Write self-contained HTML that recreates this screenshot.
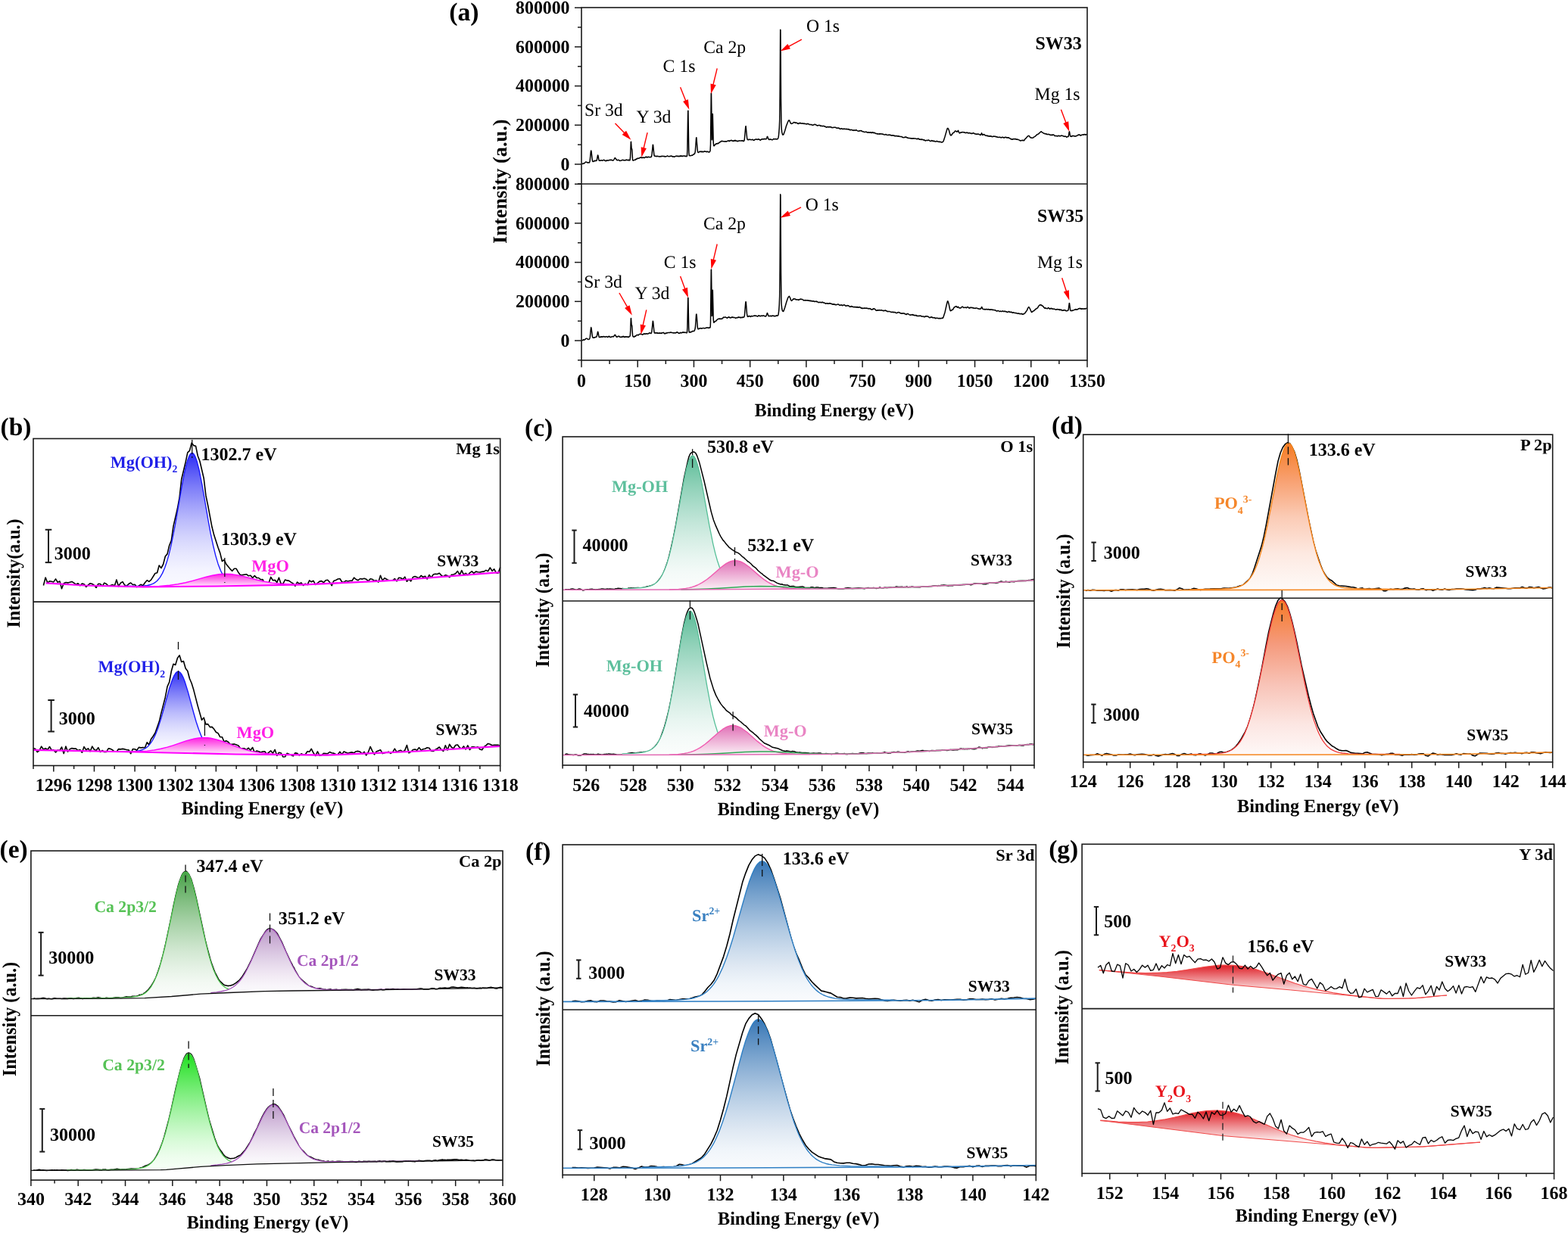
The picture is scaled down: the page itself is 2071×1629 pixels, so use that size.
<!DOCTYPE html><html><head><meta charset="utf-8"><title>XPS spectra</title><style>html,body{margin:0;padding:0;background:#fff;overflow:hidden}svg{display:block}</style></head><body><svg width="2071" height="1629" viewBox="0 0 2071 1629" text-rendering="geometricPrecision" font-family="'Liberation Serif', 'Times New Roman', serif"><rect width="2071" height="1629" fill="#fff"/><defs><linearGradient id="g1" gradientUnits="userSpaceOnUse" x1="0" y1="598.5" x2="0" y2="775.3"><stop offset="0.0" stop-color="#2c2cf4"/><stop offset="0.125" stop-color="#5656f6"/><stop offset="0.25" stop-color="#7c7cf8"/><stop offset="0.375" stop-color="#9d9dfa"/><stop offset="0.5" stop-color="#bbbbfc"/><stop offset="0.625" stop-color="#d3d3fd"/><stop offset="0.75" stop-color="#e6e6fe"/><stop offset="0.875" stop-color="#f4f4ff"/><stop offset="1.0" stop-color="#fafaff"/></linearGradient><linearGradient id="g2" gradientUnits="userSpaceOnUse" x1="0" y1="758.3" x2="0" y2="775.3"><stop offset="0" stop-color="#ff20e0"/><stop offset="1" stop-color="#fff0fc"/></linearGradient><linearGradient id="g3" gradientUnits="userSpaceOnUse" x1="0" y1="887.3" x2="0" y2="995.8"><stop offset="0.0" stop-color="#2c2cf4"/><stop offset="0.125" stop-color="#5656f6"/><stop offset="0.25" stop-color="#7c7cf8"/><stop offset="0.375" stop-color="#9d9dfa"/><stop offset="0.5" stop-color="#bbbbfc"/><stop offset="0.625" stop-color="#d3d3fd"/><stop offset="0.75" stop-color="#e6e6fe"/><stop offset="0.875" stop-color="#f4f4ff"/><stop offset="1.0" stop-color="#fafaff"/></linearGradient><linearGradient id="g4" gradientUnits="userSpaceOnUse" x1="0" y1="974.6" x2="0" y2="997.5"><stop offset="0" stop-color="#ff20e0"/><stop offset="1" stop-color="#fff0fc"/></linearGradient><linearGradient id="g5" gradientUnits="userSpaceOnUse" x1="0" y1="602.0" x2="0" y2="779.1"><stop offset="0.0" stop-color="#5cbc98"/><stop offset="0.125" stop-color="#79c8aa"/><stop offset="0.25" stop-color="#94d3bb"/><stop offset="0.375" stop-color="#acddcb"/><stop offset="0.5" stop-color="#c3e6d9"/><stop offset="0.625" stop-color="#d6eee5"/><stop offset="0.75" stop-color="#e7f5f0"/><stop offset="0.875" stop-color="#f4faf8"/><stop offset="1.0" stop-color="#fbfdfc"/></linearGradient><linearGradient id="g6" gradientUnits="userSpaceOnUse" x1="0" y1="740.6" x2="0" y2="779.0"><stop offset="0" stop-color="#e070b6"/><stop offset="1" stop-color="#fbf0f6"/></linearGradient><linearGradient id="g7" gradientUnits="userSpaceOnUse" x1="0" y1="807.3" x2="0" y2="997.5"><stop offset="0.0" stop-color="#5cbc98"/><stop offset="0.125" stop-color="#79c8aa"/><stop offset="0.25" stop-color="#94d3bb"/><stop offset="0.375" stop-color="#acddcb"/><stop offset="0.5" stop-color="#c3e6d9"/><stop offset="0.625" stop-color="#d6eee5"/><stop offset="0.75" stop-color="#e7f5f0"/><stop offset="0.875" stop-color="#f4faf8"/><stop offset="1.0" stop-color="#fbfdfc"/></linearGradient><linearGradient id="g8" gradientUnits="userSpaceOnUse" x1="0" y1="958.5" x2="0" y2="997.3"><stop offset="0" stop-color="#e070b6"/><stop offset="1" stop-color="#fbf0f6"/></linearGradient><linearGradient id="g9" gradientUnits="userSpaceOnUse" x1="0" y1="585.6" x2="0" y2="779.7"><stop offset="0" stop-color="#f67c24"/><stop offset="0.25" stop-color="#f8a070"/><stop offset="0.5" stop-color="#fbcbb5"/><stop offset="0.75" stop-color="#fde9e1"/><stop offset="1" stop-color="#fefaf8"/></linearGradient><linearGradient id="g10" gradientUnits="userSpaceOnUse" x1="0" y1="792.8" x2="0" y2="997.2"><stop offset="0" stop-color="#f67a26"/><stop offset="0.28" stop-color="#f59a7c"/><stop offset="0.55" stop-color="#f8c4b8"/><stop offset="0.8" stop-color="#fce6e2"/><stop offset="1" stop-color="#fef8f7"/></linearGradient><linearGradient id="g11" gradientUnits="userSpaceOnUse" x1="0" y1="1151.9" x2="0" y2="1319.4"><stop offset="0.0" stop-color="#47a047"/><stop offset="0.125" stop-color="#68b168"/><stop offset="0.25" stop-color="#86c186"/><stop offset="0.375" stop-color="#a2cfa2"/><stop offset="0.5" stop-color="#bbdcbb"/><stop offset="0.625" stop-color="#d2e8d2"/><stop offset="0.75" stop-color="#e4f1e4"/><stop offset="0.875" stop-color="#f3f9f3"/><stop offset="1.0" stop-color="#fbfdfb"/></linearGradient><linearGradient id="g12" gradientUnits="userSpaceOnUse" x1="0" y1="1227.2" x2="0" y2="1312.6"><stop offset="0.0" stop-color="#bb98c8"/><stop offset="0.125" stop-color="#c6a9d1"/><stop offset="0.25" stop-color="#d1b8da"/><stop offset="0.375" stop-color="#dac7e2"/><stop offset="0.5" stop-color="#e3d5e9"/><stop offset="0.625" stop-color="#ece1f0"/><stop offset="0.75" stop-color="#f3ecf5"/><stop offset="0.875" stop-color="#f8f5fa"/><stop offset="1.0" stop-color="#fcfafd"/></linearGradient><linearGradient id="g13" gradientUnits="userSpaceOnUse" x1="0" y1="1391.8" x2="0" y2="1546.2"><stop offset="0.0" stop-color="#1ee01e"/><stop offset="0.125" stop-color="#43e543"/><stop offset="0.25" stop-color="#66ea66"/><stop offset="0.375" stop-color="#87ef87"/><stop offset="0.5" stop-color="#a5f3a5"/><stop offset="0.625" stop-color="#c1f7c1"/><stop offset="0.75" stop-color="#d9fbd9"/><stop offset="0.875" stop-color="#ecfdec"/><stop offset="1.0" stop-color="#f8fff8"/></linearGradient><linearGradient id="g14" gradientUnits="userSpaceOnUse" x1="0" y1="1459.6" x2="0" y2="1540.7"><stop offset="0.0" stop-color="#bb98c8"/><stop offset="0.125" stop-color="#c6a9d1"/><stop offset="0.25" stop-color="#d1b8da"/><stop offset="0.375" stop-color="#dac7e2"/><stop offset="0.5" stop-color="#e3d5e9"/><stop offset="0.625" stop-color="#ece1f0"/><stop offset="0.75" stop-color="#f3ecf5"/><stop offset="0.875" stop-color="#f8f5fa"/><stop offset="1.0" stop-color="#fcfafd"/></linearGradient><linearGradient id="g15" gradientUnits="userSpaceOnUse" x1="0" y1="1137.8" x2="0" y2="1323.2"><stop offset="0.0" stop-color="#3877b6"/><stop offset="0.125" stop-color="#5a8ec2"/><stop offset="0.25" stop-color="#7aa4ce"/><stop offset="0.375" stop-color="#98b8d9"/><stop offset="0.5" stop-color="#b3cbe3"/><stop offset="0.625" stop-color="#cbdbec"/><stop offset="0.75" stop-color="#e0e9f3"/><stop offset="0.875" stop-color="#f0f5fa"/><stop offset="1.0" stop-color="#fafbfd"/></linearGradient><linearGradient id="g16" gradientUnits="userSpaceOnUse" x1="0" y1="1346.8" x2="0" y2="1543.2"><stop offset="0.0" stop-color="#3877b6"/><stop offset="0.125" stop-color="#5a8ec2"/><stop offset="0.25" stop-color="#7aa4ce"/><stop offset="0.375" stop-color="#98b8d9"/><stop offset="0.5" stop-color="#b3cbe3"/><stop offset="0.625" stop-color="#cbdbec"/><stop offset="0.75" stop-color="#e0e9f3"/><stop offset="0.875" stop-color="#f0f5fa"/><stop offset="1.0" stop-color="#fafbfd"/></linearGradient><linearGradient id="g17" gradientUnits="userSpaceOnUse" x1="0" y1="1275.0" x2="0" y2="1311.5"><stop offset="0" stop-color="#de1c24"/><stop offset="0.5" stop-color="#ee8a8e"/><stop offset="1" stop-color="#fdf2f2"/></linearGradient><linearGradient id="g18" gradientUnits="userSpaceOnUse" x1="0" y1="1467.1" x2="0" y2="1508.3"><stop offset="0" stop-color="#de1c24"/><stop offset="0.5" stop-color="#ee8a8e"/><stop offset="1" stop-color="#fdf2f2"/></linearGradient></defs><line x1="763.00" y1="242.85" x2="768.00" y2="242.85" stroke="#1a1a1a" stroke-width="1.5"/><line x1="759.00" y1="217.00" x2="768.00" y2="217.00" stroke="#1a1a1a" stroke-width="1.5"/><text transform="translate(752.50,224.60) scale(0.98,1)" font-size="24.3" font-weight="bold" text-anchor="end" fill="#000">0</text><line x1="763.00" y1="191.15" x2="768.00" y2="191.15" stroke="#1a1a1a" stroke-width="1.5"/><line x1="759.00" y1="165.30" x2="768.00" y2="165.30" stroke="#1a1a1a" stroke-width="1.5"/><text transform="translate(752.50,172.90) scale(0.98,1)" font-size="24.3" font-weight="bold" text-anchor="end" fill="#000">200000</text><line x1="763.00" y1="139.45" x2="768.00" y2="139.45" stroke="#1a1a1a" stroke-width="1.5"/><line x1="759.00" y1="113.60" x2="768.00" y2="113.60" stroke="#1a1a1a" stroke-width="1.5"/><text transform="translate(752.50,121.20) scale(0.98,1)" font-size="24.3" font-weight="bold" text-anchor="end" fill="#000">400000</text><line x1="763.00" y1="87.75" x2="768.00" y2="87.75" stroke="#1a1a1a" stroke-width="1.5"/><line x1="759.00" y1="61.90" x2="768.00" y2="61.90" stroke="#1a1a1a" stroke-width="1.5"/><text transform="translate(752.50,69.50) scale(0.98,1)" font-size="24.3" font-weight="bold" text-anchor="end" fill="#000">600000</text><line x1="763.00" y1="36.05" x2="768.00" y2="36.05" stroke="#1a1a1a" stroke-width="1.5"/><line x1="759.00" y1="10.20" x2="768.00" y2="10.20" stroke="#1a1a1a" stroke-width="1.5"/><text transform="translate(752.50,17.80) scale(0.98,1)" font-size="24.3" font-weight="bold" text-anchor="end" fill="#000">800000</text><line x1="763.00" y1="475.85" x2="768.00" y2="475.85" stroke="#1a1a1a" stroke-width="1.5"/><line x1="759.00" y1="450.00" x2="768.00" y2="450.00" stroke="#1a1a1a" stroke-width="1.5"/><text transform="translate(752.50,457.60) scale(0.98,1)" font-size="24.3" font-weight="bold" text-anchor="end" fill="#000">0</text><line x1="763.00" y1="424.15" x2="768.00" y2="424.15" stroke="#1a1a1a" stroke-width="1.5"/><line x1="759.00" y1="398.30" x2="768.00" y2="398.30" stroke="#1a1a1a" stroke-width="1.5"/><text transform="translate(752.50,405.90) scale(0.98,1)" font-size="24.3" font-weight="bold" text-anchor="end" fill="#000">200000</text><line x1="763.00" y1="372.45" x2="768.00" y2="372.45" stroke="#1a1a1a" stroke-width="1.5"/><line x1="759.00" y1="346.60" x2="768.00" y2="346.60" stroke="#1a1a1a" stroke-width="1.5"/><text transform="translate(752.50,354.20) scale(0.98,1)" font-size="24.3" font-weight="bold" text-anchor="end" fill="#000">400000</text><line x1="763.00" y1="320.75" x2="768.00" y2="320.75" stroke="#1a1a1a" stroke-width="1.5"/><line x1="759.00" y1="294.90" x2="768.00" y2="294.90" stroke="#1a1a1a" stroke-width="1.5"/><text transform="translate(752.50,302.50) scale(0.98,1)" font-size="24.3" font-weight="bold" text-anchor="end" fill="#000">600000</text><line x1="763.00" y1="269.05" x2="768.00" y2="269.05" stroke="#1a1a1a" stroke-width="1.5"/><line x1="759.00" y1="243.20" x2="768.00" y2="243.20" stroke="#1a1a1a" stroke-width="1.5"/><text transform="translate(752.50,250.80) scale(0.98,1)" font-size="24.3" font-weight="bold" text-anchor="end" fill="#000">800000</text><rect x="768.00" y="10.00" width="668.00" height="466.00" fill="none" stroke="#1a1a1a" stroke-width="1.6"/><line x1="768.00" y1="243.00" x2="1436.00" y2="243.00" stroke="#1a1a1a" stroke-width="1.6"/><line x1="805.11" y1="476.00" x2="805.11" y2="481.00" stroke="#1a1a1a" stroke-width="1.5"/><line x1="879.33" y1="476.00" x2="879.33" y2="481.00" stroke="#1a1a1a" stroke-width="1.5"/><line x1="953.56" y1="476.00" x2="953.56" y2="481.00" stroke="#1a1a1a" stroke-width="1.5"/><line x1="1027.78" y1="476.00" x2="1027.78" y2="481.00" stroke="#1a1a1a" stroke-width="1.5"/><line x1="1102.00" y1="476.00" x2="1102.00" y2="481.00" stroke="#1a1a1a" stroke-width="1.5"/><line x1="1176.22" y1="476.00" x2="1176.22" y2="481.00" stroke="#1a1a1a" stroke-width="1.5"/><line x1="1250.44" y1="476.00" x2="1250.44" y2="481.00" stroke="#1a1a1a" stroke-width="1.5"/><line x1="1324.67" y1="476.00" x2="1324.67" y2="481.00" stroke="#1a1a1a" stroke-width="1.5"/><line x1="1398.89" y1="476.00" x2="1398.89" y2="481.00" stroke="#1a1a1a" stroke-width="1.5"/><line x1="768.00" y1="476.00" x2="768.00" y2="485.20" stroke="#1a1a1a" stroke-width="1.5"/><text transform="translate(768.00,510.50) scale(0.98,1)" font-size="24.3" font-weight="bold" text-anchor="middle" fill="#000">0</text><line x1="842.22" y1="476.00" x2="842.22" y2="485.20" stroke="#1a1a1a" stroke-width="1.5"/><text transform="translate(842.22,510.50) scale(0.98,1)" font-size="24.3" font-weight="bold" text-anchor="middle" fill="#000">150</text><line x1="916.44" y1="476.00" x2="916.44" y2="485.20" stroke="#1a1a1a" stroke-width="1.5"/><text transform="translate(916.44,510.50) scale(0.98,1)" font-size="24.3" font-weight="bold" text-anchor="middle" fill="#000">300</text><line x1="990.67" y1="476.00" x2="990.67" y2="485.20" stroke="#1a1a1a" stroke-width="1.5"/><text transform="translate(990.67,510.50) scale(0.98,1)" font-size="24.3" font-weight="bold" text-anchor="middle" fill="#000">450</text><line x1="1064.89" y1="476.00" x2="1064.89" y2="485.20" stroke="#1a1a1a" stroke-width="1.5"/><text transform="translate(1064.89,510.50) scale(0.98,1)" font-size="24.3" font-weight="bold" text-anchor="middle" fill="#000">600</text><line x1="1139.11" y1="476.00" x2="1139.11" y2="485.20" stroke="#1a1a1a" stroke-width="1.5"/><text transform="translate(1139.11,510.50) scale(0.98,1)" font-size="24.3" font-weight="bold" text-anchor="middle" fill="#000">750</text><line x1="1213.33" y1="476.00" x2="1213.33" y2="485.20" stroke="#1a1a1a" stroke-width="1.5"/><text transform="translate(1213.33,510.50) scale(0.98,1)" font-size="24.3" font-weight="bold" text-anchor="middle" fill="#000">900</text><line x1="1287.56" y1="476.00" x2="1287.56" y2="485.20" stroke="#1a1a1a" stroke-width="1.5"/><text transform="translate(1287.56,510.50) scale(0.98,1)" font-size="24.3" font-weight="bold" text-anchor="middle" fill="#000">1050</text><line x1="1361.78" y1="476.00" x2="1361.78" y2="485.20" stroke="#1a1a1a" stroke-width="1.5"/><text transform="translate(1361.78,510.50) scale(0.98,1)" font-size="24.3" font-weight="bold" text-anchor="middle" fill="#000">1200</text><line x1="1436.00" y1="476.00" x2="1436.00" y2="485.20" stroke="#1a1a1a" stroke-width="1.5"/><text transform="translate(1436.00,510.50) scale(0.98,1)" font-size="24.3" font-weight="bold" text-anchor="middle" fill="#000">1350</text><text transform="translate(1102.00,550.00) scale(0.96,1)" font-size="24.8" font-weight="bold" text-anchor="middle" fill="#000">Binding Energy (eV)</text><text transform="translate(668.60,239.70) rotate(-90)" font-size="26.3" font-weight="bold" text-anchor="middle" fill="#000">Intensity (a.u.)</text><text transform="translate(593.20,27.30)" font-size="33.8" font-weight="bold" text-anchor="start" fill="#000">(a)</text><polyline points="768.5,216.6 769.1,216.4 769.3,216.5 769.5,216.3 769.7,216.4 770.1,216.1 770.9,216 771.3,215.8 771.5,216 773.5,213.9 773.9,214.1 774.3,214 775.3,214.7 775.7,214.6 776.1,215 777.1,214.6 777.9,215 778.5,214.8 779.1,213.1 780.3,200.9 780.7,199 781.1,200.5 782.3,211.5 782.7,213.2 783.1,213.5 783.5,213.5 783.7,213.3 784.5,213 784.7,212.6 784.9,212.7 785.3,212.3 785.7,212.7 785.9,212.3 786.5,212.3 787.1,212.6 787.7,212 787.9,212.1 788.1,212 788.5,210.6 789.5,205.1 789.7,205.1 789.9,205.4 790.9,210.9 791.1,211.7 791.5,212.3 792.3,212 792.7,212.3 793.1,212 793.5,212.1 793.9,211.7 794.7,211.8 795.9,212.2 797.1,211.6 797.3,211.2 798.5,211.7 799.1,212.2 799.3,212.6 800.1,212.4 800.5,212.7 801.3,211.7 803.9,211.9 804.1,211.7 804.7,211.5 805.3,211.6 805.9,211.2 806.1,211.5 806.9,211.3 807.1,211.5 807.3,211.3 807.7,211.6 808.1,211.4 808.9,212 809.1,211.8 809.3,212 810.1,211.9 811.1,210.6 811.7,209.3 812.3,208.6 813.5,209.8 814.3,211.3 814.7,211.3 815.5,211.8 816.5,211.2 817.1,211.6 817.7,211.7 818.7,212.5 819.1,212.2 819.5,212.4 820.5,212.1 820.9,211.7 821.3,211.8 821.5,211.6 821.9,211.6 822.1,211.2 822.9,211.5 823.3,211.4 824.3,212 824.7,211.7 825.5,211.8 826.5,211.5 826.7,211.7 827.1,211.3 827.9,211.1 828.3,211.6 828.9,211.6 829.1,211.7 829.5,211.5 830.1,211.8 830.3,211.3 830.7,211.7 831.1,211.6 831.7,211.9 831.9,211.8 832.1,211.1 832.5,208.2 833.3,187.8 833.5,187.3 834.1,196.1 834.3,196.8 834.5,196.5 834.7,197.3 835.5,209.9 835.7,211.5 836.1,212.1 836.7,212.1 836.9,211.8 838.1,211.4 838.5,210.9 838.7,210.9 838.9,211.3 839.3,211.2 839.7,210.5 840.1,210.2 840.3,210.5 840.7,210.3 841.3,209.4 841.7,209.7 842.3,209.3 843.9,209.2 844.5,208.7 845.1,208.6 845.3,208.3 845.7,208.3 845.9,208 846.5,208.2 846.9,208 847.3,208.4 847.7,208.3 848.3,208.5 849.5,208 850.5,208.5 851.3,208.5 852.3,207.6 852.9,207.5 853.1,207.2 853.5,207.6 853.7,207.4 853.9,207.8 854.1,207.7 854.5,207.8 854.7,207.6 855.1,208 855.9,207.3 856.1,207.4 856.5,207.2 856.7,207.4 857.5,207.4 857.7,207.5 858.1,207.4 858.5,207.9 859.7,207.3 860.1,207.5 860.5,206.6 861.1,203.4 862.3,191.3 862.5,191.3 862.7,192.6 863.9,204.8 864.1,205.6 864.7,206.2 865.3,206.4 865.5,206.2 865.7,206.3 866.1,206.2 866.3,206.5 866.7,206.6 866.9,206.4 867.1,206.7 867.9,206.6 868.3,206.3 869.3,206.4 870.3,206.9 871.1,206.9 871.7,206.5 872.5,206.9 873.1,206.5 873.7,206.7 874.5,206.2 875.3,206.6 876.3,206.3 877.1,206.7 877.5,206.5 878.5,207.1 878.9,206.8 879.7,206.8 881.7,205.8 881.9,206.1 882.5,206.4 883.7,206.7 884.3,206.4 884.9,206.7 886.3,206 887.3,206.2 888.1,207 888.3,207 888.5,206.6 889.3,207 889.7,206.8 889.9,207 890.3,207 890.5,207.3 891.1,207.1 891.3,206.8 891.7,206.8 892.9,206 893.3,206.2 893.9,206.2 894.5,206.5 894.7,206.3 895.3,206.5 895.5,206.3 896.9,206.7 897.5,206.2 897.9,206.5 898.5,206.4 898.9,205.7 899.3,206.3 899.7,206.4 899.9,206 900.5,206 900.9,206.5 901.1,206.2 901.9,206.5 902.3,206 902.5,206.1 902.9,205.9 903.7,206.1 904.1,205.9 904.7,206.5 905.3,206.3 906.1,206.6 906.5,206.3 906.9,206.6 907.3,206.2 907.5,205.6 907.9,197 908.5,156.6 908.7,146.5 908.9,146.3 909.7,196.3 909.9,202 910.3,205.3 910.9,205.7 911.7,205.7 912.3,205.5 913.1,205.6 913.3,205.3 914.5,205.2 915.7,204.1 916.1,204 916.5,203.5 917.1,203.4 917.7,202.7 918.3,200.1 919.5,183.3 919.7,181.8 919.9,181.8 921.1,197.3 921.7,201 922.1,201.4 922.7,201.6 923.5,200.6 923.9,200.6 924.3,200.1 924.5,200.3 924.9,200.1 925.3,200.6 925.9,200.3 926.3,200.6 926.5,200.2 926.9,200.5 927.5,200 927.9,200.7 928.5,200.8 928.9,200.5 929.5,200.4 929.9,200 930.5,199.8 931.1,200.3 931.7,200.1 932.9,200.4 933.1,200.2 933.5,200.6 933.9,200.2 934.9,200.2 935.1,200.5 935.5,200.6 935.9,201 936.9,201 937.7,200.1 938.1,199 938.5,190.8 939.3,123.4 939.5,123 940.3,184.7 940.5,184 941.3,150.5 942.1,183.6 942.3,189 942.7,192.6 943.1,192.8 943.5,192.5 944.1,191.5 944.9,190.6 945.5,190.2 945.7,190.4 946.3,189.7 946.9,189.9 947.1,189.5 947.5,189.6 947.7,189.4 947.9,189.4 948.1,189.8 948.3,189.8 948.7,189.5 948.9,189 949.1,189.2 950.3,187.9 950.5,188 950.7,187.7 950.9,187.9 952.1,186.9 952.3,187 952.9,186.4 953.5,186.2 953.9,186.7 954.3,186.5 954.7,186.7 956.1,186.7 956.5,186.9 958.5,186.7 958.9,187 959.1,186.8 959.5,187.1 961.1,186.2 961.3,185.9 961.7,186.1 962.3,186.1 962.5,186.3 962.7,186.1 963.3,186.6 964.1,185.7 964.7,186 965.5,185.3 966.1,185.7 966.7,185.4 967.3,186.2 967.7,186.2 968.1,186.1 968.5,186.4 969.1,186.4 969.5,185.6 970.1,186.1 970.5,185.6 970.7,185.8 971.1,185.4 971.5,186.1 971.9,185.8 972.3,186.1 972.7,186 972.9,186.5 973.3,186.5 973.7,186.2 973.9,186.4 974.1,186.3 974.5,186.7 974.9,186.2 975.7,186.2 976.3,185.8 976.9,186.1 977.5,186 977.7,186.1 978.1,185.9 979.5,186 979.9,185.7 980.1,186.1 980.3,185.9 980.7,185.8 981.7,186.2 981.9,186.7 982.1,186.4 982.3,186.5 982.5,186.4 983.1,185.3 983.3,184.2 984.7,168.2 984.9,167 985.1,166.7 986.7,182.8 987.3,184.4 988.1,184.8 988.7,184.3 989.9,184.4 990.3,184.1 990.9,184.5 991.3,184.4 992.1,184.7 993.1,184.6 993.7,184.2 994.1,184.4 994.7,185.1 995.1,184.9 995.5,185.4 996.1,185.2 996.7,184.5 997.3,184.5 998.1,183.9 998.9,184 999.1,184.2 999.3,184 999.5,184.3 999.7,184.2 1000.1,184.4 1001.3,184.1 1001.5,183.8 1002.5,184.2 1002.7,184 1003.9,185.1 1004.3,185.2 1004.9,184.4 1005.5,184.4 1006.1,183.8 1006.5,183.8 1006.7,184.1 1008.3,183.5 1008.5,183.9 1009.3,183.8 1009.5,183.5 1009.9,183.8 1010.1,183.6 1010.3,183.7 1010.5,183.3 1011.7,183.9 1012.1,183.7 1012.5,183.1 1013.1,181.1 1013.5,180.3 1014.1,181.2 1014.7,183.4 1015.5,184.4 1015.9,184.3 1016.1,184.6 1016.3,184.6 1016.7,184 1017.9,184.2 1018.3,184 1018.7,184.5 1020.3,184.7 1020.7,184.2 1021.1,184.2 1021.5,183.6 1021.9,183.5 1023.3,183.9 1023.7,183.7 1024.1,183.6 1024.3,183.8 1024.7,183.6 1025.1,183.8 1026.1,184 1026.5,183.7 1026.9,183.8 1027.5,183.1 1028.1,181.4 1028.5,178.8 1029.3,169.1 1029.7,159.4 1030.1,127.3 1030.7,39.2 1030.9,39.8 1031.5,130.8 1031.9,162.8 1032.3,171.1 1032.7,174.4 1033.5,177.6 1034.1,178.2 1034.5,178 1035.1,177.2 1036.7,172.7 1038.7,165.7 1038.9,165.2 1039.1,165.1 1039.9,162.7 1041.1,160 1042.1,158.8 1042.7,159.2 1044.1,162.5 1044.5,163.1 1045.1,163.4 1045.5,163.3 1045.7,163.4 1046.3,163.1 1046.9,163 1048.5,161.5 1050.1,162 1050.5,162.4 1050.9,162 1051.7,162.1 1052.1,162.4 1052.9,162.6 1053.5,163.2 1053.9,163.3 1054.1,163.5 1054.5,163.1 1054.7,163.1 1054.9,163.5 1055.1,163.5 1055.3,163.1 1056.1,162.5 1056.7,162.7 1056.9,162.4 1057.3,162.9 1057.9,162.8 1058.1,163.1 1058.9,163.2 1059.3,162.9 1059.9,163.2 1060.1,162.9 1061.3,163.5 1061.9,163.1 1062.1,163.4 1062.3,163.3 1062.9,163.5 1063.3,163.4 1064.3,163.8 1064.7,163.7 1065.3,164 1066.1,163.6 1066.5,163.7 1066.9,163.4 1067.3,163.4 1068.1,164.1 1068.7,164.2 1069.5,164.7 1071.1,164.4 1072.1,164.8 1072.7,165.5 1073.1,165.5 1073.5,165.2 1074.1,165.3 1075.1,164.5 1075.3,164.7 1076.1,164.3 1077.3,164.7 1079.1,165.9 1079.5,165.7 1080.3,165.9 1081.1,165.5 1082.3,165.5 1082.9,165.6 1083.7,166.4 1083.9,166.2 1084.7,166.2 1084.9,166.5 1085.5,166.4 1085.7,166.2 1086.3,166.8 1087.3,166.3 1087.7,166.6 1088.3,166.5 1088.9,167.1 1089.5,167 1091.3,168 1091.7,167.9 1091.9,168.1 1092.3,167.7 1092.5,167.8 1092.9,167.6 1093.7,167.7 1093.9,167.6 1094.3,167.9 1094.7,167.8 1095.1,167.9 1095.5,167.6 1096.3,167.7 1096.5,167.5 1096.7,168 1097.3,167.8 1097.7,168.1 1098.3,168.2 1098.5,168.6 1098.9,168.3 1099.5,168.7 1100.3,168.6 1100.5,168.3 1100.9,168.5 1101.3,168.5 1101.7,168.2 1102.5,168.3 1103.1,168.2 1103.7,168.5 1103.9,168.4 1104.3,168.6 1104.5,169 1105.3,169.3 1106.9,168.9 1107.7,169.2 1108.3,169.7 1108.7,169.6 1109.7,170.5 1111.7,169.8 1112.1,169.8 1112.5,170.5 1112.7,170.3 1112.9,170.5 1113.7,170.4 1114.1,170.6 1114.5,170 1114.7,170.2 1114.9,170.1 1115.5,170.3 1115.7,170.5 1116.1,170.4 1116.3,170.6 1116.7,170.4 1117.1,170.6 1117.7,170.3 1117.9,170.7 1118.1,170.5 1119.3,170.8 1119.7,170.6 1120.1,170.7 1120.3,170.6 1120.5,170.9 1121.1,170.6 1121.5,171.3 1122.1,171.4 1122.3,171.7 1122.5,171.4 1122.9,171.7 1123.5,171.5 1123.7,171.7 1124.1,171.6 1124.3,171.3 1124.5,171.6 1125.1,171.6 1125.5,171.9 1126.1,171.9 1126.3,172.2 1126.7,172.1 1127.1,172.4 1127.5,172 1128.1,172.3 1128.5,171.9 1129.5,172.4 1130.1,171.8 1131.1,172.1 1131.3,171.9 1131.9,172.6 1132.9,172.9 1133.3,173.3 1134.7,173.2 1135.5,172.6 1135.7,172.9 1136.1,172.7 1136.3,172.8 1137.1,172.6 1137.5,172.9 1137.7,172.7 1139.1,173.8 1139.5,173.7 1139.9,174 1140.5,174 1141.7,174.5 1142.3,174.6 1143.7,174.1 1144.3,174.2 1144.5,174.5 1145.5,175.1 1146.1,175 1146.3,175.2 1146.5,174.8 1147.1,174.9 1147.5,174.8 1147.7,175.1 1148.1,175.3 1148.3,175.1 1148.5,175.2 1149.1,175 1149.3,175.2 1149.7,174.8 1150.1,174.9 1150.7,175.5 1151.1,175.5 1151.3,175.1 1151.7,175.5 1152.3,174.7 1152.7,174.7 1153.3,175.4 1153.7,175.2 1154.3,175.7 1155.1,175.2 1155.5,175.8 1156.3,176.1 1156.7,176.5 1157.5,176.6 1157.9,176.4 1158.5,176.9 1159.5,176.7 1159.7,177.1 1160.7,177 1161.3,177.2 1161.9,176.7 1162.3,176.9 1162.5,176.7 1163.3,177.1 1163.7,176.7 1163.9,176.9 1164.1,176.8 1164.5,177 1165.3,176.9 1165.9,177.5 1166.3,177.3 1166.9,177.4 1167.3,177.8 1168.3,177.9 1168.7,178.1 1169.1,177.7 1169.3,177.8 1169.9,177.4 1171.9,178.6 1173.3,178.1 1174.1,178.6 1174.7,178 1175.3,178.3 1176.1,178.3 1176.7,179 1178.3,178.7 1179.1,179 1179.9,178.8 1180.7,179.1 1180.9,179.4 1181.3,179.3 1181.7,179.7 1182.1,179.6 1182.3,179.8 1182.9,179.5 1184.1,179.7 1184.7,179.5 1185.3,180 1186.1,179.8 1186.7,180.2 1186.9,179.8 1187.5,180.1 1187.9,180 1188.1,180.3 1189.1,180.6 1189.3,180.4 1189.7,180.5 1190.7,180.4 1191.1,180.6 1192.1,181.6 1192.5,181.4 1193.3,181.8 1194.1,181.4 1194.5,181.7 1195.7,181 1196.3,181.2 1196.7,181.1 1196.9,181.4 1197.3,181.6 1197.5,181.4 1197.7,181.8 1198.3,181.9 1198.7,182.2 1198.9,181.9 1199.7,182.5 1200.3,182.6 1200.5,182.5 1200.9,182.7 1201.7,182.4 1202.5,182.7 1202.9,182.7 1203.1,182.9 1203.5,182.8 1203.7,183.1 1204.3,182.8 1204.9,183.2 1205.1,183 1205.3,183.1 1205.7,182.7 1206.5,183 1207.1,182.7 1207.3,183.1 1208.9,182.9 1210.5,183.5 1210.9,183.5 1211.1,183.8 1212.5,183 1212.9,183.4 1213.3,183.3 1213.9,183.7 1214.3,184.2 1214.7,184.2 1214.9,184 1215.3,184.3 1215.7,184 1216.9,184.6 1217.1,184.1 1217.9,184.1 1218.9,184.5 1219.1,184.8 1219.3,184.7 1219.9,185.1 1220.5,184.7 1220.7,184.7 1221.3,185.5 1221.7,185.5 1221.9,185.8 1222.5,186 1223.3,185.4 1223.7,185.6 1223.9,185.3 1224.1,185.3 1224.7,185.6 1224.9,185.4 1225.7,185.2 1225.9,185.4 1226.7,185 1227.5,185.7 1227.9,185.8 1228.1,186.2 1228.9,186.6 1229.1,186.4 1229.7,186.5 1230.1,185.8 1230.3,186 1230.7,185.6 1231.1,186 1231.5,185.9 1232.1,186.4 1232.3,186.1 1232.9,186.6 1233.1,186.3 1233.5,186.4 1233.7,186.3 1234.1,186.3 1235.1,187.1 1236.1,186.9 1236.5,187 1237.3,186.2 1237.9,186.8 1238.3,186.7 1238.9,187.3 1239.7,187.2 1240.3,187.6 1240.9,187.1 1241.7,187.5 1242.3,187.4 1243.1,188 1243.7,188 1243.9,187.8 1244.5,187.9 1244.7,187.6 1245.3,187.6 1246.1,186.4 1247.9,181 1251.1,169.9 1251.9,169.4 1252.7,170.5 1253.5,172.5 1254.7,177.1 1255.3,178.3 1255.9,178.9 1256.3,178.8 1256.7,178.2 1257.1,178 1258.5,175.8 1259.1,175.4 1259.5,175.6 1260.1,174.8 1260.3,174.8 1261.3,173.4 1261.9,172.9 1262.1,173.2 1262.9,173.4 1263.9,174.2 1264.5,173.9 1265.5,172.4 1266.7,175.1 1267.5,175.9 1268.1,175.6 1268.5,175.2 1268.9,175.1 1269.3,175.3 1269.7,174.8 1270.9,174.8 1271.9,174.5 1272.1,174.7 1273.3,174.7 1273.9,175.3 1274.7,175.1 1275.1,175.7 1275.3,175.5 1276.3,175.4 1276.5,175.2 1276.7,175.3 1277.1,174.9 1278.3,175.6 1278.5,176 1280.1,175.6 1280.3,175.7 1280.5,175.5 1281.3,176.1 1282.3,176.1 1282.7,176.5 1283.3,176.3 1283.7,176.6 1284.7,176 1285.3,176.1 1285.7,175.6 1285.9,175.6 1286.3,176.2 1287.1,176.6 1287.3,176.5 1287.9,177.1 1288.5,176.9 1289.1,177.1 1289.5,177.5 1289.7,177.1 1290.5,177.3 1291.5,177.1 1291.7,177.3 1292.3,177.1 1292.9,177.4 1293.1,177.3 1293.3,177.6 1293.9,177.7 1294.3,178.2 1294.9,178.2 1295.1,178.5 1296.1,176.9 1296.5,175.8 1297.1,176.9 1297.5,178.3 1297.7,178.4 1298.1,178.1 1298.3,178.3 1299.1,177.4 1299.3,177.4 1299.9,177.8 1300.3,177.9 1300.9,178.5 1301.1,179 1301.5,178.9 1301.7,179.1 1302.7,179.2 1303.5,179.1 1303.9,179.6 1304.3,179.3 1304.7,179.4 1304.9,179.8 1305.3,179.9 1305.9,179.6 1306.7,180.2 1306.9,179.9 1307.3,179.8 1307.5,180.1 1308.1,179.8 1308.3,180.1 1308.5,179.8 1309.9,180.2 1310.1,180.7 1310.3,180.5 1310.5,180.6 1310.7,180.4 1311.9,180.5 1312.1,180.1 1312.5,180 1313.9,180.2 1314.1,180.1 1314.3,180.4 1315.5,180.5 1315.7,180.8 1315.9,180.6 1316.1,180.9 1316.3,180.8 1317.1,181 1317.5,181.3 1317.7,181.1 1319.1,181.6 1319.5,181.2 1320.1,181.3 1321.1,181.3 1322.3,182 1323.3,181.3 1323.5,181.5 1324.7,181.3 1325.5,181.9 1326.5,181.7 1326.7,181.9 1327.3,181.6 1327.5,181.2 1328.1,181.5 1328.7,181.5 1328.9,181.3 1329.3,181.8 1329.5,181.7 1329.7,181.9 1329.9,181.7 1330.3,182 1330.7,181.7 1330.9,181.9 1331.3,181.7 1331.5,181.9 1331.7,181.8 1332.1,182 1332.3,181.8 1333.1,182.6 1333.3,182.5 1334.5,183.3 1334.7,183.3 1334.9,183.7 1335.5,183.5 1335.9,184 1336.7,184.2 1337.1,183.8 1337.5,184.2 1337.7,183.9 1338.3,183.5 1339.5,183.8 1340.3,183.5 1340.7,183.7 1341.3,183.6 1341.7,183.9 1341.9,183.8 1342.3,184.3 1342.7,184.1 1342.9,184.3 1343.5,184 1344.1,184.4 1344.9,184.3 1345.3,184.6 1346.1,184.9 1346.5,185.4 1347.3,185.5 1347.7,185.9 1350.5,185.3 1350.7,185.6 1351.1,185.3 1351.7,185.7 1352.1,185.6 1352.5,185.8 1353.1,185.1 1353.7,183.9 1354.7,182.8 1355.3,182.5 1356.5,180.9 1358.3,179.4 1358.7,179.3 1359.7,179.9 1360.5,181.5 1361.1,181.5 1361.3,181.9 1361.9,182.2 1362.5,181.9 1363.1,182.3 1364.3,182 1365.5,181.3 1366.1,180.6 1367.3,180.2 1367.7,179.6 1368.9,178.7 1369.3,178 1370.3,177.5 1370.5,177.6 1371.3,177 1371.7,176.9 1372.9,175.6 1373.3,175.6 1373.7,174.9 1374.3,174.5 1374.5,174.1 1375.3,173.8 1375.7,174.3 1376.1,174.4 1376.7,175.1 1376.9,175 1378.5,176.2 1379.1,176.2 1379.5,176.6 1380.3,176.8 1380.7,176.7 1381.1,177 1381.9,176.8 1382.7,177.6 1383.3,177.4 1383.9,177.7 1384.7,177.3 1387.7,178.5 1388.3,178.2 1389.1,178.5 1389.3,178.2 1389.7,178.4 1390.1,178.1 1390.5,178.4 1391.1,177.9 1391.5,178.1 1391.7,178 1391.9,178.4 1392.5,178.6 1393.3,179.7 1393.7,179.6 1393.9,179.4 1394.3,179.6 1394.7,179.4 1395.5,179.4 1395.9,179.9 1396.7,179.9 1397.1,179.5 1397.9,179.3 1398.5,179.4 1398.9,179.8 1399.7,179.6 1399.9,179.8 1400.5,179.8 1400.9,179.4 1401.7,179.4 1401.9,179.1 1402.3,179.3 1402.7,179.1 1403.5,179.4 1403.7,179.7 1404.3,179.7 1405.5,180.4 1406.1,180.3 1406.5,180 1407.7,180.3 1408.7,181.3 1409.3,180.9 1410.3,180.5 1410.9,180.6 1411.1,180.2 1411.5,178.7 1412.1,174.8 1412.3,174 1412.5,173.8 1413.3,178.4 1413.7,179.7 1413.9,180.1 1414.1,180 1415.1,180.4 1415.7,179.8 1416.3,179.9 1416.7,179.3 1417.1,179.5 1417.5,179.3 1417.7,179.6 1418.3,179.5 1418.7,179.9 1419.1,179.7 1419.5,180 1420.1,179.9 1420.7,180.2 1421.9,179.3 1422.1,179.6 1422.9,179.2 1423.3,178.6 1423.9,178.5 1424.7,178 1425.3,178.2 1425.5,178 1425.9,178.4 1426.1,178.2 1427.1,178.7 1427.5,179.2 1428.5,178.3 1429.3,177.9 1429.9,177.9 1430.3,178.2 1430.5,178 1430.9,178.1 1431.3,177.8 1431.7,177.9 1432.3,177.4 1433.1,177.9 1433.3,177.9 1433.5,177.7 1433.9,177.7 1434.1,178.1 1434.9,177.6 1435.5,177.9" fill="none" stroke="#000" stroke-width="1.5" stroke-linejoin="round"/><polyline points="768.5,450 769.9,449.4 770.5,448.6 771.1,449.2 772.5,448.8 773.1,448 773.3,448 773.5,447.7 774.3,447.2 775.3,447.2 775.5,447.6 775.9,447.7 776.7,448.5 778.1,448.2 778.7,447.6 779.3,445.4 780.3,435.2 780.7,432.6 781.1,434 782.5,445.1 782.9,446 783.1,445.9 783.9,446.4 784.5,446.2 784.9,445.7 785.3,446 786.3,445.4 786.7,445.3 786.9,445.5 787.3,445.3 787.5,445.4 788.1,444.6 788.7,442.6 789.5,438.3 789.7,438.3 790.1,439.6 790.9,444.2 791.3,445.3 791.7,445.6 792.3,445.2 792.5,445.4 792.7,445.2 792.9,445.5 793.1,445.2 793.5,445.3 793.9,444.8 794.3,445.2 794.9,444.7 795.5,444.9 795.9,445.3 796.1,445 796.3,445.1 797.3,444.5 799.3,445.3 800.3,444.7 800.7,444.8 801.1,444.5 802.3,445.4 802.9,445.3 803.3,444.8 803.5,445 804.1,444.2 804.9,444.5 805.3,445.1 805.5,444.9 805.7,445 806.1,445.6 806.3,445.4 807.1,445.5 807.9,444.7 809.3,444.6 809.9,444.9 810.1,444.7 810.7,444.5 811.7,442.6 812.1,442.4 812.5,442.4 812.9,442.7 813.7,444.6 813.9,444.5 814.5,445.2 814.9,445.3 815.1,445.1 815.3,445.1 815.7,444.7 815.9,444.8 816.3,444.3 816.7,444.2 817.1,444.5 817.9,444.3 818.7,445.3 819.3,445.2 819.9,445.5 820.5,445.4 820.9,444.9 821.3,445.3 821.7,445.2 822.5,444.5 822.7,445 823.3,444.4 824.5,445.4 824.9,444.9 825.1,445.2 825.5,445.3 826.5,444.7 826.9,445.1 827.1,444.9 827.3,445.1 827.7,445.1 828.1,444.8 828.3,445.1 828.7,445.2 829.1,444.9 830.1,445.6 830.3,445.1 830.5,445.1 830.9,444.6 831.1,444.8 831.9,444.3 832.3,443.3 832.7,437.2 833.3,421 833.5,420.5 834.1,429.1 834.3,429.8 834.5,429.6 834.7,430.5 835.5,442.4 835.9,444.2 836.5,444.9 836.9,444.9 837.1,445.1 837.7,444.9 838.1,445 838.3,444.4 838.7,444.1 838.9,444.2 839.3,444 839.5,444.1 839.7,443.7 840.3,443.5 840.5,443 841.5,442.3 841.7,442.6 842.1,442.4 842.5,442.9 842.9,443 844.1,441.7 844.9,441.4 845.9,441.2 846.5,441.5 846.7,441.2 846.9,441.2 847.1,441.4 847.7,441.6 847.9,441.9 848.7,442.2 849.1,441.8 849.9,441.5 850.5,440.8 851.7,441.3 852.5,441.2 852.9,440.8 853.1,440.9 853.9,440.7 854.9,441.2 855.1,441 855.5,441.1 856.5,440.8 856.9,440.4 857.3,440.3 857.7,439.8 858.7,439.9 859.9,440.6 860.7,439 860.9,438 862.3,424.2 862.5,424.3 862.7,425.3 863.9,438 864.3,439.7 864.7,440.1 865.3,439.7 865.7,440 866.1,440.1 866.3,439.7 866.7,439.7 867.1,440 867.7,439.7 868.3,440.2 868.9,440 869.7,440.4 870.3,440 871.1,440.2 871.5,439.8 872.3,440.3 873.3,440.1 873.5,440.5 873.9,440 874.1,440.2 874.5,439.8 875.9,439.6 876.1,439.2 877.3,440.5 877.5,440.3 878.1,441 878.5,440.7 878.7,440.8 879.3,440 880.3,440.2 881.1,439.7 881.3,440 882.1,439.4 882.7,439.6 883.7,439.5 884.5,439.6 884.7,439.3 885.1,439.4 885.7,439 886.1,439.2 886.3,439 886.9,439.5 887.5,439.4 888.7,439.8 888.9,439.6 889.5,439.9 890.1,439.8 890.5,439.9 890.7,439.6 892.1,440 892.5,439.5 892.9,439.7 893.3,439.3 893.7,439.2 894.1,438.7 894.3,438.8 894.5,439.2 894.9,439.1 895.3,439.5 895.9,439.5 896.3,440.3 896.5,440.1 896.7,440.4 897.1,440.2 897.3,440.3 897.7,440 897.9,440.1 898.1,439.6 898.7,439.4 898.9,439.6 899.3,439.2 900.1,439.9 900.9,439.4 901.3,439.4 901.7,438.9 902.3,439.3 902.5,438.9 903.5,439.5 904.1,439 904.7,439.3 905.5,439.3 906.1,439.7 906.3,439.6 907.1,439.8 907.3,439.6 907.5,438.7 907.9,432.2 908.7,393.5 908.9,393.6 909.7,432.5 909.9,436.8 910.3,439 910.7,439.2 911.1,438.7 911.9,438.5 912.5,439 912.7,438.7 914.1,438 914.5,437.5 914.7,437.7 915.1,437.4 915.3,437.5 915.5,437.4 915.7,437.6 916.3,437.7 916.7,437 917.1,437.1 917.5,436.4 918.1,434.1 918.5,431.3 919.5,416.6 919.7,415.2 919.9,415 920.3,418.4 921.3,432.2 921.9,434.6 922.1,434.8 922.7,434.7 923.1,434.3 923.7,434.3 924.1,433.8 924.7,433.6 925.9,433.7 926.1,433.9 926.5,433.7 926.7,433.9 926.9,433.8 927.3,434 927.9,433.6 929.7,433.5 930.9,433.9 931.3,433.4 931.9,433.6 933.1,432.8 933.5,433.1 934.5,432.8 934.7,432.9 934.9,432.9 935.3,433.4 935.9,433.2 936.1,432.9 936.5,433.2 937.9,432.8 938.1,432.5 938.3,430.3 938.5,424.7 939.3,356.6 939.5,356.1 940.3,417.4 940.5,416.6 941.3,383.3 942.1,417.2 942.3,422.5 942.7,426.1 942.9,426.2 943.3,426 943.9,424.9 944.1,424.8 944.3,424.9 945.7,423.9 946.1,423.8 947.5,421.9 948.1,421.8 948.3,421.4 949.3,421.1 949.5,421.3 949.9,421.4 950.1,421.2 950.3,421.5 950.7,421.1 951.3,421.5 951.9,421 952.7,421.4 953.7,421.3 954.3,420.2 954.9,420 955.7,419.1 956.5,419.5 957.1,419.1 958.5,419.1 959.5,419.8 959.9,419.7 960.5,420.3 961.1,419.6 961.5,419.6 962.3,418.8 962.5,418.8 963.3,419.4 963.5,419.2 963.7,419.2 964.3,419.9 965.1,419.5 965.7,419.9 966.1,419.3 966.5,419.3 966.9,418.9 967.3,419.3 967.7,419.1 968.1,419.5 968.5,419.2 968.7,419.6 969.1,419.6 969.3,419.3 969.7,419.6 970.3,419.6 970.9,419.9 971.1,419.8 971.5,420.4 972.1,420 972.7,420 972.9,419.8 973.9,419.6 974.1,419.8 974.7,419.3 975.1,419.5 975.7,418.8 976.7,419.4 977.3,419.2 977.7,419.8 978.1,419.7 978.3,419.4 978.7,419.7 979.1,419.7 979.7,419.3 980.3,419.6 980.7,419.1 981.1,419.2 981.3,419.5 981.9,419.1 982.1,419.2 982.7,418.9 983.3,417.3 983.5,415.8 984.7,400.4 984.9,399 985.1,398.6 985.3,399.3 986.5,414.4 987.1,417.6 987.5,418.3 988.1,418.4 988.3,418 988.7,417.7 989.7,417.5 990.5,417.8 990.9,418.3 991.5,418.4 992.3,417.5 994.5,417.8 995.7,417 996.3,417 996.5,417.2 997.1,417 997.7,417.4 997.9,417.2 998.3,417.3 998.5,417 998.7,417.2 999.3,417.4 999.5,417.7 999.7,417.7 1000.5,418 1000.9,417.8 1001.1,417.4 1001.3,417.4 1001.7,417.1 1002.1,417.2 1002.5,416.8 1003.3,417.6 1003.7,417.6 1003.9,417.4 1004.5,417.8 1005.3,417.1 1005.9,417.5 1006.7,417.1 1007.3,417.4 1007.9,417 1008.5,416.9 1008.7,417.2 1008.9,417 1009.5,417.4 1009.9,417.4 1010.5,418 1011.1,418 1011.7,417.4 1011.9,417.5 1012.3,416.9 1013.1,414.1 1013.5,413.5 1014.9,417.2 1015.5,417.8 1016.3,417.4 1016.9,417.5 1017.3,417.2 1018.1,417.5 1018.3,417.8 1018.7,417.6 1019.1,417.7 1019.5,417.2 1020.5,417 1020.9,417.3 1021.1,417.2 1021.5,417.4 1021.9,417.3 1022.5,417.7 1022.9,417.4 1023.1,417.7 1023.7,417.8 1024.1,417.6 1024.5,417.2 1024.9,417.4 1025.5,417 1025.7,417.3 1026.1,416.9 1026.5,417.2 1027.1,416.8 1027.3,417 1027.9,416 1028.1,415.2 1028.7,410.7 1029.3,402.3 1029.7,391.4 1030.1,356.1 1030.7,256.8 1030.9,257.7 1031.5,360.5 1031.9,395.8 1032.1,401.7 1032.7,407.8 1033.5,410.8 1034.5,411.5 1035.1,410.8 1036.7,406.3 1038.7,399.3 1040.5,394.1 1041.1,392.7 1041.5,392.4 1042.3,391.4 1043.5,393.2 1044.5,396.3 1044.9,396.9 1045.1,396.9 1045.5,397.4 1047.1,395.9 1047.5,395.2 1048.1,394.9 1048.3,395.1 1048.9,394.6 1049.5,395 1050.1,394.9 1050.7,395.2 1051.3,396 1052.7,395.7 1053.3,395.9 1053.7,395.9 1054.1,396.2 1054.3,396 1054.7,396.4 1054.9,396.1 1055.7,395.9 1056.1,395.6 1056.3,395.8 1056.5,395.4 1057.1,395.2 1057.5,395.1 1057.7,395.4 1058.7,395.2 1059.5,395.6 1059.7,395.5 1060.9,396.3 1061.3,396.8 1061.7,396.9 1061.9,396.6 1062.7,396.9 1063.7,396.5 1064.1,397.1 1065.3,396.7 1066.3,396.7 1066.5,396.9 1066.9,396.8 1068.1,397.2 1068.9,397 1069.1,397.4 1069.5,397.5 1069.9,397.2 1070.5,397.6 1070.7,397.4 1070.9,397.8 1072.1,397.5 1072.9,398.1 1073.5,397.8 1074.3,398 1074.9,397.7 1075.9,398.6 1076.3,398.4 1076.5,398.5 1076.7,398.3 1077.5,398.3 1077.9,398 1078.1,398.4 1078.5,398.3 1078.7,398.6 1078.9,398.2 1079.3,398.5 1079.5,398.8 1080.5,399.1 1080.7,399.5 1081.1,399.7 1081.3,399.5 1082.5,399.5 1082.7,399.3 1083.1,399.2 1083.7,399.4 1083.9,399.7 1084.3,399.6 1084.5,399.8 1084.7,399.7 1084.9,399.8 1085.5,399.4 1085.7,399.5 1086.1,399 1086.3,399.3 1086.9,399.5 1087.9,400.1 1088.7,400 1089.1,400.3 1089.7,400.5 1090.1,401 1090.3,400.9 1090.7,401.3 1091.1,400.9 1091.9,400.8 1092.1,400.6 1092.5,400.9 1092.7,400.7 1093.3,401.3 1093.7,401.1 1094.1,401.2 1094.7,401.1 1095.3,400.5 1095.5,400.9 1096.9,400.7 1097.1,401.1 1097.5,400.9 1098.1,401.5 1098.9,401.8 1099.1,401.5 1099.9,402.2 1100.1,401.8 1100.9,401.9 1101.1,402.3 1101.5,401.8 1101.9,401.8 1102.9,402.6 1103.3,402.3 1103.5,402.7 1104.1,402.8 1104.5,402.5 1105.1,402.5 1105.3,402.6 1106.1,402.1 1106.5,402.1 1107.1,401.9 1108.1,402.6 1108.3,403 1108.9,403.1 1109.1,403.4 1109.5,403.2 1109.9,403.3 1110.7,402.8 1110.9,403 1111.3,402.9 1111.5,403.2 1111.7,403 1112.1,403.2 1112.7,403.7 1113.1,403.3 1113.7,403.4 1114.9,402.7 1115.7,403.1 1116.5,403.9 1117.5,404.4 1117.9,403.9 1118.5,403.6 1118.9,403.9 1119.5,403.5 1119.9,403.9 1120.1,403.8 1120.7,404 1120.9,403.9 1121.3,404.4 1122.1,404.9 1122.5,405.4 1123.3,405.2 1123.5,405 1123.9,404.9 1124.1,405.1 1124.3,404.6 1124.7,404.6 1125.1,404.9 1125.3,404.8 1125.5,405.2 1125.9,405.2 1126.1,405.1 1126.3,405.4 1127.3,405.4 1127.9,405.8 1128.5,405.5 1129.3,405.7 1129.9,405.5 1130.9,406.1 1131.5,405.6 1131.7,405.9 1131.9,405.8 1132.1,406 1132.5,405.9 1132.9,405.5 1133.5,406.2 1134.1,406 1134.7,406.1 1135.5,405.6 1136.1,406.2 1136.9,406.6 1137.5,407.2 1138.1,406.9 1138.5,407 1138.7,407.5 1139.1,407.1 1139.9,407.5 1140.9,407.1 1141.1,407.3 1141.9,407 1142.3,407 1142.5,407.2 1143.3,407.1 1143.9,407.3 1144.3,407 1145.3,407.6 1145.9,407.3 1146.3,407.6 1146.5,407.5 1146.9,407.8 1147.3,407.7 1147.5,407.9 1147.7,407.6 1147.9,407.8 1148.3,407.6 1148.5,407.8 1149.1,407.6 1149.3,407.9 1149.5,407.7 1150.1,408.5 1150.9,408.8 1151.1,409.1 1151.5,408.7 1151.7,409 1152.1,409 1153.1,408 1153.5,408.4 1154.1,407.6 1154.7,408.1 1154.9,408 1155.5,408.3 1156.9,410 1157.9,410.4 1158.3,409.9 1158.5,410 1158.7,409.7 1159.5,410.1 1159.7,409.7 1160.3,409.9 1160.5,409.7 1161.3,409.8 1161.5,409.6 1162.1,410.1 1162.7,410.1 1163.3,409.7 1163.9,409.9 1164.3,409.6 1164.7,410.1 1165.5,410.2 1166.3,410.6 1166.7,410.3 1167.3,410.8 1168.3,410.2 1168.9,410.4 1169.3,410.1 1169.7,410.3 1169.9,410.1 1170.3,410.8 1171.1,410.8 1171.9,411.4 1172.3,411.4 1172.7,411.7 1173.1,411.4 1173.7,411.6 1174.7,411.4 1176.9,412.4 1177.1,412.2 1177.9,412.5 1178.9,412.2 1179.1,412.5 1179.9,412.2 1180.5,412.8 1181.1,412.4 1181.3,412.5 1181.5,412.4 1181.9,412.8 1182.5,412.6 1182.9,413.1 1183.3,413.1 1183.7,413.7 1183.9,413.5 1184.3,413.6 1185.5,413 1185.7,412.7 1186.9,412.6 1187.1,412.8 1187.9,412.8 1188.9,413.8 1189.1,413.6 1190.1,414.2 1190.5,414 1191.1,414.3 1191.5,414.1 1191.9,414.3 1192.3,413.9 1192.5,414.1 1193.3,414.1 1193.7,413.9 1194.3,414.5 1194.5,414.2 1195.1,414.4 1195.5,414.9 1195.9,414.9 1196.1,415.2 1196.3,415.1 1196.7,415.5 1197.1,415.2 1197.3,415.4 1197.5,415.1 1197.7,415.2 1198.1,414.5 1198.5,414.7 1198.7,414.5 1199.3,414.5 1200.7,415.6 1202.3,416.2 1202.7,416.1 1203.1,416.2 1203.5,415.9 1203.9,415.9 1204.1,416 1205.1,415.5 1205.7,416.1 1206.1,415.8 1206.7,416.5 1207.1,416.4 1207.5,416.5 1207.7,416.3 1208.1,416.9 1208.7,416.5 1209.1,416.8 1209.7,416.8 1209.9,416.4 1210.9,417.4 1211.7,417.3 1211.9,417.5 1212.7,417.4 1212.9,417.2 1214.1,417.5 1214.5,417.5 1214.9,417.1 1215.3,417.2 1216.3,417.3 1216.9,418 1217.3,417.8 1218.1,418.2 1219.1,417.9 1220.1,418.2 1220.5,418.7 1220.7,418.6 1221.1,418.7 1221.7,418.3 1221.9,418.4 1222.5,417.7 1223.5,417.8 1223.7,418 1224.1,417.7 1224.3,418.1 1225.7,418.1 1227.3,419.3 1227.5,419.6 1228.1,419.8 1229.1,419.1 1229.3,419.3 1229.5,419 1230.3,418.8 1231.1,419.4 1231.3,419.2 1232.1,419.8 1232.5,419.7 1232.9,419.9 1233.1,419.6 1233.5,419.8 1234.1,419.6 1234.5,420 1234.7,419.9 1234.9,420 1235.3,420.7 1235.9,420.6 1236.5,420.2 1237.7,420.3 1237.9,420.2 1238.7,420.6 1239.7,420.6 1239.9,420.9 1240.5,420.6 1241.1,420.8 1241.3,420.4 1241.5,420.6 1242.3,420.8 1242.7,420.7 1242.9,420.4 1243.7,420.5 1243.9,420.2 1244.3,420.2 1244.5,420.4 1244.7,420.2 1244.9,420.5 1245.1,420.2 1245.3,420.3 1245.5,419.6 1245.9,419.2 1248.1,412.4 1250.5,401.5 1251.5,397.9 1251.7,397.8 1252.1,398.3 1252.9,400.7 1254.7,409 1255.1,410.2 1255.5,410.7 1255.9,410.4 1256.3,410.5 1256.7,409.7 1257.3,409.5 1257.7,409.6 1258.3,409 1258.5,409 1260.5,405.7 1261.1,405.7 1261.5,405.3 1263.1,404.6 1263.9,405.7 1264.5,406.2 1265.3,405.3 1265.7,405.3 1266.7,406.8 1266.9,406.7 1267.9,406.9 1268.3,406.8 1268.9,407.1 1270.7,405.2 1270.9,405.3 1271.1,405.1 1273.1,406.6 1274.7,406.1 1275.5,406.2 1275.7,406.4 1276.3,406.5 1276.5,406.7 1277.7,405.6 1278.5,405.5 1278.9,406.2 1279.1,406.2 1279.5,406.8 1280.1,406.9 1280.3,407.2 1280.9,406.4 1281.3,406.8 1281.5,406.5 1281.7,406.6 1282.3,406.2 1283.7,406.4 1284.1,406.2 1284.9,406.9 1285.7,406.7 1286.1,407.1 1286.5,407.1 1286.7,407.4 1287.3,407.2 1287.9,407.2 1288.3,407.5 1288.9,406.9 1290.1,407.1 1290.3,407 1291.1,407.6 1291.3,407.5 1291.5,407.7 1292.5,407.7 1292.7,408 1293.3,408.2 1293.7,408.3 1293.9,408 1294.1,408 1294.5,408.3 1294.7,408 1294.9,408.1 1295.1,407.9 1295.3,407.9 1295.7,407.5 1296.1,406.7 1296.3,405.8 1296.7,405.5 1297.1,406.1 1297.5,407.5 1297.9,408 1298.3,408.3 1298.5,408.2 1298.9,408.6 1299.9,408.9 1300.1,408.4 1300.9,408.6 1301.1,408.9 1301.9,408.6 1302.1,409 1303.1,408.3 1304.5,409 1305.3,408.6 1305.9,408.6 1306.3,408.9 1306.5,408.8 1306.9,409.3 1307.9,409.3 1308.3,408.9 1308.5,409.3 1308.9,408.8 1309.3,409.1 1310.3,409.2 1310.5,409 1310.9,409.5 1311.7,409.3 1312.1,409.6 1312.9,409.5 1313.5,409.8 1314.1,409.6 1314.3,409.9 1314.7,409.9 1316.1,410.9 1317.1,411 1317.5,410.4 1318.1,410.4 1318.7,410.7 1319.1,410.7 1319.3,411 1319.9,411.4 1320.5,411.5 1321.3,411.1 1322.1,411.3 1322.3,411.6 1323.3,411.5 1324.5,410.7 1325.1,411.3 1325.9,411.7 1326.3,411.3 1326.5,411.5 1326.9,411.2 1327.3,411.2 1327.7,411.5 1327.9,411.3 1328.3,411.7 1328.9,412 1329.1,411.8 1329.3,412 1329.7,411.8 1330.7,412.6 1331.9,411.8 1332.3,411.6 1332.5,411.8 1332.7,411.6 1333.1,411.7 1333.7,412.5 1334.1,412.2 1334.7,412.6 1335.1,412.6 1335.7,412.1 1336.1,412.7 1336.5,412.9 1336.9,412.7 1337.7,413.3 1338.5,412.7 1338.9,413 1340.3,413.2 1340.5,413.5 1340.9,413.7 1341.3,413.4 1342.3,413.8 1342.7,413.6 1343.3,414.1 1344.1,414.4 1344.5,414.1 1344.7,414.3 1345.1,414 1345.9,414.4 1346.1,414.2 1346.7,414.4 1346.9,414.7 1347.7,414.7 1348.3,414.4 1348.7,414.7 1349.1,414.4 1349.5,414.8 1350.1,414.9 1350.3,415.3 1350.5,414.9 1350.9,415 1351.1,415.3 1351.7,414.7 1352.7,414.7 1353.1,414.1 1353.3,414.1 1353.7,413.9 1354.7,412.2 1355.1,412 1355.5,411.1 1355.7,411.1 1356.5,409.9 1357.7,406.9 1358.7,405.6 1359.1,405.9 1360.5,408.2 1362.3,412.2 1362.5,412.4 1363.1,412.3 1363.9,411.4 1364.1,411.5 1364.9,410.8 1365.1,410.9 1365.5,410.4 1365.9,410.4 1367.1,409.1 1367.3,409.2 1367.9,408.3 1368.1,408.3 1368.7,407.5 1368.9,407.8 1369.3,407.5 1369.5,407.6 1369.7,407.3 1370.7,406.6 1371.1,405.5 1371.9,404.5 1372.3,403.6 1372.9,403.4 1373.5,402.7 1374.3,403 1374.5,402.8 1374.7,402.9 1375.1,402.8 1375.5,403.4 1375.7,403.2 1376.1,403.4 1376.5,404 1377.3,404.3 1377.9,404.8 1378.5,405.9 1379.9,407.2 1380.3,407.1 1380.5,406.9 1380.9,407.2 1381.5,407.3 1381.7,407 1381.9,407.4 1383.1,407.8 1383.7,407.5 1384.1,406.8 1384.5,407 1384.7,406.6 1385.1,406.8 1385.9,407.7 1386.3,407.7 1386.7,408.1 1386.9,407.8 1387.7,407.5 1388.3,407.8 1388.7,407.4 1389.1,407.9 1389.5,407.8 1390.7,408.3 1391.1,408.1 1391.7,408.4 1392.5,408.1 1393.3,408.8 1394.1,408.9 1394.7,409 1394.9,408.8 1395.1,409.1 1395.3,408.7 1396.1,408.7 1396.3,408.5 1397.3,408.9 1397.7,408.7 1398.3,409.1 1398.7,409.1 1399.1,408.8 1399.7,409.6 1400.1,409.3 1400.7,409.1 1400.9,409.4 1401.5,409.3 1401.7,409.1 1402.7,410.4 1403.5,410.1 1404.1,410.2 1404.7,409.7 1404.9,409.9 1405.5,409.5 1405.9,409.9 1406.3,409.6 1406.9,409.8 1407.5,410.5 1408.1,410.5 1408.3,410.8 1409.1,410.7 1409.3,410.4 1409.7,410.6 1410.5,410.3 1411.1,409.5 1412.3,400.6 1412.5,400.7 1413.7,409.9 1414.1,410.6 1414.9,410.4 1415.5,410.7 1416.1,410.2 1416.5,410.4 1417.3,409.9 1417.9,409.9 1419.5,409.1 1419.9,409.3 1420.5,408.6 1421.3,409.1 1421.9,408.7 1422.5,409.2 1422.7,409.1 1423.1,408.6 1423.5,408.6 1424.7,407.8 1424.9,407.7 1425.1,407.9 1425.5,407.5 1425.9,407.4 1426.5,407.7 1427.1,407.4 1427.5,408 1427.9,408.3 1428.5,407.9 1428.7,408.2 1429.3,408.1 1429.5,407.8 1430.9,408.2 1431.3,407.9 1432.7,407.8 1433.1,408.1 1433.3,407.9 1433.9,407.9 1434.1,407.6 1435.1,407.4 1435.5,407.7" fill="none" stroke="#000" stroke-width="1.5" stroke-linejoin="round"/><text transform="translate(1065.00,41.80)" font-size="23.7" font-weight="normal" text-anchor="start" fill="#000">O 1s</text><text transform="translate(929.20,69.50)" font-size="23.7" font-weight="normal" text-anchor="start" fill="#000">Ca 2p</text><text transform="translate(875.60,94.80)" font-size="23.7" font-weight="normal" text-anchor="start" fill="#000">C 1s</text><text transform="translate(772.00,153.00)" font-size="23.7" font-weight="normal" text-anchor="start" fill="#000">Sr 3d</text><text transform="translate(840.60,161.70)" font-size="23.7" font-weight="normal" text-anchor="start" fill="#000">Y 3d</text><text transform="translate(1366.60,131.80)" font-size="23.7" font-weight="normal" text-anchor="start" fill="#000">Mg 1s</text><text transform="translate(1367.50,65.20) scale(0.99,1)" font-size="24.2" font-weight="bold" text-anchor="start" fill="#000">SW33</text><text transform="translate(1063.70,278.10)" font-size="23.7" font-weight="normal" text-anchor="start" fill="#000">O 1s</text><text transform="translate(929.00,303.00)" font-size="23.7" font-weight="normal" text-anchor="start" fill="#000">Ca 2p</text><text transform="translate(876.80,354.20)" font-size="23.7" font-weight="normal" text-anchor="start" fill="#000">C 1s</text><text transform="translate(771.20,380.30)" font-size="23.7" font-weight="normal" text-anchor="start" fill="#000">Sr 3d</text><text transform="translate(838.60,394.60)" font-size="23.7" font-weight="normal" text-anchor="start" fill="#000">Y 3d</text><text transform="translate(1370.00,354.20)" font-size="23.7" font-weight="normal" text-anchor="start" fill="#000">Mg 1s</text><text transform="translate(1370.00,292.50) scale(0.99,1)" font-size="24.2" font-weight="bold" text-anchor="start" fill="#000">SW35</text><line x1="812.50" y1="163.00" x2="825.77" y2="176.78" stroke="#ff0000" stroke-width="1.4"/><polygon points="833.4,184.7 821.7,177.9 827.0,172.8" fill="#ff0000"/><line x1="855.10" y1="175.10" x2="849.86" y2="197.00" stroke="#ff0000" stroke-width="1.4"/><polygon points="847.3,207.7 846.7,194.2 853.9,195.9" fill="#ff0000"/><line x1="898.60" y1="115.20" x2="906.24" y2="134.47" stroke="#ff0000" stroke-width="1.4"/><polygon points="910.3,144.7 902.1,134.0 908.9,131.3" fill="#ff0000"/><line x1="947.20" y1="90.40" x2="941.62" y2="113.22" stroke="#ff0000" stroke-width="1.4"/><polygon points="939.0,123.9 938.5,110.4 945.7,112.2" fill="#ff0000"/><line x1="1058.90" y1="52.20" x2="1040.38" y2="62.18" stroke="#ff0000" stroke-width="1.4"/><polygon points="1030.7,67.4 1040.4,58.0 1043.9,64.5" fill="#ff0000"/><line x1="1401.40" y1="144.70" x2="1408.44" y2="163.50" stroke="#ff0000" stroke-width="1.4"/><polygon points="1412.3,173.8 1404.3,162.9 1411.2,160.3" fill="#ff0000"/><line x1="817.90" y1="387.00" x2="829.32" y2="406.86" stroke="#ff0000" stroke-width="1.4"/><polygon points="834.8,416.4 825.1,407.0 831.5,403.3" fill="#ff0000"/><line x1="853.80" y1="409.40" x2="848.83" y2="431.27" stroke="#ff0000" stroke-width="1.4"/><polygon points="846.4,442.0 845.7,428.5 852.9,430.1" fill="#ff0000"/><line x1="898.60" y1="365.00" x2="905.21" y2="382.98" stroke="#ff0000" stroke-width="1.4"/><polygon points="909.0,393.3 901.0,382.4 908.0,379.8" fill="#ff0000"/><line x1="947.20" y1="322.50" x2="941.93" y2="344.79" stroke="#ff0000" stroke-width="1.4"/><polygon points="939.4,355.5 938.8,342.0 946.0,343.7" fill="#ff0000"/><line x1="1058.00" y1="273.80" x2="1040.50" y2="282.71" stroke="#ff0000" stroke-width="1.4"/><polygon points="1030.7,287.7 1040.6,278.5 1044.0,285.1" fill="#ff0000"/><line x1="1402.70" y1="367.20" x2="1408.91" y2="386.34" stroke="#ff0000" stroke-width="1.4"/><polygon points="1412.3,396.8 1404.8,385.6 1411.8,383.3" fill="#ff0000"/><polyline points="57.4,773.5 60.1,763 62.8,769.9 65.5,767.8 68.1,768.2 70.8,768.9 73.5,764.9 76.2,769.2 78.9,767.9 81.5,777.7 84.2,770.7 86.9,769.5 89.6,769.9 94.9,768.4 97.6,770.1 100.3,772.2 103,770.7 105.7,773.6 108.4,771.1 111,771.8 113.7,775.3 119.1,770.7 121.8,771.5 124.4,773.2 127.1,776.5 129.8,771.4 132.5,771.5 135.2,774.4 137.8,770.1 140.5,771.5 143.2,774.3 145.9,773.6 148.6,772.5 151.3,773.9 153.9,765.9 156.6,774.7 159.3,770.2 162,768.6 164.7,773.1 167.3,774.1 170,771.5 172.7,770 175.4,772.5 178.1,772.3 180.7,775.6 186.1,772.2 188.8,773.7 191.5,769.7 194.2,766.7 196.8,768.4 199.5,766.2 204.9,757.5 207.6,756.7 210.2,747 212.9,750.5 215.6,745.5 218.3,735 221,731.9 223.6,720.8 226.3,714.1 229,695.1 234.4,671.8 237.1,656.8 239.7,633.3 245.1,610.7 247.8,597.8 250.5,595.3 253.1,585.1 255.8,588.6 258.5,589.2 261.2,602.2 263.9,609.2 269.2,632 271.9,654.7 274.6,667.6 280,696.3 282.6,706.6 288,723.3 290.7,730.6 293.4,741.5 296,739.6 298.7,745.2 304.1,751.8 306.8,754.3 309.4,751.3 312.1,751.3 314.8,756.2 317.5,759.8 320.2,759.6 325.5,758.7 328.2,760.8 330.9,760.3 333.6,763.5 336.3,760.6 338.9,763.4 341.6,763.5 344.3,765.7 347,765.6 349.7,771.5 352.3,769.6 355,770.1 357.7,762.4 360.4,766.7 363.1,766.4 365.8,769.4 368.4,763.2 371.1,771.3 373.8,771.3 376.5,766 379.2,766.9 381.8,767.4 384.5,769.4 387.2,770.9 389.9,774.2 392.6,769 395.3,771.3 397.9,769.9 400.6,773.5 403.3,771.2 406,772.6 408.7,766.9 411.3,768.8 414,767.3 416.7,772.5 422.1,768.1 424.7,767.6 427.4,769.7 430.1,766.8 432.8,766.2 435.5,769.3 438.2,773.7 440.8,767.4 443.5,766.6 446.2,765 448.9,764.5 451.6,768.7 454.2,769.3 456.9,767.2 459.6,767.9 462.3,767.2 465,767.2 467.6,763.2 470.3,765.5 473,766.7 475.7,764.5 478.4,765.1 481.1,764.2 483.7,765.2 486.4,767.8 489.1,764.8 491.8,765.3 494.5,767.4 497.1,766.9 499.8,769.1 502.5,760.3 505.2,767 507.9,763.8 513.2,766.6 515.9,767 518.6,766.8 521.3,764.6 524,767.8 526.6,763.3 529.3,763.5 532,765.5 534.7,762.2 537.4,768.2 540,765.4 542.7,767.8 545.4,762.5 548.1,761.5 553.4,763.7 556.1,760.4 558.8,762.5 561.5,761.3 564.2,764.9 566.9,759.5 569.5,763.2 572.2,759.1 574.9,758.2 577.6,758.5 580.3,757.2 582.9,760.1 585.6,761.9 588.3,759.7 591,760.6 593.7,762.7 596.3,759.4 599,759 601.7,757.7 604.4,754.5 607.1,759.7 609.8,753.7 612.4,759.1 615.1,757.3 617.8,759.7 620.5,756.8 623.2,754.9 625.8,757.4 628.5,755.1 631.2,755.7 633.9,756 636.6,755.4 639.2,755.1 641.9,753.4 644.6,754.7 647.3,750 650,754.4 652.7,751.8 655.3,756.9 658,757.1 660.7,749.5" fill="none" stroke="#000" stroke-width="1.6" stroke-linejoin="round"/><polygon points="165.2,774.3 188.3,774.2 194.7,773.5 199.5,772.2 204.3,769.9 208.1,766.8 211.3,762.9 214.5,757.4 217.7,750 220.4,742.1 223.1,732.6 226.3,718.9 231.2,694.3 241.3,635.9 245.6,615.6 247.8,607.9 249.9,602.4 252.1,599.2 253.7,598.5 254.8,598.8 255.8,599.7 258,603.5 260.1,609.5 262.8,619.9 267.1,641.5 278.3,705.4 281.6,720.9 284.8,734.1 288,744.9 291.2,753.3 295,760.5 298.7,765.4 298.7,774.2 192,775.3 165.2,774.7" fill="url(#g1)" stroke="none"/><polyline points="165.2,774.3 180.2,774.4 188.3,774.2 194.7,773.5 199.5,772.2 202.2,771.1 204.3,769.9 206.5,768.3 208.1,766.8 211.3,762.9 214.5,757.4 217.7,750 220.4,742.1 223.1,732.6 226.3,718.9 231.2,694.3 241.3,635.9 243.5,625 245.6,615.6 247.8,607.9 249.9,602.4 251,600.5 252.1,599.2 253.1,598.5 253.7,598.5 254.8,598.8 255.8,599.7 256.9,601.3 258,603.5 260.1,609.5 262.8,619.9 267.1,641.5 275.1,688 278.3,705.4 281.6,720.9 284.8,734.1 288,744.9 291.2,753.3 292.8,756.7 295,760.5 296.6,762.8 298.7,765.4" fill="none" stroke="#1a1aff" stroke-width="1.4" stroke-linejoin="round"/><polygon points="151.8,774.4 192,775.1 210.2,774.5 224.2,773.3 234.9,771.8 245.1,769.8 272.4,762.2 280.5,760.3 289.1,758.8 297.1,758.3 304.6,758.5 312.7,759.6 321.2,761.4 349.1,768.3 359.3,770.1 370,771.3 384.5,772 403.3,772.1 446.2,770.3 446.2,770.3 403.8,772.2 285.9,774.5 190.9,775.3 151.8,774.4" fill="url(#g2)" stroke="none"/><polyline points="151.8,774.4 182.9,775.1 192,775.1 210.2,774.5 224.2,773.3 234.9,771.8 245.1,769.8 254.2,767.4 272.4,762.2 280.5,760.3 289.1,758.8 297.1,758.3 304.6,758.5 312.7,759.6 321.2,761.4 340,766.3 349.1,768.3 359.3,770.1 370,771.3 384.5,772 403.3,772.1 446.2,770.3" fill="none" stroke="#ff00ff" stroke-width="1.4" stroke-linejoin="round"/><polyline points="60.6,770.3 112.1,773.5 189.3,775.3 285.9,774.5 403.3,772.3 526.6,766.5 660.7,756.1" fill="none" stroke="#ff00ff" stroke-width="2.2" stroke-linejoin="round"/><polyline points="44,988.4 46.7,989.5 49.4,993.7 52,991.5 54.7,986.2 57.4,990 60.1,988.6 62.8,990.5 65.5,986.5 68.1,990.8 70.8,990.8 73.5,993.9 76.2,991 78.9,991.5 81.5,987 84.2,995.6 86.9,986.1 89.6,993.1 92.3,989.8 94.9,988.6 97.6,989.1 100.3,989.1 103,991.6 105.7,990.5 108.4,994.2 111,986.6 113.7,990.8 116.4,988.8 119.1,992.7 121.8,986.1 124.4,990.2 127.1,991.5 129.8,987.6 132.5,993.4 135.2,991.5 137.8,993.5 140.5,993.4 143.2,988.9 145.9,989.4 148.6,990.8 151.3,993 153.9,993.2 156.6,989.6 159.3,989.9 162,989.4 164.7,989.9 167.3,990.6 170,990.8 172.7,995.7 175.4,989.6 178.1,989.8 180.7,991.2 183.4,987.4 186.1,987.9 188.8,987.6 191.5,987.8 194.2,980.8 196.8,984.1 199.5,976.4 202.2,972.8 204.9,968.5 210.2,953.6 212.9,942.1 218.3,921.2 221,907.1 223.6,901.3 226.3,886.8 229,877.2 231.7,878.4 234.4,869.4 237.1,865.8 239.7,874.4 242.4,873.5 245.1,883 247.8,886.5 250.5,896.8 253.1,902.8 255.8,911.6 261.2,932.6 266.5,951.3 269.2,948.2 271.9,956.9 274.6,956.6 277.3,960.6 280,960.4 282.6,963.1 285.3,967.3 288,968.7 290.7,973.6 293.4,973.8 296,979.9 298.7,978.8 301.4,980.2 304.1,983.6 309.4,983.1 314.8,985 317.5,988.7 320.2,988.9 322.9,988.8 325.5,990.6 328.2,988.2 330.9,991.3 333.6,987.5 336.3,994.4 338.9,992 341.6,992.7 344.3,994 347,993 349.7,992.7 352.3,996.3 357.7,991.9 360.4,995.2 363.1,990.4 365.8,998.3 368.4,994.2 371.1,994.8 373.8,1000 376.5,999.8 379.2,995.2 384.5,997.5 387.2,998.9 389.9,994.8 392.6,995.4 395.3,998 397.9,995.8 400.6,997 403.3,996.7 406,992.7 408.7,993.3 411.3,989.3 414,994.8 416.7,998.5 419.4,992.9 422.1,998.3 424.7,997.8 427.4,995.4 432.8,995.7 435.5,993.5 438.2,994.7 440.8,995.1 443.5,996.5 446.2,996.8 448.9,993.2 451.6,996.7 454.2,992.9 459.6,995.3 462.3,994.3 465,993.9 467.6,994.7 470.3,992.7 473,992.4 475.7,993.3 478.4,995.9 481.1,993.3 483.7,997.8 486.4,993.8 489.1,986.4 491.8,992.1 494.5,996.8 497.1,992.9 502.5,990.7 505.2,995.6 510.5,993.9 513.2,993.2 515.9,995.4 518.6,993.9 521.3,989.1 524,993.6 526.6,992.1 529.3,991.3 532,993.2 534.7,991.4 537.4,984.5 540,994.7 542.7,993.4 545.4,990.6 548.1,989.9 550.8,991.2 553.4,987.6 556.1,991.1 558.8,989.7 561.5,989.3 564.2,987.8 566.9,988.2 569.5,992.2 572.2,992.5 574.9,990.5 577.6,989 580.3,987 582.9,990.5 585.6,992.4 588.3,984.8 591,991 593.7,983.2 596.3,987.2 599,988.7 601.7,984.5 604.4,984 607.1,987.8 609.8,989.2 612.4,985.9 615.1,990 617.8,984.9 620.5,990.6 623.2,986.7 625.8,986.8 628.5,987.5 631.2,986.7 633.9,990 636.6,990.7 639.2,986.7 641.9,984.9 644.6,982.4 647.3,983.2 650,984.8 652.7,984.4 658,984.3 660.7,985.4" fill="none" stroke="#000" stroke-width="1.6" stroke-linejoin="round"/><polygon points="151.8,992.7 173.8,992.7 179.7,992.4 184.5,991.6 188.3,990.5 192,988.6 195.2,986.2 198.4,982.6 201.1,978.7 203.8,973.7 206.5,967.6 209.2,960.4 214,944.9 223.6,909.8 227.4,898.4 229.5,893.4 231.7,889.8 233.8,887.7 235.4,887.3 237.6,888.2 239.7,890.7 241.9,894.8 244,900.2 248.3,914.1 259,953.2 262.3,963.2 265.5,971.6 268.7,978.3 272.4,984.3 276.2,988.5 280,991.3 280,995.8 151.8,993" fill="url(#g3)" stroke="none"/><polyline points="151.8,992.7 173.8,992.7 179.7,992.4 184.5,991.6 188.3,990.5 192,988.6 195.2,986.2 198.4,982.6 201.1,978.7 203.8,973.7 206.5,967.6 209.2,960.4 214,944.9 223.6,909.8 227.4,898.4 229.5,893.4 231.7,889.8 232.8,888.5 233.8,887.7 235.4,887.3 236.5,887.5 237.6,888.2 238.7,889.3 239.7,890.7 241.9,894.8 244,900.2 248.3,914.1 255.8,942 259,953.2 262.3,963.2 265.5,971.6 268.7,978.3 270.3,981.1 272.4,984.3 274.1,986.3 276.2,988.5 280,991.3" fill="none" stroke="#1a1aff" stroke-width="1.4" stroke-linejoin="round"/><polygon points="151.8,992.9 170,993.1 183.4,992.8 194.2,992.1 203.8,991 212.4,989.3 221,987.1 245.6,978.9 253.7,976.6 262.3,975 270.3,974.6 278.3,975.3 286.4,977.1 294.4,979.6 312.7,986.7 321.2,989.6 331.4,992.4 342.2,994.4 354,995.8 367.9,996.6 419.4,997.5 419.4,997.5 311.6,996.5 151.8,993" fill="url(#g4)" stroke="none"/><polyline points="151.8,992.9 170,993.1 183.4,992.8 194.2,992.1 203.8,991 212.4,989.3 221,987.1 228.5,984.8 245.6,978.9 253.7,976.6 258,975.7 262.3,975 266.5,974.6 270.3,974.6 274.1,974.8 278.3,975.3 286.4,977.1 294.4,979.6 312.7,986.7 321.2,989.6 331.4,992.4 342.2,994.4 354,995.8 367.9,996.6 385.6,997.1 419.4,997.5" fill="none" stroke="#ff00ff" stroke-width="1.4" stroke-linejoin="round"/><polyline points="44,990.9 178.1,993.5 311.6,996.5 431.7,997.6 552.9,992.5 660.7,985.9" fill="none" stroke="#ff00ff" stroke-width="2.2" stroke-linejoin="round"/><rect x="44.00" y="579.50" width="616.70" height="432.00" fill="none" stroke="#1a1a1a" stroke-width="1.6"/><line x1="44.00" y1="795.10" x2="660.70" y2="795.10" stroke="#1a1a1a" stroke-width="1.6"/><line x1="44.00" y1="1011.50" x2="44.00" y2="1016.00" stroke="#1a1a1a" stroke-width="1.5"/><line x1="97.63" y1="1011.50" x2="97.63" y2="1016.00" stroke="#1a1a1a" stroke-width="1.5"/><line x1="151.25" y1="1011.50" x2="151.25" y2="1016.00" stroke="#1a1a1a" stroke-width="1.5"/><line x1="204.88" y1="1011.50" x2="204.88" y2="1016.00" stroke="#1a1a1a" stroke-width="1.5"/><line x1="258.50" y1="1011.50" x2="258.50" y2="1016.00" stroke="#1a1a1a" stroke-width="1.5"/><line x1="312.13" y1="1011.50" x2="312.13" y2="1016.00" stroke="#1a1a1a" stroke-width="1.5"/><line x1="365.76" y1="1011.50" x2="365.76" y2="1016.00" stroke="#1a1a1a" stroke-width="1.5"/><line x1="419.38" y1="1011.50" x2="419.38" y2="1016.00" stroke="#1a1a1a" stroke-width="1.5"/><line x1="473.01" y1="1011.50" x2="473.01" y2="1016.00" stroke="#1a1a1a" stroke-width="1.5"/><line x1="526.63" y1="1011.50" x2="526.63" y2="1016.00" stroke="#1a1a1a" stroke-width="1.5"/><line x1="580.26" y1="1011.50" x2="580.26" y2="1016.00" stroke="#1a1a1a" stroke-width="1.5"/><line x1="633.89" y1="1011.50" x2="633.89" y2="1016.00" stroke="#1a1a1a" stroke-width="1.5"/><line x1="70.81" y1="1011.50" x2="70.81" y2="1019.50" stroke="#1a1a1a" stroke-width="1.5"/><text transform="translate(70.81,1045.00)" font-size="24" font-weight="bold" text-anchor="middle" fill="#000">1296</text><line x1="124.44" y1="1011.50" x2="124.44" y2="1019.50" stroke="#1a1a1a" stroke-width="1.5"/><text transform="translate(124.44,1045.00)" font-size="24" font-weight="bold" text-anchor="middle" fill="#000">1298</text><line x1="178.07" y1="1011.50" x2="178.07" y2="1019.50" stroke="#1a1a1a" stroke-width="1.5"/><text transform="translate(178.07,1045.00)" font-size="24" font-weight="bold" text-anchor="middle" fill="#000">1300</text><line x1="231.69" y1="1011.50" x2="231.69" y2="1019.50" stroke="#1a1a1a" stroke-width="1.5"/><text transform="translate(231.69,1045.00)" font-size="24" font-weight="bold" text-anchor="middle" fill="#000">1302</text><line x1="285.32" y1="1011.50" x2="285.32" y2="1019.50" stroke="#1a1a1a" stroke-width="1.5"/><text transform="translate(285.32,1045.00)" font-size="24" font-weight="bold" text-anchor="middle" fill="#000">1304</text><line x1="338.94" y1="1011.50" x2="338.94" y2="1019.50" stroke="#1a1a1a" stroke-width="1.5"/><text transform="translate(338.94,1045.00)" font-size="24" font-weight="bold" text-anchor="middle" fill="#000">1306</text><line x1="392.57" y1="1011.50" x2="392.57" y2="1019.50" stroke="#1a1a1a" stroke-width="1.5"/><text transform="translate(392.57,1045.00)" font-size="24" font-weight="bold" text-anchor="middle" fill="#000">1308</text><line x1="446.20" y1="1011.50" x2="446.20" y2="1019.50" stroke="#1a1a1a" stroke-width="1.5"/><text transform="translate(446.20,1045.00)" font-size="24" font-weight="bold" text-anchor="middle" fill="#000">1310</text><line x1="499.82" y1="1011.50" x2="499.82" y2="1019.50" stroke="#1a1a1a" stroke-width="1.5"/><text transform="translate(499.82,1045.00)" font-size="24" font-weight="bold" text-anchor="middle" fill="#000">1312</text><line x1="553.45" y1="1011.50" x2="553.45" y2="1019.50" stroke="#1a1a1a" stroke-width="1.5"/><text transform="translate(553.45,1045.00)" font-size="24" font-weight="bold" text-anchor="middle" fill="#000">1314</text><line x1="607.07" y1="1011.50" x2="607.07" y2="1019.50" stroke="#1a1a1a" stroke-width="1.5"/><text transform="translate(607.07,1045.00)" font-size="24" font-weight="bold" text-anchor="middle" fill="#000">1316</text><line x1="660.70" y1="1011.50" x2="660.70" y2="1019.50" stroke="#1a1a1a" stroke-width="1.5"/><text transform="translate(660.70,1045.00)" font-size="24" font-weight="bold" text-anchor="middle" fill="#000">1318</text><text transform="translate(346.50,1075.50) scale(0.975,1)" font-size="24.8" font-weight="bold" text-anchor="middle" fill="#000">Binding Energy (eV)</text><text transform="translate(26.20,757.50) rotate(-90) scale(0.96,1)" font-size="25" font-weight="bold" text-anchor="middle" fill="#000">Intensity(a.u.)</text><text transform="translate(0.50,575.00)" font-size="33.5" font-weight="bold" text-anchor="start" fill="#000">(b)</text><text transform="translate(602.30,599.70) scale(1.04,1)" font-size="21.5" font-weight="bold" text-anchor="start" fill="#000">Mg 1s</text><text transform="translate(145.80,617.50)" font-size="22.3" font-weight="bold" text-anchor="start" fill="#1f1fe8"><tspan dy="-0.00">Mg(OH)</tspan><tspan dy="6.69" font-size="13.8">2</tspan></text><text transform="translate(265.60,608.20)" font-size="24" font-weight="bold" text-anchor="start" fill="#000">1302.7 eV</text><text transform="translate(291.90,720.20)" font-size="24" font-weight="bold" text-anchor="start" fill="#000">1303.9 eV</text><text transform="translate(332.20,755.30)" font-size="22.3" font-weight="bold" text-anchor="start" fill="#ff20e6">MgO</text><text transform="translate(577.20,747.60)" font-size="21.5" font-weight="bold" text-anchor="start" fill="#000">SW33</text><line x1="64.00" y1="699.80" x2="64.00" y2="743.10" stroke="#1a1a1a" stroke-width="2.0"/><line x1="59.70" y1="699.80" x2="68.30" y2="699.80" stroke="#1a1a1a" stroke-width="2.0"/><line x1="59.70" y1="743.10" x2="68.30" y2="743.10" stroke="#1a1a1a" stroke-width="2.0"/><text transform="translate(71.70,738.80)" font-size="24" font-weight="bold" text-anchor="start" fill="#000">3000</text><text transform="translate(129.40,887.80)" font-size="22.3" font-weight="bold" text-anchor="start" fill="#1f1fe8"><tspan dy="-0.00">Mg(OH)</tspan><tspan dy="6.69" font-size="13.8">2</tspan></text><text transform="translate(312.60,975.00)" font-size="22.3" font-weight="bold" text-anchor="start" fill="#ff20e6">MgO</text><text transform="translate(575.50,970.60)" font-size="21.5" font-weight="bold" text-anchor="start" fill="#000">SW35</text><line x1="67.60" y1="925.00" x2="67.60" y2="966.50" stroke="#1a1a1a" stroke-width="2.0"/><line x1="63.30" y1="925.00" x2="71.90" y2="925.00" stroke="#1a1a1a" stroke-width="2.0"/><line x1="63.30" y1="966.50" x2="71.90" y2="966.50" stroke="#1a1a1a" stroke-width="2.0"/><text transform="translate(77.70,957.00)" font-size="24" font-weight="bold" text-anchor="start" fill="#000">3000</text><line x1="253.70" y1="581.00" x2="253.70" y2="614.00" stroke="#111" stroke-width="1.3" stroke-dasharray="19,3,2,40"/><line x1="296.80" y1="737.00" x2="296.80" y2="771.00" stroke="#111" stroke-width="1.3" stroke-dasharray="25,7,1,40"/><line x1="235.50" y1="848.00" x2="235.50" y2="898.00" stroke="#111" stroke-width="1.3" stroke-dasharray="10,28,12,40"/><line x1="270.40" y1="952.00" x2="270.40" y2="986.00" stroke="#111" stroke-width="1.3" stroke-dasharray="20,12,1,40"/><polyline points="746.2,779 747.8,778.8 749.3,779.1 750.9,778.7 752.4,779 754,778.3 755.6,778 757.1,778.1 760.2,779 761.8,779.2 764.9,777.9 766.5,778.2 768,778.9 769.6,779.9 771.1,779.8 772.7,779.2 774.2,779 775.8,778.8 777.4,779.1 778.9,778.5 782,778.2 783.6,778.7 785.1,778.7 786.7,779.1 788.3,778.7 789.8,778.7 791.4,778.4 792.9,778.4 794.5,777.9 796,778 799.2,778.6 802.3,778.1 803.8,778.2 805.4,777.9 811.6,778.4 813.2,777.8 814.7,777.8 816.3,777.2 821,777.7 822.5,777.6 825.6,778.3 828.7,777.9 830.3,777 831.9,777.1 833.4,776.6 835,777.1 838.1,776.7 842.8,776.5 847.4,776.9 853.7,775.3 855.2,774.7 856.8,774.6 859.9,774 861.5,773.2 864.6,772 866.1,770.8 867.7,769.2 872.4,763.5 875.5,758.7 878.6,751.1 881.7,742.3 883.3,736.7 886.4,723.8 889.5,709.6 892.6,693.6 903.5,631.3 908.2,610.1 909.7,604.1 911.3,600.3 912.8,598.3 914.4,597.4 916,597 917.5,597.4 919.1,599.1 920.6,602.1 923.7,610.9 930,635.5 939.3,676.1 942.4,687 945.5,694.9 950.2,705.5 951.8,708.6 954.9,713.6 956.4,715.1 959.6,719.2 962.7,722.8 967.3,726.3 968.9,727.3 970.5,728.7 975.1,730.6 976.7,731.8 979.8,734.8 982.9,737.1 984.5,738.7 986,740 987.6,741.8 989.1,742.5 992.3,745.2 993.8,747.1 995.4,748.4 998.5,750.7 1001.6,754.2 1004.7,756.8 1006.3,757.9 1007.8,759.3 1017.2,766.3 1018.7,767 1021.8,767.6 1026.5,770.4 1028.1,771.1 1031.2,771.9 1032.7,771.8 1034.3,772.5 1037.4,773.1 1039,772.9 1040.5,773.1 1043.6,774.8 1046.8,774.4 1048.3,774.5 1049.9,775.3 1051.4,775.6 1054.5,775.6 1059.2,775 1060.8,775 1062.3,776 1063.9,776.6 1070.1,776.2 1071.7,775.7 1073.2,775.7 1076.4,776.6 1077.9,776 1081,776.1 1082.6,776.6 1085.7,776.5 1087.3,776.9 1090.4,777.2 1093.5,777.1 1101.3,776.5 1104.4,777.1 1107.5,778 1109.1,778.1 1110.6,777.9 1113.7,778 1115.3,777.6 1116.8,776.9 1120,776.5 1123.1,776.9 1124.6,777.4 1126.2,777.4 1134,776.8 1137.1,777 1141.8,777.7 1146.4,776.4 1149.5,777.1 1154.2,776.5 1157.3,777.5 1160.4,776.7 1162,776 1163.6,776.5 1166.7,776.7 1168.2,776.3 1169.8,776.2 1171.3,776.5 1176,775.9 1179.1,776.2 1182.2,775.7 1183.8,775 1186.9,775.6 1191.6,775.3 1193.1,775.8 1194.7,775.4 1196.3,775.4 1197.8,775 1199.4,775.9 1200.9,775.4 1202.5,775.5 1204,775.1 1207.2,775.5 1214.9,775.7 1219.6,774.8 1225.8,775 1227.4,774.7 1230.5,774.6 1233.6,774 1236.7,774.1 1238.3,774.4 1239.9,773.6 1241.4,773.9 1243,773.3 1244.5,773.3 1246.1,773 1247.6,773.1 1252.3,774 1253.9,773.7 1258.5,773.8 1260.1,773 1261.7,772.8 1264.8,773.1 1267.9,773 1272.6,772.5 1274.1,772.5 1278.8,771.7 1280.4,772.1 1281.9,772.8 1283.5,772.5 1286.6,770.9 1288.1,770.7 1295.9,770.9 1297.5,771.5 1299,771.7 1302.2,771.8 1303.7,771.1 1305.3,770.8 1306.8,770.1 1309.9,770.3 1311.5,770.1 1313.1,770.3 1316.2,770.4 1317.7,770 1320.8,768.4 1322.4,768.1 1324,768.4 1325.5,769 1328.6,768.3 1333.3,769.2 1334.9,768.6 1336.4,768.5 1339.5,768.7 1344.2,767.4 1350.4,767.2 1355.1,767.5 1358.2,766.6 1361.3,766.2 1364.4,765.4 1366,765.6" fill="none" stroke="#000" stroke-width="1.5" stroke-linejoin="round"/><polygon points="821.6,777.8 846.5,776.5 853.4,775.6 859,774.2 863.9,771.9 867.7,769 871.4,764.8 874.5,759.8 877.6,753.2 880.8,744.8 883.9,734.2 887,721.6 892,697.3 902.6,638.4 906.9,618.2 909.4,609.8 911.3,605.3 913.2,602.7 914.4,602 915,602 916.9,603.3 918.8,606.6 920.6,611.6 922.5,618.1 926.9,638.2 936.8,693.7 941.8,718.6 944.9,731.6 947.4,740.5 950.5,749.8 953.6,757.1 956.8,762.6 959.9,766.7 963.6,770.2 968,772.8 973,774.5 978.6,775.5 986.7,776.3 998.5,776.8 998.5,778.5 821.6,779.1" fill="url(#g5)" stroke="none"/><polyline points="821.6,777.8 836.5,777.2 846.5,776.5 853.4,775.6 859,774.2 861.5,773.2 863.9,771.9 867.7,769 869.5,767.1 871.4,764.8 874.5,759.8 877.6,753.2 880.8,744.8 883.9,734.2 887,721.6 892,697.3 902.6,638.4 905.1,626.2 906.9,618.2 909.4,609.8 911.3,605.3 912.5,603.4 913.2,602.7 914.4,602 915,602 915.6,602.3 916.9,603.3 918.8,606.6 920.6,611.6 922.5,618.1 924.4,626.1 926.9,638.2 936.8,693.7 941.8,718.6 944.9,731.6 947.4,740.5 950.5,749.8 953.6,757.1 956.8,762.6 959.9,766.7 961.7,768.6 963.6,770.2 965.5,771.5 968,772.8 973,774.5 978.6,775.5 986.7,776.3 998.5,776.8" fill="none" stroke="#56bf98" stroke-width="1.3" stroke-linejoin="round"/><polygon points="883.9,778.9 896.3,778.4 905.7,777.4 913.8,775.7 921.2,773 927.5,769.7 933.7,765.5 939.3,761 952.4,749.5 958.6,744.9 961.7,743.1 964.9,741.7 968,740.9 971.1,740.6 974.2,740.9 977.3,741.7 980.4,743 983.5,744.7 989.8,749.3 1002.8,760.6 1009.1,765.6 1015.9,770 1023.4,773.5 1031.5,775.8 1040.8,777.3 1052.1,777.9 1070.1,778.1 1070.1,778.1 883.9,779" fill="url(#g6)" stroke="none"/><polyline points="883.9,778.9 896.3,778.4 905.7,777.4 910,776.6 913.8,775.7 917.5,774.5 921.2,773 927.5,769.7 933.7,765.5 939.3,761 952.4,749.5 958.6,744.9 961.7,743.1 964.9,741.7 968,740.9 971.1,740.6 974.2,740.9 977.3,741.7 980.4,743 983.5,744.7 989.8,749.3 1002.8,760.6 1009.1,765.6 1012.8,768.1 1015.9,770 1019.7,771.9 1023.4,773.5 1027.1,774.7 1031.5,775.8 1035.9,776.6 1040.8,777.3 1052.1,777.9 1070.1,778.1" fill="none" stroke="#f05cb0" stroke-width="1.4" stroke-linejoin="round"/><polyline points="899.4,778.9 918.1,778.5 934.3,778 949.9,777.2 984.8,775 1004.7,774.4 1024,774.8 1062.6,776.7 1082.6,777.4 1107.5,777.7 1136.8,777.5 1210.3,775.4 1268.8,772.6 1366,766.4" fill="none" stroke="#2fa856" stroke-width="1.5" stroke-linejoin="round"/><polyline points="743.1,779.2 901.3,779 1083.8,778 1133.7,777.6 1214.6,775.2 1273.8,772.3 1366,766.4" fill="none" stroke="#e26bb4" stroke-width="1.5" stroke-linejoin="round"/><polyline points="746.2,997 747.8,996.1 749.3,996.3 750.9,997 752.4,996.9 754,997.3 755.6,997.2 757.1,997.5 760.2,996.9 761.8,997.2 763.3,997.9 766.5,998.1 769.6,997 771.1,996.1 772.7,995.9 774.2,996.1 775.8,996.5 777.4,996.5 778.9,996.7 780.5,996.6 782,996.8 783.6,996.4 785.1,996.9 786.7,997.1 788.3,997 789.8,996.2 791.4,996.6 792.9,996.7 794.5,997.2 796,997.1 797.6,996.6 799.2,996.6 800.7,996.2 802.3,996.4 803.8,995.9 808.5,996.6 810.1,996.3 811.6,996.5 813.2,996.7 814.7,997.3 821,997.1 824.1,996.4 827.2,996.2 828.7,995.6 835,994.6 839.6,995 841.2,994.6 842.8,994.6 845.9,993.9 849,993.6 850.6,993.4 852.1,993.6 855.2,993.3 858.3,991.9 861.5,989.5 864.6,986.7 867.7,982.9 870.8,978.3 872.4,974.8 877,962.1 880.1,951.1 883.3,938.5 886.4,923.3 889.5,905.9 900.4,839.7 903.5,823.7 906.6,811.7 908.2,807.5 909.7,804.5 911.3,803.1 912.8,803 914.4,803.7 916,806.1 917.5,809.8 920.6,819.6 922.2,825.3 933.1,875.7 937.8,895.7 942.4,910.6 945.5,918.4 948.7,924.5 951.8,929.6 954.9,933.6 956.4,935.1 959.6,938.9 964.2,942.2 965.8,944 967.3,945.2 972,948 975.1,951.1 976.7,952.5 978.2,953.5 982.9,957.8 984.5,958.6 986,960 990.7,965.2 995.4,968.7 996.9,970.2 998.5,971.4 1001.6,974.4 1003.2,976.3 1009.4,981.7 1015.6,984.5 1020.3,987.3 1028.1,989.1 1032.7,991.3 1034.3,991.8 1037.4,992.5 1039,992 1042.1,992.4 1043.6,992.9 1045.2,992.9 1046.8,992.5 1049.9,993.1 1051.4,993.8 1054.5,994.2 1056.1,994.1 1059.2,994.6 1063.9,994.4 1068.6,995.1 1070.1,995.5 1074.8,995 1076.4,995.2 1079.5,995.2 1081,994.9 1082.6,995 1084.1,995.1 1085.7,995.9 1088.8,996.2 1090.4,995.6 1093.5,995.7 1095,996.2 1096.6,996.2 1098.2,996.6 1101.3,996.1 1102.8,995.6 1104.4,995.3 1105.9,995.2 1110.6,996.3 1112.2,995.8 1113.7,995.8 1115.3,995.5 1116.8,996.4 1118.4,996.2 1120,996.4 1121.5,995.9 1126.2,995.4 1127.7,995.8 1134,995.6 1137.1,994.8 1138.6,994.8 1140.2,994.8 1141.8,995.3 1144.9,995.5 1146.4,995 1151.1,994.9 1152.7,994.6 1154.2,995.2 1157.3,995.1 1158.9,994.8 1160.4,995 1163.6,995.1 1165.1,994.5 1166.7,994.4 1168.2,993.6 1169.8,994.3 1171.3,994.4 1172.9,995.3 1174.5,995 1176,995.1 1177.6,994.1 1180.7,993.4 1182.2,993.8 1183.8,993.8 1185.4,993.3 1186.9,993.2 1190,993.9 1193.1,993.8 1194.7,994.2 1199.4,992.8 1200.9,993.4 1202.5,993.3 1205.6,992.9 1208.7,992.8 1211.8,992 1214.9,992.3 1218.1,991.6 1219.6,991.6 1221.2,992.1 1224.3,992.1 1227.4,992.5 1229,992.2 1230.5,991.5 1235.2,991.8 1236.7,991.5 1243,991.5 1244.5,990.9 1246.1,991.1 1247.6,990.7 1249.2,991.2 1250.8,991.4 1252.3,991.3 1255.4,990.4 1258.5,991 1261.7,990.7 1264.8,990.7 1267.9,989.3 1269.5,989 1271,989.4 1272.6,989.3 1274.1,989.7 1275.7,989.4 1277.2,989.8 1278.8,989.2 1280.4,989.5 1281.9,989.1 1283.5,989.5 1286.6,989.8 1288.1,989.6 1291.3,988.1 1292.8,987 1295.9,987.8 1297.5,988.8 1299,988 1300.6,988.3 1302.2,987.7 1303.7,988.1 1305.3,986.9 1308.4,986.8 1309.9,987.4 1313.1,986.7 1316.2,986.4 1317.7,986.5 1319.3,985.7 1320.8,986.2 1322.4,985.8 1324,986.3 1328.6,985.4 1333.3,984.8 1342.6,985.3 1344.2,984.7 1345.8,984.5 1347.3,984.5 1348.9,984.9 1350.4,985 1352,984.9 1353.5,984.2 1356.7,983.6 1358.2,983.8 1359.8,983.3 1361.3,983 1362.9,983 1364.4,983.7 1366,983.2" fill="none" stroke="#000" stroke-width="1.5" stroke-linejoin="round"/><polygon points="821.6,995.9 844.6,994.6 851.5,993.5 856.5,991.9 861.5,989.2 865.2,986 868.9,981.1 872,975.4 875.2,968 878.3,958.5 880.8,949.2 883.9,935.7 888.9,909.5 899.4,846.3 903.8,824.6 906.3,815.6 908.2,810.8 910,808 911.3,807.3 911.9,807.3 913.8,808.7 915.6,812.1 917.5,817.5 919.4,824.6 923.7,846.2 933.7,905.8 938.7,932.5 941.8,946.5 944.3,956.1 947.4,966 950.5,973.8 953.6,979.8 957.4,985 961.1,988.4 965.5,991 970.5,992.8 976.7,993.9 985.4,994.7 998.5,995.2 998.5,996.9 821.6,997.5" fill="url(#g7)" stroke="none"/><polyline points="821.6,995.9 835.3,995.3 844.6,994.6 851.5,993.5 856.5,991.9 859,990.8 861.5,989.2 863.3,987.8 865.2,986 867.1,983.8 868.9,981.1 872,975.4 875.2,968 878.3,958.5 880.8,949.2 883.9,935.7 888.9,909.5 899.4,846.3 901.9,833.2 903.8,824.6 906.3,815.6 908.2,810.8 909.4,808.7 910,808 911.3,807.3 911.9,807.3 912.5,807.5 913.8,808.7 915.6,812.1 917.5,817.5 919.4,824.6 921.2,833.1 923.7,846.2 933.7,905.8 938.7,932.5 941.8,946.5 944.3,956.1 947.4,966 950.5,973.8 953.6,979.8 955.5,982.6 957.4,985 959.2,986.9 961.1,988.4 963,989.7 965.5,991 970.5,992.8 976.7,993.9 985.4,994.7 998.5,995.2" fill="none" stroke="#56bf98" stroke-width="1.3" stroke-linejoin="round"/><polygon points="883.9,997.1 895.1,996.6 903.8,995.5 911.9,993.6 918.8,991 925,987.6 931.2,983.2 948.7,968 954.9,963.2 958.6,961 961.7,959.6 964.9,958.8 968,958.5 971.1,958.8 974.2,959.6 977.3,960.9 980.4,962.7 986.7,967.3 1000.4,979.4 1006.6,984.3 1013.4,988.7 1020.9,992.1 1029,994.4 1039,995.8 1050.8,996.4 1070.1,996.6 1070.1,996.6 883.9,997.3" fill="url(#g8)" stroke="none"/><polyline points="883.9,997.1 895.1,996.6 903.8,995.5 908.2,994.6 911.9,993.6 915.6,992.3 918.8,991 925,987.6 931.2,983.2 936.8,978.6 948.7,968 954.9,963.2 958.6,961 961.7,959.6 964.9,958.8 968,958.5 971.1,958.8 974.2,959.6 977.3,960.9 980.4,962.7 986.7,967.3 1000.4,979.4 1006.6,984.3 1010.3,986.8 1013.4,988.7 1017.2,990.6 1020.9,992.1 1024.7,993.3 1029,994.4 1034,995.3 1039,995.8 1050.8,996.4 1070.1,996.6" fill="none" stroke="#f05cb0" stroke-width="1.4" stroke-linejoin="round"/><polyline points="899.4,997.2 918.1,996.8 934.3,996.3 949.9,995.5 984.2,993.4 1004.1,992.9 1024,993.2 1062.6,995.2 1083.2,995.9 1106.9,996.1 1135.5,995.9 1214,993 1273.8,989.5 1366,983.2" fill="none" stroke="#2fa856" stroke-width="1.5" stroke-linejoin="round"/><polyline points="743.1,997.6 903.2,997.3 1083.8,996.5 1132.4,996 1214,993 1273.8,989.5 1366,983.2" fill="none" stroke="#e26bb4" stroke-width="1.5" stroke-linejoin="round"/><rect x="743.10" y="577.00" width="622.90" height="434.00" fill="none" stroke="#1a1a1a" stroke-width="1.6"/><line x1="743.10" y1="794.00" x2="1366.00" y2="794.00" stroke="#1a1a1a" stroke-width="1.6"/><line x1="743.10" y1="1011.00" x2="743.10" y2="1015.50" stroke="#1a1a1a" stroke-width="1.5"/><line x1="805.39" y1="1011.00" x2="805.39" y2="1015.50" stroke="#1a1a1a" stroke-width="1.5"/><line x1="867.68" y1="1011.00" x2="867.68" y2="1015.50" stroke="#1a1a1a" stroke-width="1.5"/><line x1="929.97" y1="1011.00" x2="929.97" y2="1015.50" stroke="#1a1a1a" stroke-width="1.5"/><line x1="992.26" y1="1011.00" x2="992.26" y2="1015.50" stroke="#1a1a1a" stroke-width="1.5"/><line x1="1054.55" y1="1011.00" x2="1054.55" y2="1015.50" stroke="#1a1a1a" stroke-width="1.5"/><line x1="1116.84" y1="1011.00" x2="1116.84" y2="1015.50" stroke="#1a1a1a" stroke-width="1.5"/><line x1="1179.13" y1="1011.00" x2="1179.13" y2="1015.50" stroke="#1a1a1a" stroke-width="1.5"/><line x1="1241.42" y1="1011.00" x2="1241.42" y2="1015.50" stroke="#1a1a1a" stroke-width="1.5"/><line x1="1303.71" y1="1011.00" x2="1303.71" y2="1015.50" stroke="#1a1a1a" stroke-width="1.5"/><line x1="1366.00" y1="1011.00" x2="1366.00" y2="1015.50" stroke="#1a1a1a" stroke-width="1.5"/><line x1="774.25" y1="1011.00" x2="774.25" y2="1019.00" stroke="#1a1a1a" stroke-width="1.5"/><text transform="translate(774.25,1045.00)" font-size="24" font-weight="bold" text-anchor="middle" fill="#000">526</text><line x1="836.53" y1="1011.00" x2="836.53" y2="1019.00" stroke="#1a1a1a" stroke-width="1.5"/><text transform="translate(836.53,1045.00)" font-size="24" font-weight="bold" text-anchor="middle" fill="#000">528</text><line x1="898.83" y1="1011.00" x2="898.83" y2="1019.00" stroke="#1a1a1a" stroke-width="1.5"/><text transform="translate(898.83,1045.00)" font-size="24" font-weight="bold" text-anchor="middle" fill="#000">530</text><line x1="961.12" y1="1011.00" x2="961.12" y2="1019.00" stroke="#1a1a1a" stroke-width="1.5"/><text transform="translate(961.12,1045.00)" font-size="24" font-weight="bold" text-anchor="middle" fill="#000">532</text><line x1="1023.40" y1="1011.00" x2="1023.40" y2="1019.00" stroke="#1a1a1a" stroke-width="1.5"/><text transform="translate(1023.40,1045.00)" font-size="24" font-weight="bold" text-anchor="middle" fill="#000">534</text><line x1="1085.70" y1="1011.00" x2="1085.70" y2="1019.00" stroke="#1a1a1a" stroke-width="1.5"/><text transform="translate(1085.70,1045.00)" font-size="24" font-weight="bold" text-anchor="middle" fill="#000">536</text><line x1="1147.99" y1="1011.00" x2="1147.99" y2="1019.00" stroke="#1a1a1a" stroke-width="1.5"/><text transform="translate(1147.99,1045.00)" font-size="24" font-weight="bold" text-anchor="middle" fill="#000">538</text><line x1="1210.28" y1="1011.00" x2="1210.28" y2="1019.00" stroke="#1a1a1a" stroke-width="1.5"/><text transform="translate(1210.28,1045.00)" font-size="24" font-weight="bold" text-anchor="middle" fill="#000">540</text><line x1="1272.57" y1="1011.00" x2="1272.57" y2="1019.00" stroke="#1a1a1a" stroke-width="1.5"/><text transform="translate(1272.57,1045.00)" font-size="24" font-weight="bold" text-anchor="middle" fill="#000">542</text><line x1="1334.86" y1="1011.00" x2="1334.86" y2="1019.00" stroke="#1a1a1a" stroke-width="1.5"/><text transform="translate(1334.86,1045.00)" font-size="24" font-weight="bold" text-anchor="middle" fill="#000">544</text><text transform="translate(1054.50,1076.90) scale(0.975,1)" font-size="24.8" font-weight="bold" text-anchor="middle" fill="#000">Binding Energy (eV)</text><text transform="translate(724.90,806.00) rotate(-90) scale(0.93,1)" font-size="26" font-weight="bold" text-anchor="middle" fill="#000">Intensity (a.u.)</text><text transform="translate(693.00,576.00)" font-size="33.5" font-weight="bold" text-anchor="start" fill="#000">(c)</text><text transform="translate(1321.30,596.50) scale(1.04,1)" font-size="21.5" font-weight="bold" text-anchor="start" fill="#000">O 1s</text><text transform="translate(933.90,597.80)" font-size="24" font-weight="bold" text-anchor="start" fill="#000">530.8 eV</text><text transform="translate(987.20,727.60)" font-size="24" font-weight="bold" text-anchor="start" fill="#000">532.1 eV</text><text transform="translate(808.00,650.30)" font-size="22.3" font-weight="bold" text-anchor="start" fill="#5dbf9c">Mg-OH</text><text transform="translate(1024.60,762.80)" font-size="22.3" font-weight="bold" text-anchor="start" fill="#e985c4">Mg-O</text><text transform="translate(1282.00,746.50)" font-size="21.5" font-weight="bold" text-anchor="start" fill="#000">SW33</text><line x1="758.50" y1="700.60" x2="758.50" y2="743.80" stroke="#1a1a1a" stroke-width="2.0"/><line x1="755.30" y1="700.60" x2="761.70" y2="700.60" stroke="#1a1a1a" stroke-width="2.0"/><line x1="755.30" y1="743.80" x2="761.70" y2="743.80" stroke="#1a1a1a" stroke-width="2.0"/><text transform="translate(769.40,728.40)" font-size="24" font-weight="bold" text-anchor="start" fill="#000">40000</text><text transform="translate(800.80,887.10)" font-size="22.3" font-weight="bold" text-anchor="start" fill="#5dbf9c">Mg-OH</text><text transform="translate(1008.70,973.00)" font-size="22.3" font-weight="bold" text-anchor="start" fill="#e985c4">Mg-O</text><text transform="translate(1283.10,969.60)" font-size="21.5" font-weight="bold" text-anchor="start" fill="#000">SW35</text><line x1="760.00" y1="917.60" x2="760.00" y2="960.50" stroke="#1a1a1a" stroke-width="2.0"/><line x1="756.80" y1="917.60" x2="763.20" y2="917.60" stroke="#1a1a1a" stroke-width="2.0"/><line x1="756.80" y1="960.50" x2="763.20" y2="960.50" stroke="#1a1a1a" stroke-width="2.0"/><text transform="translate(771.10,947.00)" font-size="24" font-weight="bold" text-anchor="start" fill="#000">40000</text><line x1="914.60" y1="593.20" x2="914.60" y2="618.00" stroke="#111" stroke-width="1.3" stroke-dasharray="8,5,12,40"/><line x1="970.50" y1="723.00" x2="970.50" y2="747.70" stroke="#111" stroke-width="1.3" stroke-dasharray="10,5,10,40"/><line x1="911.40" y1="793.20" x2="911.40" y2="818.50" stroke="#111" stroke-width="1.3" stroke-dasharray="9,5,12,40"/><line x1="968.10" y1="940.20" x2="968.10" y2="965.50" stroke="#111" stroke-width="1.3" stroke-dasharray="10,6,10,40"/><polyline points="1433.8,780.5 1436.9,779.5 1440,780.1 1443.1,779.4 1446.2,779.5 1449.3,780.2 1455.5,780.2 1458.6,780.4 1461.7,779.7 1464.8,780 1467.9,781.3 1471,779.9 1474.1,779.5 1477.2,780.1 1480.3,778.7 1483.4,778.8 1486.5,779.5 1489.6,779 1495.8,778.8 1502,779.5 1505.1,778.5 1508.2,778.3 1511.3,778.4 1514.4,777.8 1517.5,778.4 1520.6,779.6 1523.7,780.2 1529.9,778.5 1533,778.4 1536.1,778.8 1539.2,779.8 1545.4,779.6 1548.5,779.7 1551.6,780.2 1554.7,778.8 1557.8,776.7 1560.9,777.7 1564,779.3 1570.2,778.9 1573.3,778.5 1576.4,777.4 1579.5,777.7 1582.6,778.8 1585.7,779.6 1588.8,778.7 1591.9,778.3 1598.1,778.1 1604.3,777.7 1607.4,777.8 1613.6,777.6 1616.7,777 1622.9,777.3 1632.2,776.1 1638.4,773.7 1641.5,773.2 1650.8,764.5 1653.9,758.4 1657,749.7 1666.3,721.1 1669.4,708.2 1672.5,692.7 1684.9,625.1 1688,609.4 1691.1,598.5 1694.2,591.3 1697.3,587 1700.4,584.8 1703.5,585.8 1706.6,590.6 1709.7,597.1 1712.8,607.2 1715.9,621.1 1728.3,685.8 1734.5,715.2 1737.6,726.7 1743.8,745.3 1746.9,753.3 1750,758.7 1753.1,763.1 1756.2,765.7 1759.3,767.3 1765.5,773 1768.6,773.8 1777.9,774.5 1784.1,775.6 1787.2,775.7 1790.3,776.5 1793.4,778.2 1796.5,777.3 1799.6,776.9 1802.7,778.6 1805.8,777.7 1808.9,777.5 1812,778.4 1821.3,777.1 1824.4,778.4 1827.5,780.6 1830.6,780.6 1833.7,779.1 1836.8,778.3 1839.9,778.7 1843,778.1 1846.1,777.7 1849.2,778.5 1852.3,778.4 1855.4,777.1 1858.5,776.6 1861.6,777.8 1864.7,778.3 1867.8,778 1870.9,779 1874,779.2 1877.1,778 1880.2,777.9 1883.3,779.6 1886.4,779 1889.5,778.7 1892.6,780.2 1898.8,778 1901.9,779 1905,779.3 1908.1,778.1 1911.2,779.1 1914.3,779.5 1917.4,778.6 1920.5,778.5 1923.6,778.1 1929.8,778.1 1932.9,778.2 1936,779 1945.3,779.6 1948.4,779.3 1951.5,778 1954.6,778.1 1957.7,777.4 1960.8,776.4 1963.9,777.5 1967,776.9 1970.1,777.5 1973.2,777.8 1976.3,776.1 1979.4,776.2 1988.7,777.2 1991.8,777.8 1994.9,777.8 2001.1,776.7 2007.3,776.9 2010.4,775.4 2013.5,776.6 2016.6,777.1 2019.7,775.6 2022.8,775.7 2025.9,776.7 2032.1,775.6 2038.3,778 2041.4,777.5 2044.5,776.4 2047.6,776 2050.7,777.1" fill="none" stroke="#000" stroke-width="1.6" stroke-linejoin="round"/><polygon points="1570.8,778.9 1614.2,778 1624.1,777.4 1631.6,776.3 1637.8,774.5 1643.4,771.6 1647.7,768 1652,762.6 1656.4,755 1660.1,746.3 1663.8,735.4 1667.5,722.1 1674.4,691.9 1687.4,625.1 1690.5,611.3 1693,601.9 1695.4,594.4 1697.9,589 1699.2,587.3 1700.4,586.1 1702.3,585.6 1703.5,586.1 1704.7,587.3 1707.2,591.4 1709.7,597.8 1712.8,608.7 1717.8,631.1 1731.4,700.6 1735.1,716.9 1738.8,731 1741.9,741 1745.7,750.7 1749.4,758.4 1753.1,764.1 1757.4,768.9 1762.4,772.5 1768,774.9 1775.4,776.5 1784.7,777.4 1798.4,777.9 1849.2,778.4 1849.2,778.9 1570.8,779.7" fill="url(#g9)" stroke="none"/><polyline points="1570.8,778.9 1596.9,778.5 1614.2,778 1624.1,777.4 1631.6,776.3 1634.7,775.6 1637.8,774.5 1640.9,773.1 1643.4,771.6 1645.8,769.7 1647.7,768 1650.2,765.1 1652,762.6 1654.5,758.6 1656.4,755 1660.1,746.3 1663.8,735.4 1667.5,722.1 1670.6,709.2 1674.4,691.9 1687.4,625.1 1690.5,611.3 1693,601.9 1695.4,594.4 1696.7,591.4 1697.9,589 1699.2,587.3 1700.4,586.1 1701.6,585.6 1702.3,585.6 1703.5,586.1 1704.7,587.3 1706,589 1707.2,591.4 1709.7,597.8 1712.8,608.7 1715.3,619.3 1717.8,631.1 1727.1,679.3 1731.4,700.6 1735.1,716.9 1738.8,731 1741.9,741 1745.7,750.7 1749.4,758.4 1753.1,764.1 1755,766.4 1757.4,768.9 1759.9,770.9 1762.4,772.5 1764.9,773.7 1768,774.9 1771.7,775.9 1775.4,776.5 1784.7,777.4 1798.4,777.9 1818.8,778.2 1849.2,778.4" fill="none" stroke="#f5861f" stroke-width="1.5" stroke-linejoin="round"/><polyline points="1430.7,779.8 1806.4,779.2 1927.3,778.5 2050.7,776.5" fill="none" stroke="#f5861f" stroke-width="1.6" stroke-linejoin="round"/><polyline points="1433.8,997.5 1436.9,998.1 1440,997.6 1443.1,997.5 1446.2,997.2 1449.3,995.8 1455.5,998.3 1458.6,996.3 1461.7,995.4 1467.9,997 1471,998 1474.1,998 1477.2,997 1483.4,997.2 1489.6,996.8 1492.7,996 1495.8,997.1 1498.9,997.6 1502,996.9 1508.2,996.4 1511.3,996.5 1517.5,998 1520.6,998 1523.7,997 1526.8,998.2 1529.9,999 1533,997.9 1539.2,996.5 1542.3,997.1 1548.5,995.5 1551.6,996.6 1554.7,998.4 1557.8,998.4 1560.9,996.4 1564,995.5 1567.1,996.6 1570.2,996.8 1573.3,996 1576.4,997.5 1579.5,997.7 1582.6,996.4 1585.7,995.9 1591.9,997.9 1595,996.7 1598.1,995 1601.2,995 1604.3,995.9 1607.4,995.5 1610.5,993.6 1613.6,993.3 1616.7,994.4 1619.8,993.8 1626,991.2 1629.1,989 1632.2,986 1635.3,982.3 1638.4,977.8 1644.6,966.8 1647.7,960.2 1650.8,950.8 1653.9,940.2 1657,928.1 1660.1,914 1666.3,884.2 1672.5,850.9 1675.6,835.2 1678.7,822.4 1681.8,810.4 1684.9,800.2 1688,793 1691.1,789.9 1694.2,791.7 1697.3,795 1700.4,801.1 1703.5,810.2 1706.6,821.4 1709.7,834.4 1712.8,848.3 1719,879 1728.3,919.5 1731.4,931.5 1734.5,942.4 1740.7,960 1743.8,966.2 1750,975.9 1753.1,979.9 1759.3,985.5 1762.4,987.1 1765.5,989.3 1768.6,991 1771.7,991.6 1774.8,991.7 1777.9,991.5 1781,992.7 1784.1,994.4 1790.3,995.2 1793.4,995.2 1799.6,995.9 1802.7,994.3 1805.8,993.8 1812,996.2 1821.3,996.7 1824.4,997.6 1827.5,997.3 1830.6,996.5 1833.7,996.4 1836.8,995.3 1839.9,995.4 1843,997.2 1846.1,996.9 1849.2,997.4 1852.3,998.1 1855.4,997.1 1858.5,997.3 1861.6,997.1 1864.7,996.6 1867.8,997.3 1870.9,996.9 1874,996.1 1877.1,995.8 1880.2,995.9 1883.3,998.3 1886.4,998.9 1889.5,996.7 1892.6,995 1895.7,995.8 1898.8,997.2 1901.9,996.5 1908.1,997.5 1911.2,997.1 1917.4,997.5 1920.5,996.8 1923.6,995.8 1926.7,996.8 1929.8,997.1 1932.9,995.6 1939.1,996.2 1942.2,996.1 1945.3,998.1 1948.4,998.8 1951.5,996.7 1954.6,995 1963.9,995.4 1967,996 1970.1,996.2 1973.2,996 1976.3,994.8 1979.4,994.6 1982.5,995.4 1985.6,995.5 1988.7,996.1 1994.9,994.5 1998,994.7 2001.1,994.2 2004.2,994.9 2007.3,994.9 2010.4,995.6 2013.5,994.5 2016.6,994.2 2019.7,995.3 2022.8,993.8 2025.9,993.9 2029,994.6 2035.2,995.6 2038.3,994.5 2041.4,993.8 2044.5,994.3 2047.6,994.4 2050.7,994" fill="none" stroke="#000" stroke-width="1.6" stroke-linejoin="round"/><polygon points="1570.8,996.7 1604.3,996 1613,995.2 1619.2,993.9 1625.4,991.5 1630.3,988.3 1635.3,983.4 1639.6,977.2 1644,968.9 1647.7,959.7 1651.4,948.5 1655.8,932.9 1662.6,903.2 1676.2,836.3 1681.8,813.5 1684.9,803.9 1687.4,798.2 1689.2,795.2 1690.5,793.9 1691.7,793.1 1693,792.8 1694.2,793.1 1695.4,793.9 1697.9,797.1 1700.4,802.3 1703.5,811.4 1706.6,822.9 1709.7,836.2 1724,906 1727.7,922.7 1731.4,937.6 1735.7,952.4 1740.1,964.4 1744.4,973.8 1749.4,981.7 1754.3,987.1 1759.3,990.7 1765.5,993.4 1772.9,995 1781,995.8 1793.4,996.2 1849.2,996.5 1849.2,996.8 1570.8,997.2" fill="url(#g10)" stroke="none"/><polyline points="1570.8,996.7 1592.5,996.4 1604.3,996 1613,995.2 1619.2,993.9 1622.3,992.9 1625.4,991.5 1627.9,990.1 1630.3,988.3 1632.8,986.1 1635.3,983.4 1637.8,980.1 1639.6,977.2 1642.1,972.7 1644,968.9 1647.7,959.7 1651.4,948.5 1655.8,932.9 1658.9,920.1 1662.6,903.2 1676.2,836.3 1679.3,822.9 1681.8,813.5 1684.9,803.9 1687.4,798.2 1689.2,795.2 1690.5,793.9 1691.7,793.1 1693,792.8 1694.2,793.1 1695.4,793.9 1696.7,795.2 1697.9,797.1 1700.4,802.3 1703.5,811.4 1706.6,822.9 1709.7,836.2 1724,906 1727.7,922.7 1731.4,937.6 1735.7,952.4 1740.1,964.4 1741.9,968.8 1744.4,973.8 1746.9,978.1 1749.4,981.7 1751.9,984.7 1754.3,987.1 1756.8,989.1 1759.3,990.7 1762.4,992.2 1765.5,993.4 1769.2,994.3 1772.9,995 1781,995.8 1793.4,996.2 1849.2,996.5" fill="none" stroke="#ee3535" stroke-width="1.3" stroke-linejoin="round"/><polyline points="1430.7,997.3 1800.2,997 1923.6,996.5 2050.7,994" fill="none" stroke="#f5861f" stroke-width="1.6" stroke-linejoin="round"/><rect x="1430.70" y="574.20" width="620.00" height="432.60" fill="none" stroke="#1a1a1a" stroke-width="1.6"/><line x1="1430.70" y1="790.30" x2="2050.70" y2="790.30" stroke="#1a1a1a" stroke-width="1.6"/><line x1="1461.70" y1="1006.80" x2="1461.70" y2="1011.30" stroke="#1a1a1a" stroke-width="1.5"/><line x1="1523.70" y1="1006.80" x2="1523.70" y2="1011.30" stroke="#1a1a1a" stroke-width="1.5"/><line x1="1585.70" y1="1006.80" x2="1585.70" y2="1011.30" stroke="#1a1a1a" stroke-width="1.5"/><line x1="1647.70" y1="1006.80" x2="1647.70" y2="1011.30" stroke="#1a1a1a" stroke-width="1.5"/><line x1="1709.70" y1="1006.80" x2="1709.70" y2="1011.30" stroke="#1a1a1a" stroke-width="1.5"/><line x1="1771.70" y1="1006.80" x2="1771.70" y2="1011.30" stroke="#1a1a1a" stroke-width="1.5"/><line x1="1833.70" y1="1006.80" x2="1833.70" y2="1011.30" stroke="#1a1a1a" stroke-width="1.5"/><line x1="1895.70" y1="1006.80" x2="1895.70" y2="1011.30" stroke="#1a1a1a" stroke-width="1.5"/><line x1="1957.70" y1="1006.80" x2="1957.70" y2="1011.30" stroke="#1a1a1a" stroke-width="1.5"/><line x1="2019.70" y1="1006.80" x2="2019.70" y2="1011.30" stroke="#1a1a1a" stroke-width="1.5"/><line x1="1430.70" y1="1006.80" x2="1430.70" y2="1014.80" stroke="#1a1a1a" stroke-width="1.5"/><text transform="translate(1430.70,1039.90)" font-size="24" font-weight="bold" text-anchor="middle" fill="#000">124</text><line x1="1492.70" y1="1006.80" x2="1492.70" y2="1014.80" stroke="#1a1a1a" stroke-width="1.5"/><text transform="translate(1492.70,1039.90)" font-size="24" font-weight="bold" text-anchor="middle" fill="#000">126</text><line x1="1554.70" y1="1006.80" x2="1554.70" y2="1014.80" stroke="#1a1a1a" stroke-width="1.5"/><text transform="translate(1554.70,1039.90)" font-size="24" font-weight="bold" text-anchor="middle" fill="#000">128</text><line x1="1616.70" y1="1006.80" x2="1616.70" y2="1014.80" stroke="#1a1a1a" stroke-width="1.5"/><text transform="translate(1616.70,1039.90)" font-size="24" font-weight="bold" text-anchor="middle" fill="#000">130</text><line x1="1678.70" y1="1006.80" x2="1678.70" y2="1014.80" stroke="#1a1a1a" stroke-width="1.5"/><text transform="translate(1678.70,1039.90)" font-size="24" font-weight="bold" text-anchor="middle" fill="#000">132</text><line x1="1740.70" y1="1006.80" x2="1740.70" y2="1014.80" stroke="#1a1a1a" stroke-width="1.5"/><text transform="translate(1740.70,1039.90)" font-size="24" font-weight="bold" text-anchor="middle" fill="#000">134</text><line x1="1802.70" y1="1006.80" x2="1802.70" y2="1014.80" stroke="#1a1a1a" stroke-width="1.5"/><text transform="translate(1802.70,1039.90)" font-size="24" font-weight="bold" text-anchor="middle" fill="#000">136</text><line x1="1864.70" y1="1006.80" x2="1864.70" y2="1014.80" stroke="#1a1a1a" stroke-width="1.5"/><text transform="translate(1864.70,1039.90)" font-size="24" font-weight="bold" text-anchor="middle" fill="#000">138</text><line x1="1926.70" y1="1006.80" x2="1926.70" y2="1014.80" stroke="#1a1a1a" stroke-width="1.5"/><text transform="translate(1926.70,1039.90)" font-size="24" font-weight="bold" text-anchor="middle" fill="#000">140</text><line x1="1988.70" y1="1006.80" x2="1988.70" y2="1014.80" stroke="#1a1a1a" stroke-width="1.5"/><text transform="translate(1988.70,1039.90)" font-size="24" font-weight="bold" text-anchor="middle" fill="#000">142</text><line x1="2050.70" y1="1006.80" x2="2050.70" y2="1014.80" stroke="#1a1a1a" stroke-width="1.5"/><text transform="translate(2050.70,1039.90)" font-size="24" font-weight="bold" text-anchor="middle" fill="#000">144</text><text transform="translate(1740.80,1072.80) scale(0.975,1)" font-size="24.8" font-weight="bold" text-anchor="middle" fill="#000">Binding Energy (eV)</text><text transform="translate(1413.40,781.00) rotate(-90) scale(0.93,1)" font-size="26" font-weight="bold" text-anchor="middle" fill="#000">Intensity (a.u.)</text><text transform="translate(1388.90,573.30)" font-size="33.5" font-weight="bold" text-anchor="start" fill="#000">(d)</text><text transform="translate(2008.00,595.00) scale(1.04,1)" font-size="21.5" font-weight="bold" text-anchor="start" fill="#000">P 2p</text><text transform="translate(1728.70,602.20)" font-size="24" font-weight="bold" text-anchor="start" fill="#000">133.6 eV</text><text transform="translate(1603.90,672.20)" font-size="22.3" font-weight="bold" text-anchor="start" fill="#f5862a"><tspan dy="-0.00">PO</tspan><tspan dy="6.69" font-size="13.8">4</tspan><tspan dy="-15.16" font-size="13.8">3-</tspan></text><text transform="translate(1935.50,761.90)" font-size="21.5" font-weight="bold" text-anchor="start" fill="#000">SW33</text><line x1="1444.60" y1="716.60" x2="1444.60" y2="741.00" stroke="#1a1a1a" stroke-width="2.0"/><line x1="1441.40" y1="716.60" x2="1447.80" y2="716.60" stroke="#1a1a1a" stroke-width="2.0"/><line x1="1441.40" y1="741.00" x2="1447.80" y2="741.00" stroke="#1a1a1a" stroke-width="2.0"/><text transform="translate(1457.70,738.40)" font-size="24" font-weight="bold" text-anchor="start" fill="#000">3000</text><text transform="translate(1600.60,875.50)" font-size="22.3" font-weight="bold" text-anchor="start" fill="#f5862a"><tspan dy="-0.00">PO</tspan><tspan dy="6.69" font-size="13.8">4</tspan><tspan dy="-15.16" font-size="13.8">3-</tspan></text><text transform="translate(1937.20,978.10)" font-size="21.5" font-weight="bold" text-anchor="start" fill="#000">SW35</text><line x1="1444.40" y1="930.60" x2="1444.40" y2="955.00" stroke="#1a1a1a" stroke-width="2.0"/><line x1="1441.20" y1="930.60" x2="1447.60" y2="930.60" stroke="#1a1a1a" stroke-width="2.0"/><line x1="1441.20" y1="955.00" x2="1447.60" y2="955.00" stroke="#1a1a1a" stroke-width="2.0"/><text transform="translate(1457.30,951.50)" font-size="24" font-weight="bold" text-anchor="start" fill="#000">3000</text><line x1="1701.40" y1="573.30" x2="1701.40" y2="614.40" stroke="#111" stroke-width="1.3" stroke-dasharray="13,4,10,5,10,40"/><line x1="1693.20" y1="780.00" x2="1693.20" y2="822.20" stroke="#111" stroke-width="1.3" stroke-dasharray="10,7,9,6,9,40"/><polyline points="44,1319.4 45.6,1319.1 47.1,1319.5 48.7,1319.2 50.2,1319.4 53.4,1319.3 56.5,1318.5 58,1318.6 61.2,1319.5 62.7,1319.6 64.3,1319.2 67.4,1319.7 68.9,1319.6 72.1,1318.9 75.2,1319.3 79.8,1319.3 81.4,1319.5 84.5,1319.1 89.2,1319.4 90.7,1319.1 93.9,1318.9 97,1319.5 100.1,1319 101.7,1318.5 104.8,1318.4 106.3,1318.9 109.4,1319.5 111,1318.9 112.6,1319 114.1,1318.7 118.8,1319.1 120.3,1319 121.9,1318.5 123.5,1318.2 126.6,1318.5 129.7,1317.9 134.4,1318.7 139,1318.6 140.6,1318.4 143.7,1318.7 145.3,1319 148.4,1318.8 153.1,1317.8 156.2,1317.9 159.3,1318.5 162.4,1318.1 164,1317.5 167.1,1316.9 168.6,1317.1 171.8,1317 173.3,1316.8 174.9,1316.4 178,1316.2 179.5,1316.6 182.7,1315.6 184.2,1314.4 185.8,1314.5 187.3,1313.9 188.9,1313.6 190.4,1312.2 192,1311.1 195.1,1308.4 196.7,1306.5 199.8,1302.4 202.9,1297.4 206,1291.3 209.1,1282.6 212.3,1272.7 213.8,1267 215.4,1261.3 218.5,1248.3 226.3,1211.4 229.4,1195.6 232.5,1181.7 235.6,1169.3 237.2,1164.3 240.3,1156.1 241.8,1153.6 243.4,1152.1 245,1151.4 246.5,1151.4 249.6,1155.2 252.8,1162.4 254.3,1167.7 255.9,1173.2 259,1185.9 271.4,1243.3 273,1249.8 277.7,1267.2 279.2,1272.1 282.4,1280.8 283.9,1284.5 288.6,1293.7 290.1,1295.7 294.8,1300.3 296.4,1301.4 301,1302.6 302.6,1302.3 304.2,1302.3 305.7,1301.6 307.3,1301.3 311.9,1298.3 316.6,1294.6 319.7,1290.6 326,1280.5 332.2,1268.1 343.1,1243.1 344.7,1239.9 347.8,1235.3 350.9,1230.2 352.5,1228.5 354,1227.4 355.6,1226.7 358.7,1227.2 361.8,1228.7 364.9,1231.7 366.5,1233.8 372.7,1245.7 377.4,1256.9 383.6,1270.2 385.2,1272.8 386.7,1276.1 388.3,1278.6 389.8,1282 394.5,1290.1 396.1,1292.3 407,1301.9 408.5,1302.9 410.1,1303.1 411.6,1303.5 414.8,1304.9 417.9,1306 422.5,1305.8 427.2,1307.1 428.8,1307.4 430.3,1307.4 431.9,1307.9 436.6,1306.9 438.1,1307.5 439.7,1307.8 444.4,1307.2 445.9,1307.8 449,1308.1 450.6,1307.5 456.8,1307.2 459.9,1307.6 464.6,1307.5 466.2,1307.9 472.4,1306.5 477.1,1307.6 481.7,1307.2 484.9,1307.4 486.4,1307.1 488,1307.3 491.1,1308 492.6,1308.1 495.8,1307.7 498.9,1307.7 503.6,1307 505.1,1307.7 506.7,1307.7 508.2,1307.5 509.8,1306.8 512.9,1306.8 514.5,1307 519.1,1306.5 522.2,1307.1 525.4,1306.7 528.5,1307.2 533.1,1306.7 544.1,1307.2 547.2,1306.8 550.3,1306.8 555,1306.1 558.1,1306.4 559.6,1306.9 565.9,1307 570.5,1305.8 573.7,1306.1 575.2,1306.7 576.8,1306.8 578.3,1306.5 579.9,1305.6 581.4,1305.4 583,1305.5 587.7,1305 590.8,1305.6 593.9,1305.1 595.5,1304.4 598.6,1304 604.8,1305.1 609.5,1304.4 615.7,1305 617.3,1304.9 618.8,1305.2 620.4,1305 623.5,1305.5 626.6,1305.4 629.7,1306 634.4,1305.4 636,1305.8 637.5,1305.1 639.1,1305.4 640.6,1305.2 642.2,1305.5 643.7,1305.4 648.4,1304.3 653.1,1305.6 656.2,1305.9 660.9,1304.3 662.4,1304.7 664,1304.7" fill="none" stroke="#000" stroke-width="1.6" stroke-linejoin="round"/><polygon points="88.3,1319.2 139.3,1318.6 162.4,1317.9 174.2,1317.2 181.7,1316.1 187.3,1314.3 191.7,1311.9 196.1,1308.1 199.8,1303.3 203.5,1296.8 207.3,1288.1 210.4,1279.2 214.1,1266.2 217.9,1251 230.3,1191.8 235.3,1171 237.8,1162.9 240.3,1156.8 242.8,1153.1 244,1152.2 245.3,1151.9 246.5,1152.3 247.8,1153.3 250.3,1157.1 252.8,1163.3 255.2,1171.4 259.6,1189.1 272.1,1246.7 275.8,1261.6 278.9,1272.2 282,1281.2 285.2,1288.5 288.3,1294.4 291.4,1298.8 295.1,1302.7 299.5,1305.7 304.5,1307.7 310.1,1308.9 315.7,1309.3 323.8,1309.5 371.1,1308.8 371.1,1309.2 342.5,1309.9 266.5,1313.1 226.6,1316.5 192.3,1318.5 136.2,1319.3 88.3,1319.4" fill="url(#g11)" stroke="none"/><polyline points="88.3,1319.2 139.3,1318.6 162.4,1317.9 174.2,1317.2 181.7,1316.1 184.8,1315.2 187.3,1314.3 189.8,1313.1 191.7,1311.9 194.2,1309.9 196.1,1308.1 197.9,1305.9 199.8,1303.3 203.5,1296.8 207.3,1288.1 210.4,1279.2 214.1,1266.2 217.9,1251 221.6,1233.9 230.3,1191.8 232.8,1180.8 235.3,1171 237.8,1162.9 240.3,1156.8 241.5,1154.6 242.8,1153.1 244,1152.2 245.3,1151.9 246.5,1152.3 247.8,1153.3 249,1154.9 250.3,1157.1 252.8,1163.3 255.2,1171.4 259.6,1189.1 268.3,1230.1 272.1,1246.7 275.8,1261.6 278.9,1272.2 282,1281.2 285.2,1288.5 288.3,1294.4 291.4,1298.8 293.3,1301 295.1,1302.7 297,1304.2 299.5,1305.7 302,1306.9 304.5,1307.7 310.1,1308.9 315.7,1309.3 323.8,1309.5 371.1,1308.8" fill="none" stroke="#4cc24c" stroke-width="1.3" stroke-linejoin="round"/><polygon points="278.3,1311.6 291.4,1310 296.4,1309 300.7,1307.6 304.5,1306 308.2,1303.8 311.3,1301.4 314.4,1298.5 317.6,1294.8 320.7,1290.5 326.3,1280.8 331.3,1270.5 342.5,1245.1 347.5,1235.7 350,1232 352.4,1229.3 354.9,1227.7 357.4,1227.2 359.9,1227.9 362.4,1229.7 364.9,1232.5 367.4,1236.3 372.4,1245.8 386.1,1275.7 390.5,1283.7 394.2,1289.5 397.9,1294.3 402.3,1298.6 406.7,1301.7 411,1303.9 416,1305.5 421.6,1306.5 428.5,1307.2 438.4,1307.5 478.9,1307.6 555,1306.8 555,1306.9 351.2,1309.6 278.3,1312.6" fill="url(#g12)" stroke="none"/><polyline points="278.3,1311.6 285.8,1310.8 291.4,1310 296.4,1309 300.7,1307.6 304.5,1306 308.2,1303.8 311.3,1301.4 314.4,1298.5 317.6,1294.8 320.7,1290.5 323.2,1286.5 326.3,1280.8 331.3,1270.5 342.5,1245.1 345,1240.1 347.5,1235.7 350,1232 352.4,1229.3 354.9,1227.7 356.2,1227.3 357.4,1227.2 358.7,1227.4 359.9,1227.9 362.4,1229.7 364.9,1232.5 367.4,1236.3 369.9,1240.8 372.4,1245.8 382.4,1267.9 386.1,1275.7 390.5,1283.7 394.2,1289.5 397.9,1294.3 402.3,1298.6 406.7,1301.7 411,1303.9 416,1305.5 421.6,1306.5 428.5,1307.2 438.4,1307.5 454.6,1307.7 478.9,1307.6 555,1306.8" fill="none" stroke="#a24fb8" stroke-width="1.3" stroke-linejoin="round"/><polyline points="40.9,1319.6 133.1,1319.3 191.1,1318.6 226.6,1316.5 265.2,1313.2 302.6,1311.5 349.3,1309.6 385.5,1309 537.5,1307.2 664,1305" fill="none" stroke="#111111" stroke-width="1.3" stroke-linejoin="round"/><polyline points="44,1546 47.1,1546.2 51.8,1545.4 54.9,1546 56.5,1545.8 61.2,1546.4 64.3,1546.3 68.9,1545.7 70.5,1546 72.1,1545.9 73.6,1546.1 75.2,1545.7 76.7,1546 79.8,1546 81.4,1545.7 86.1,1546.1 87.6,1546.1 89.2,1546.5 92.3,1546.1 93.9,1545.5 98.5,1546.1 101.7,1545.4 106.3,1546.1 111,1545.6 117.2,1546 121.9,1545.8 126.6,1545.1 129.7,1545.3 131.2,1545.6 132.8,1545.6 134.4,1545.8 135.9,1545.1 137.5,1545.2 139,1545 140.6,1545.5 143.7,1545.8 146.8,1545.3 149.9,1545.3 154.6,1544.4 159.3,1545.3 160.8,1545.1 167.1,1544.9 173.3,1544.1 178,1544.2 182.7,1544 187.3,1542.6 192,1540.3 195.1,1539.3 199.8,1536.3 202.9,1533.2 206,1528.4 210.7,1519.3 213.8,1511.4 216.9,1502 223.2,1478.4 226.3,1465.3 232.5,1436.6 237.2,1417.6 240.3,1406.3 243.4,1397.3 245,1394.5 246.5,1392.3 248.1,1391.4 249.6,1391.2 251.2,1391.8 252.8,1393.1 254.3,1395.7 255.9,1399.4 257.4,1404.1 263.7,1425.1 273,1466.1 276.1,1479 283.9,1504.9 287,1512.9 290.1,1518.3 293.3,1522.5 294.8,1525.1 297.9,1528.3 299.5,1528.7 301,1529.8 304.2,1530.8 308.8,1530.3 310.4,1529.8 311.9,1529.1 313.5,1528 315.1,1527.2 316.6,1526.6 318.2,1525.6 322.9,1520.4 324.4,1518.4 330.6,1508.6 333.8,1502.1 335.3,1498.4 340,1489.6 341.5,1485.8 346.2,1475.7 349.3,1469.9 352.5,1465 354,1463.2 357.1,1460.7 358.7,1459.9 360.2,1458.8 361.8,1458.8 363.4,1459 366.5,1461.1 368,1462.9 371.1,1467.5 374.3,1472.7 380.5,1486.3 385.2,1495.4 388.3,1502 393,1510.3 394.5,1513.6 396.1,1516.3 397.6,1518.2 400.7,1520.8 405.4,1526.1 407,1527.3 408.5,1528.2 410.1,1528.4 414.8,1531 416.3,1531.4 417.9,1532 421,1532.4 422.5,1533.1 425.7,1533.7 427.2,1533.8 428.8,1534.8 430.3,1534.9 433.5,1534.1 435,1534.7 439.7,1534.4 441.2,1534.7 442.8,1534.7 445.9,1534.2 449,1534.2 450.6,1534.5 452.1,1534.5 456.8,1535 463.1,1534.5 466.2,1534.5 467.7,1535.1 470.8,1535.4 474,1534.3 478.6,1535 480.2,1534.3 484.9,1534.6 486.4,1534.3 488,1534.2 489.5,1534.5 495.8,1534.4 497.3,1534.7 498.9,1534.2 502,1533.9 503.6,1534.4 505.1,1534.4 506.7,1534 508.2,1534 509.8,1534.4 512.9,1534.5 514.5,1534.1 516,1534.4 517.6,1534 519.1,1533.9 523.8,1534.9 531.6,1534.7 533.1,1534.3 536.3,1533.9 537.8,1534.1 539.4,1533.9 540.9,1534.1 542.5,1533.9 544.1,1534.4 545.6,1534.3 547.2,1534.7 548.7,1534.6 553.4,1533.3 558.1,1534.1 559.6,1534.1 561.2,1533.5 564.3,1533.2 567.4,1533.3 570.5,1533.9 572.1,1533.3 575.2,1532.8 576.8,1533.2 578.3,1533.4 579.9,1532.8 583,1532.2 584.6,1532.1 586.1,1532.5 587.7,1532.3 589.2,1532.7 590.8,1532.2 595.5,1532.4 600.1,1531.9 603.2,1531.8 606.4,1532.5 609.5,1532.4 612.6,1532.7 615.7,1532.4 620.4,1533.3 623.5,1533.5 625.1,1533.4 626.6,1533.7 628.2,1533.5 629.7,1533 631.3,1532.8 632.8,1532.8 634.4,1533.2 636,1533.1 639.1,1532.6 640.6,1532 642.2,1532.1 646.9,1533.1 650,1532.1 651.5,1532 653.1,1532.2 654.7,1532.7 657.8,1532.9 664,1532.8" fill="none" stroke="#000" stroke-width="1.6" stroke-linejoin="round"/><polygon points="88.3,1545.9 148.1,1545.4 168,1544.9 178.6,1544.3 186.1,1543.2 191.7,1541.6 196.1,1539.4 200.4,1535.9 204.2,1531.5 207.9,1525.5 211.6,1517.5 214.7,1509.1 218.5,1496.9 222.2,1482.6 234.1,1430.2 239,1410.7 241.5,1402.9 244,1397 246.5,1393.3 247.8,1392.2 249,1391.8 250.9,1392.3 253.4,1395 255.2,1398.5 257.7,1404.9 262.7,1422.4 274.6,1473.3 280.8,1496.3 283.9,1505.7 287.6,1514.9 291.4,1521.9 295.1,1527.1 298.9,1530.8 303.2,1533.7 308.2,1535.6 313.8,1536.7 325.7,1537.2 371.1,1536.7 371.1,1537.1 335.6,1538 293.9,1539.8 262.1,1541.6 235.3,1544.1 214.1,1545.5 88.3,1546.2" fill="url(#g13)" stroke="none"/><polyline points="88.3,1545.9 148.1,1545.4 168,1544.9 178.6,1544.3 186.1,1543.2 189.2,1542.5 191.7,1541.6 196.1,1539.4 198.5,1537.6 200.4,1535.9 204.2,1531.5 207.9,1525.5 211.6,1517.5 214.7,1509.1 218.5,1496.9 222.2,1482.6 226,1466.6 234.1,1430.2 236.6,1419.9 239,1410.7 241.5,1402.9 244,1397 245.3,1394.9 246.5,1393.3 247.8,1392.2 249,1391.8 249.6,1391.8 250.9,1392.3 252.1,1393.4 253.4,1395 255.2,1398.5 257.7,1404.9 260.2,1413 262.7,1422.4 274.6,1473.3 277.7,1485.5 280.8,1496.3 283.9,1505.7 287.6,1514.9 291.4,1521.9 293.3,1524.7 295.1,1527.1 298.9,1530.8 300.7,1532.2 303.2,1533.7 305.7,1534.8 308.2,1535.6 313.8,1536.7 318.8,1537.1 325.7,1537.2 371.1,1536.7" fill="none" stroke="#4cc24c" stroke-width="1.3" stroke-linejoin="round"/><polygon points="278.3,1539.8 293.3,1538.2 303.2,1536 307,1534.6 310.7,1532.7 314.4,1530.2 317.6,1527.5 320.7,1524.1 323.8,1520.2 329.4,1511.3 335,1500.4 346.2,1476.5 351.2,1467.6 353.7,1464.1 356.2,1461.6 358.7,1460 361.2,1459.6 363.7,1460.2 366.2,1461.9 368.7,1464.6 371.8,1469.1 376.8,1478.3 389.2,1504.1 393.6,1511.8 397.3,1517.4 401.1,1522 405.4,1526.2 409.8,1529.2 414.1,1531.3 418.5,1532.7 424.1,1533.8 430.3,1534.4 438.4,1534.6 476.4,1534.7 555,1533.9 555,1534.1 440.3,1535.6 341.9,1537.8 300.1,1539.4 278.3,1540.7" fill="url(#g14)" stroke="none"/><polyline points="278.3,1539.8 287,1539 293.3,1538.2 298.9,1537.1 303.2,1536 307,1534.6 310.7,1532.7 314.4,1530.2 317.6,1527.5 320.7,1524.1 323.8,1520.2 326.3,1516.5 329.4,1511.3 335,1500.4 346.2,1476.5 348.7,1471.8 351.2,1467.6 353.7,1464.1 356.2,1461.6 358.7,1460 359.9,1459.7 361.2,1459.6 362.4,1459.7 363.7,1460.2 366.2,1461.9 368.7,1464.6 371.8,1469.1 376.8,1478.3 385.5,1496.6 389.2,1504.1 393.6,1511.8 397.3,1517.4 401.1,1522 405.4,1526.2 409.8,1529.2 414.1,1531.3 418.5,1532.7 424.1,1533.8 430.3,1534.4 438.4,1534.6 476.4,1534.7 555,1533.9" fill="none" stroke="#a24fb8" stroke-width="1.3" stroke-linejoin="round"/><polyline points="40.9,1546.3 134.4,1546.1 212.3,1545.6 219.7,1545.3 234.1,1544.2 265.2,1541.4 297.6,1539.6 339.4,1537.9 442.2,1535.6 664,1532.7" fill="none" stroke="#111111" stroke-width="1.3" stroke-linejoin="round"/><rect x="40.90" y="1124.10" width="623.10" height="435.00" fill="none" stroke="#1a1a1a" stroke-width="1.6"/><line x1="40.90" y1="1341.80" x2="664.00" y2="1341.80" stroke="#1a1a1a" stroke-width="1.6"/><line x1="72.06" y1="1559.10" x2="72.06" y2="1563.60" stroke="#1a1a1a" stroke-width="1.5"/><line x1="134.37" y1="1559.10" x2="134.37" y2="1563.60" stroke="#1a1a1a" stroke-width="1.5"/><line x1="196.68" y1="1559.10" x2="196.68" y2="1563.60" stroke="#1a1a1a" stroke-width="1.5"/><line x1="258.99" y1="1559.10" x2="258.99" y2="1563.60" stroke="#1a1a1a" stroke-width="1.5"/><line x1="321.30" y1="1559.10" x2="321.30" y2="1563.60" stroke="#1a1a1a" stroke-width="1.5"/><line x1="383.61" y1="1559.10" x2="383.61" y2="1563.60" stroke="#1a1a1a" stroke-width="1.5"/><line x1="445.92" y1="1559.10" x2="445.92" y2="1563.60" stroke="#1a1a1a" stroke-width="1.5"/><line x1="508.23" y1="1559.10" x2="508.23" y2="1563.60" stroke="#1a1a1a" stroke-width="1.5"/><line x1="570.53" y1="1559.10" x2="570.53" y2="1563.60" stroke="#1a1a1a" stroke-width="1.5"/><line x1="632.85" y1="1559.10" x2="632.85" y2="1563.60" stroke="#1a1a1a" stroke-width="1.5"/><line x1="40.90" y1="1559.10" x2="40.90" y2="1567.10" stroke="#1a1a1a" stroke-width="1.5"/><text transform="translate(40.90,1591.90)" font-size="24" font-weight="bold" text-anchor="middle" fill="#000">340</text><line x1="103.21" y1="1559.10" x2="103.21" y2="1567.10" stroke="#1a1a1a" stroke-width="1.5"/><text transform="translate(103.21,1591.90)" font-size="24" font-weight="bold" text-anchor="middle" fill="#000">342</text><line x1="165.52" y1="1559.10" x2="165.52" y2="1567.10" stroke="#1a1a1a" stroke-width="1.5"/><text transform="translate(165.52,1591.90)" font-size="24" font-weight="bold" text-anchor="middle" fill="#000">344</text><line x1="227.83" y1="1559.10" x2="227.83" y2="1567.10" stroke="#1a1a1a" stroke-width="1.5"/><text transform="translate(227.83,1591.90)" font-size="24" font-weight="bold" text-anchor="middle" fill="#000">346</text><line x1="290.14" y1="1559.10" x2="290.14" y2="1567.10" stroke="#1a1a1a" stroke-width="1.5"/><text transform="translate(290.14,1591.90)" font-size="24" font-weight="bold" text-anchor="middle" fill="#000">348</text><line x1="352.45" y1="1559.10" x2="352.45" y2="1567.10" stroke="#1a1a1a" stroke-width="1.5"/><text transform="translate(352.45,1591.90)" font-size="24" font-weight="bold" text-anchor="middle" fill="#000">350</text><line x1="414.76" y1="1559.10" x2="414.76" y2="1567.10" stroke="#1a1a1a" stroke-width="1.5"/><text transform="translate(414.76,1591.90)" font-size="24" font-weight="bold" text-anchor="middle" fill="#000">352</text><line x1="477.07" y1="1559.10" x2="477.07" y2="1567.10" stroke="#1a1a1a" stroke-width="1.5"/><text transform="translate(477.07,1591.90)" font-size="24" font-weight="bold" text-anchor="middle" fill="#000">354</text><line x1="539.38" y1="1559.10" x2="539.38" y2="1567.10" stroke="#1a1a1a" stroke-width="1.5"/><text transform="translate(539.38,1591.90)" font-size="24" font-weight="bold" text-anchor="middle" fill="#000">356</text><line x1="601.69" y1="1559.10" x2="601.69" y2="1567.10" stroke="#1a1a1a" stroke-width="1.5"/><text transform="translate(601.69,1591.90)" font-size="24" font-weight="bold" text-anchor="middle" fill="#000">358</text><line x1="664.00" y1="1559.10" x2="664.00" y2="1567.10" stroke="#1a1a1a" stroke-width="1.5"/><text transform="translate(664.00,1591.90)" font-size="24" font-weight="bold" text-anchor="middle" fill="#000">360</text><text transform="translate(353.50,1622.80) scale(0.975,1)" font-size="24.8" font-weight="bold" text-anchor="middle" fill="#000">Binding Energy (eV)</text><text transform="translate(21.00,1346.50) rotate(-90) scale(0.93,1)" font-size="26" font-weight="bold" text-anchor="middle" fill="#000">Intensity (a.u.)</text><text transform="translate(-0.50,1132.50)" font-size="33.5" font-weight="bold" text-anchor="start" fill="#000">(e)</text><text transform="translate(606.00,1144.70) scale(1.04,1)" font-size="21.5" font-weight="bold" text-anchor="start" fill="#000">Ca 2p</text><text transform="translate(259.50,1151.50)" font-size="24" font-weight="bold" text-anchor="start" fill="#000">347.4 eV</text><text transform="translate(367.70,1221.10)" font-size="24" font-weight="bold" text-anchor="start" fill="#000">351.2 eV</text><text transform="translate(124.40,1204.90)" font-size="21.7" font-weight="bold" text-anchor="start" fill="#56c256">Ca 2p3/2</text><text transform="translate(392.00,1275.90)" font-size="21.5" font-weight="bold" text-anchor="start" fill="#a455bb">Ca 2p1/2</text><text transform="translate(573.50,1294.50)" font-size="21.5" font-weight="bold" text-anchor="start" fill="#000">SW33</text><line x1="54.10" y1="1231.90" x2="54.10" y2="1288.70" stroke="#1a1a1a" stroke-width="2.0"/><line x1="50.60" y1="1231.90" x2="57.60" y2="1231.90" stroke="#1a1a1a" stroke-width="2.0"/><line x1="50.60" y1="1288.70" x2="57.60" y2="1288.70" stroke="#1a1a1a" stroke-width="2.0"/><text transform="translate(64.20,1272.50)" font-size="24" font-weight="bold" text-anchor="start" fill="#000">30000</text><text transform="translate(135.20,1413.80)" font-size="21.7" font-weight="bold" text-anchor="start" fill="#56c256">Ca 2p3/2</text><text transform="translate(394.70,1497.20)" font-size="21.5" font-weight="bold" text-anchor="start" fill="#a455bb">Ca 2p1/2</text><text transform="translate(571.10,1515.10)" font-size="21.5" font-weight="bold" text-anchor="start" fill="#000">SW35</text><line x1="55.80" y1="1465.10" x2="55.80" y2="1521.60" stroke="#1a1a1a" stroke-width="2.0"/><line x1="52.30" y1="1465.10" x2="59.30" y2="1465.10" stroke="#1a1a1a" stroke-width="2.0"/><line x1="52.30" y1="1521.60" x2="59.30" y2="1521.60" stroke="#1a1a1a" stroke-width="2.0"/><text transform="translate(65.90,1506.70)" font-size="24" font-weight="bold" text-anchor="start" fill="#000">30000</text><line x1="245.00" y1="1142.40" x2="245.00" y2="1181.20" stroke="#111" stroke-width="1.3" stroke-dasharray="9,5,9,5,9,40"/><line x1="356.50" y1="1206.60" x2="356.50" y2="1247.10" stroke="#111" stroke-width="1.3" stroke-dasharray="10,5,10,5,10,40"/><line x1="249.10" y1="1375.60" x2="249.10" y2="1411.00" stroke="#111" stroke-width="1.3" stroke-dasharray="10,5,10,5,10,40"/><line x1="360.90" y1="1438.10" x2="360.90" y2="1478.60" stroke="#111" stroke-width="1.3" stroke-dasharray="10,5,10,5,10,40"/><polyline points="755.6,1322.8 759.8,1322.4 763.9,1322.7 768.1,1323.7 772.3,1323.5 776.4,1322.2 780.6,1321.9 784.8,1323.4 788.9,1323.6 793.1,1322 797.3,1322 801.5,1322.8 805.6,1323.1 809.8,1323.9 814,1323.6 818.1,1321.7 826.5,1323.5 839,1321.5 843.1,1322.7 847.3,1322.4 851.5,1321.1 855.6,1321.3 859.8,1322.3 864,1323 868.1,1321.8 872.3,1321.9 876.5,1323.3 880.6,1322.3 884.8,1320.6 893.1,1321.6 897.3,1320.5 901.5,1319.7 909.8,1320.1 914,1318.4 918.2,1317 922.3,1316.4 926.5,1314.8 930.7,1310.1 934.8,1304.7 939,1300.5 943.2,1295 947.3,1286.3 955.7,1263.6 959.8,1250 964,1234 968.2,1215.5 980.7,1165.6 984.8,1153.6 989,1143.1 993.2,1135.8 997.3,1130.9 1001.5,1128.9 1005.7,1130.6 1009.9,1133.6 1014,1139.9 1018.2,1149.1 1022.4,1161.1 1030.7,1186.8 1043.2,1233.5 1047.4,1248.3 1051.5,1259.3 1055.7,1268.7 1059.9,1279.3 1064,1287.8 1068.2,1292 1072.4,1297.3 1076.5,1301.4 1084.9,1309.1 1089,1309.9 1093.2,1311.1 1097.4,1312.1 1105.7,1317.2 1109.9,1317.6 1114.1,1319 1118.2,1318.9 1122.4,1318.1 1126.6,1318.3 1130.7,1318.9 1139.1,1318.5 1143.2,1319.3 1147.4,1319.9 1155.7,1319.3 1159.9,1319.5 1168.2,1322.1 1172.4,1322.5 1176.6,1321.6 1180.7,1321.3 1189.1,1322.2 1193.2,1321.6 1197.4,1321.4 1201.6,1322.1 1205.7,1321.3 1214.1,1323.7 1218.3,1321.3 1222.4,1320.3 1226.6,1321.6 1230.8,1322.2 1234.9,1321.1 1239.1,1320.6 1243.3,1321.5 1247.4,1320.7 1255.8,1321.1 1264.1,1320.2 1268.3,1320.4 1272.4,1321.2 1276.6,1320.7 1280.8,1319.8 1284.9,1319.9 1289.1,1320.5 1293.3,1320.5 1297.4,1320.1 1301.6,1320.6 1305.8,1320.4 1309.9,1319.8 1314.1,1320.9 1318.3,1320.3 1322.5,1319.3 1326.6,1319.9 1330.8,1319.3 1335,1318.3 1339.1,1318 1343.3,1317.5 1347.5,1318 1351.6,1319.2 1355.8,1319.5 1360,1320.6 1364.1,1320.2 1368.3,1319.2" fill="none" stroke="#000" stroke-width="1.6" stroke-linejoin="round"/><polygon points="848.1,1322.3 893.1,1321.3 904.8,1320.4 913.2,1319.2 921.5,1316.9 928.2,1313.8 934,1309.7 939.8,1303.8 944.8,1297 949.8,1288.3 954.8,1277.6 959.8,1264.7 968.2,1239 985.7,1177.3 989.8,1164.3 993.2,1155.3 996.5,1147.9 999.8,1142.4 1003.2,1138.9 1004.9,1138.1 1006.5,1137.8 1008.2,1138.1 1009.9,1138.9 1013.2,1142.3 1016.5,1147.8 1019.9,1155.2 1023.2,1164.2 1026.5,1174.4 1044.9,1238.7 1049.9,1254.7 1054,1266.6 1059,1279.1 1064,1289.4 1069,1297.7 1074.9,1305.1 1080.7,1310.4 1087.4,1314.5 1094.9,1317.3 1103.2,1319.1 1113.2,1320.1 1125.7,1320.6 1180.7,1321.2 1180.7,1321.9 848.1,1323.2" fill="url(#g15)" stroke="none"/><polyline points="848.1,1322.3 876.5,1321.8 893.1,1321.3 904.8,1320.4 913.2,1319.2 917.3,1318.2 921.5,1316.9 924.8,1315.5 928.2,1313.8 931.5,1311.6 934,1309.7 937.3,1306.5 939.8,1303.8 942.3,1300.6 944.8,1297 947.3,1292.9 949.8,1288.3 954.8,1277.6 959.8,1264.7 964,1252.5 968.2,1239 985.7,1177.3 989.8,1164.3 993.2,1155.3 996.5,1147.9 998.2,1144.9 999.8,1142.4 1001.5,1140.4 1003.2,1138.9 1004.9,1138.1 1006.5,1137.8 1008.2,1138.1 1009.9,1138.9 1011.5,1140.3 1013.2,1142.3 1014.9,1144.8 1016.5,1147.8 1019.9,1155.2 1023.2,1164.2 1026.5,1174.4 1030.7,1188.5 1044.9,1238.7 1049.9,1254.7 1054,1266.6 1059,1279.1 1064,1289.4 1066.5,1293.8 1069,1297.7 1071.5,1301.2 1074.9,1305.1 1077.4,1307.6 1080.7,1310.4 1084,1312.7 1087.4,1314.5 1090.7,1315.9 1094.9,1317.3 1099,1318.3 1103.2,1319.1 1113.2,1320.1 1125.7,1320.6 1147.4,1321 1180.7,1321.2" fill="none" stroke="#2f7fc4" stroke-width="1.4" stroke-linejoin="round"/><polyline points="743.1,1323.4 954,1323 1118.2,1322.3 1239.9,1321.5 1368.3,1319.1" fill="none" stroke="#2f7fc4" stroke-width="1.6" stroke-linejoin="round"/><polyline points="755.6,1542.6 759.8,1542.5 763.9,1543 768.1,1542.7 776.4,1543.4 784.8,1543 788.9,1542.1 801.5,1543 805.6,1544 809.8,1542.4 814,1542.3 818.1,1542.9 822.3,1541.4 826.5,1541.6 834.8,1543.1 839,1544.6 843.1,1543.1 847.3,1541 851.5,1542.1 855.6,1541.9 859.8,1540.6 864,1540.7 868.1,1541.6 872.3,1541.9 876.5,1541.6 880.6,1542.1 884.8,1542.3 889,1541.7 893.1,1540.7 897.3,1538.3 901.5,1538.9 905.7,1540 909.8,1538.9 914,1537.4 926.5,1529.5 930.7,1524.7 939,1511.4 943.2,1502.8 947.3,1493.3 951.5,1479.8 955.7,1464.8 959.8,1448.4 968.2,1410.1 972.3,1393.1 980.7,1364.2 984.8,1352.7 989,1345.6 993.2,1340.8 997.3,1338.7 1001.5,1340.6 1005.7,1345.9 1009.9,1353 1014,1362 1018.2,1374.1 1026.5,1404.3 1034.9,1435.5 1043.2,1465.3 1047.4,1477.3 1051.5,1488.1 1055.7,1497.8 1059.9,1506 1064,1512.9 1068.2,1518 1072.4,1522.1 1080.7,1527.7 1084.9,1529.3 1089,1530.6 1097.4,1531.9 1101.5,1534.9 1105.7,1536.3 1109.9,1536.8 1114.1,1536.9 1118.2,1536.2 1122.4,1536.3 1126.6,1537.3 1130.7,1537.6 1134.9,1538.6 1139.1,1540 1143.2,1539.5 1147.4,1538 1151.6,1537.8 1155.7,1538.5 1159.9,1538.5 1168.2,1539.8 1176.6,1540.4 1180.7,1539.7 1184.9,1539.5 1189.1,1541.1 1193.2,1541.9 1197.4,1540.7 1201.6,1540.5 1205.7,1541.4 1209.9,1540.4 1214.1,1540.5 1218.3,1541.5 1222.4,1541.4 1226.6,1542.2 1230.8,1541.9 1234.9,1541 1239.1,1541.6 1243.3,1541.7 1247.4,1541.1 1251.6,1541.1 1255.8,1541.5 1259.9,1542.6 1264.1,1543.1 1268.3,1541.6 1272.4,1541.6 1280.8,1540.2 1284.9,1541.7 1289.1,1540.4 1293.3,1540 1297.4,1541.4 1301.6,1540.3 1305.8,1540.4 1309.9,1540 1314.1,1540 1318.3,1540.6 1322.5,1540.6 1326.6,1539.9 1330.8,1539.5 1335,1540.7 1339.1,1539.7 1343.3,1540.1 1347.5,1539.9 1351.6,1540.2 1355.8,1542.1 1360,1540.2 1364.1,1539.9 1368.3,1540.6" fill="none" stroke="#000" stroke-width="1.6" stroke-linejoin="round"/><polygon points="848.1,1542.2 889.8,1541.1 900.7,1540.2 909,1538.8 916.5,1536.5 923.2,1533.2 929,1528.9 934.8,1522.6 939.8,1515.4 944.8,1506.2 949.8,1494.9 954.8,1481.3 963.2,1454 980.7,1388.7 984.8,1374.9 988.2,1365.4 991.5,1357.5 994.8,1351.6 998.2,1348 999.8,1347.1 1001.5,1346.8 1003.2,1347.1 1004.9,1348 1008.2,1351.6 1011.5,1357.4 1014.9,1365.2 1018.2,1374.7 1021.5,1385.6 1039.9,1453.6 1044.9,1470.6 1049,1483.2 1054,1496.4 1059.9,1509 1064.9,1517.5 1070.7,1524.9 1076.5,1530.3 1083.2,1534.4 1090.7,1537.2 1099,1538.9 1109.1,1539.9 1123.2,1540.6 1180.7,1541.1 1180.7,1541.9 953.2,1543 848.1,1543.2" fill="url(#g16)" stroke="none"/><polyline points="848.1,1542.2 874,1541.7 889.8,1541.1 900.7,1540.2 909,1538.8 913.2,1537.7 916.5,1536.5 919.8,1535.1 923.2,1533.2 926.5,1530.9 929,1528.9 932.3,1525.6 934.8,1522.6 937.3,1519.3 939.8,1515.4 942.3,1511.1 944.8,1506.2 949.8,1494.9 954.8,1481.3 959,1468.3 963.2,1454 980.7,1388.7 984.8,1374.9 988.2,1365.4 991.5,1357.5 993.2,1354.3 994.8,1351.6 996.5,1349.5 998.2,1348 999.8,1347.1 1001.5,1346.8 1003.2,1347.1 1004.9,1348 1006.5,1349.5 1008.2,1351.6 1009.9,1354.2 1011.5,1357.4 1014.9,1365.2 1018.2,1374.7 1021.5,1385.6 1025.7,1400.5 1039.9,1453.6 1044.9,1470.6 1049,1483.2 1054,1496.4 1056.5,1502.2 1059.9,1509 1062.4,1513.5 1064.9,1517.5 1067.4,1521 1070.7,1524.9 1073.2,1527.5 1076.5,1530.3 1079.9,1532.6 1083.2,1534.4 1086.5,1535.8 1090.7,1537.2 1094.9,1538.2 1099,1538.9 1109.1,1539.9 1123.2,1540.6 1145.7,1540.9 1180.7,1541.1" fill="none" stroke="#2f7fc4" stroke-width="1.4" stroke-linejoin="round"/><polyline points="743.1,1543.3 952.3,1543 1240.8,1541.6 1368.3,1539.5" fill="none" stroke="#2f7fc4" stroke-width="1.6" stroke-linejoin="round"/><rect x="743.10" y="1116.00" width="625.20" height="436.30" fill="none" stroke="#1a1a1a" stroke-width="1.6"/><line x1="743.10" y1="1334.00" x2="1368.30" y2="1334.00" stroke="#1a1a1a" stroke-width="1.6"/><line x1="743.10" y1="1552.30" x2="743.10" y2="1556.80" stroke="#1a1a1a" stroke-width="1.5"/><line x1="826.46" y1="1552.30" x2="826.46" y2="1556.80" stroke="#1a1a1a" stroke-width="1.5"/><line x1="909.82" y1="1552.30" x2="909.82" y2="1556.80" stroke="#1a1a1a" stroke-width="1.5"/><line x1="993.18" y1="1552.30" x2="993.18" y2="1556.80" stroke="#1a1a1a" stroke-width="1.5"/><line x1="1076.54" y1="1552.30" x2="1076.54" y2="1556.80" stroke="#1a1a1a" stroke-width="1.5"/><line x1="1159.90" y1="1552.30" x2="1159.90" y2="1556.80" stroke="#1a1a1a" stroke-width="1.5"/><line x1="1243.26" y1="1552.30" x2="1243.26" y2="1556.80" stroke="#1a1a1a" stroke-width="1.5"/><line x1="1326.62" y1="1552.30" x2="1326.62" y2="1556.80" stroke="#1a1a1a" stroke-width="1.5"/><line x1="784.78" y1="1552.30" x2="784.78" y2="1560.30" stroke="#1a1a1a" stroke-width="1.5"/><text transform="translate(784.78,1586.10)" font-size="24" font-weight="bold" text-anchor="middle" fill="#000">128</text><line x1="868.14" y1="1552.30" x2="868.14" y2="1560.30" stroke="#1a1a1a" stroke-width="1.5"/><text transform="translate(868.14,1586.10)" font-size="24" font-weight="bold" text-anchor="middle" fill="#000">130</text><line x1="951.50" y1="1552.30" x2="951.50" y2="1560.30" stroke="#1a1a1a" stroke-width="1.5"/><text transform="translate(951.50,1586.10)" font-size="24" font-weight="bold" text-anchor="middle" fill="#000">132</text><line x1="1034.86" y1="1552.30" x2="1034.86" y2="1560.30" stroke="#1a1a1a" stroke-width="1.5"/><text transform="translate(1034.86,1586.10)" font-size="24" font-weight="bold" text-anchor="middle" fill="#000">134</text><line x1="1118.22" y1="1552.30" x2="1118.22" y2="1560.30" stroke="#1a1a1a" stroke-width="1.5"/><text transform="translate(1118.22,1586.10)" font-size="24" font-weight="bold" text-anchor="middle" fill="#000">136</text><line x1="1201.58" y1="1552.30" x2="1201.58" y2="1560.30" stroke="#1a1a1a" stroke-width="1.5"/><text transform="translate(1201.58,1586.10)" font-size="24" font-weight="bold" text-anchor="middle" fill="#000">138</text><line x1="1284.94" y1="1552.30" x2="1284.94" y2="1560.30" stroke="#1a1a1a" stroke-width="1.5"/><text transform="translate(1284.94,1586.10)" font-size="24" font-weight="bold" text-anchor="middle" fill="#000">140</text><line x1="1368.30" y1="1552.30" x2="1368.30" y2="1560.30" stroke="#1a1a1a" stroke-width="1.5"/><text transform="translate(1368.30,1586.10)" font-size="24" font-weight="bold" text-anchor="middle" fill="#000">142</text><text transform="translate(1054.80,1618.40) scale(0.975,1)" font-size="24.8" font-weight="bold" text-anchor="middle" fill="#000">Binding Energy (eV)</text><text transform="translate(725.80,1332.50) rotate(-90) scale(0.92,1)" font-size="26.5" font-weight="bold" text-anchor="middle" fill="#000">Intensity (a.u.)</text><text transform="translate(694.00,1136.00)" font-size="33.5" font-weight="bold" text-anchor="start" fill="#000">(f)</text><text transform="translate(1315.20,1137.30) scale(1.04,1)" font-size="21.5" font-weight="bold" text-anchor="start" fill="#000">Sr 3d</text><text transform="translate(1033.70,1142.40)" font-size="24" font-weight="bold" text-anchor="start" fill="#000">133.6 eV</text><text transform="translate(914.10,1216.70)" font-size="22.3" font-weight="bold" text-anchor="start" fill="#3a80c0"><tspan dy="-0.00">Sr</tspan><tspan dy="-8.47" font-size="13.8">2+</tspan></text><text transform="translate(1278.70,1309.70)" font-size="21.5" font-weight="bold" text-anchor="start" fill="#000">SW33</text><line x1="764.30" y1="1268.40" x2="764.30" y2="1292.80" stroke="#1a1a1a" stroke-width="2.0"/><line x1="761.10" y1="1268.40" x2="767.50" y2="1268.40" stroke="#1a1a1a" stroke-width="2.0"/><line x1="761.10" y1="1292.80" x2="767.50" y2="1292.80" stroke="#1a1a1a" stroke-width="2.0"/><text transform="translate(777.20,1292.80)" font-size="24" font-weight="bold" text-anchor="start" fill="#000">3000</text><text transform="translate(912.00,1389.10)" font-size="22.3" font-weight="bold" text-anchor="start" fill="#3a80c0"><tspan dy="-0.00">Sr</tspan><tspan dy="-8.47" font-size="13.8">2+</tspan></text><text transform="translate(1276.40,1530.00)" font-size="21.5" font-weight="bold" text-anchor="start" fill="#000">SW35</text><line x1="766.00" y1="1493.20" x2="766.00" y2="1518.50" stroke="#1a1a1a" stroke-width="2.0"/><line x1="762.80" y1="1493.20" x2="769.20" y2="1493.20" stroke="#1a1a1a" stroke-width="2.0"/><line x1="762.80" y1="1518.50" x2="769.20" y2="1518.50" stroke="#1a1a1a" stroke-width="2.0"/><text transform="translate(778.50,1517.50)" font-size="24" font-weight="bold" text-anchor="start" fill="#000">3000</text><line x1="1006.70" y1="1127.90" x2="1006.70" y2="1167.70" stroke="#111" stroke-width="1.3" stroke-dasharray="16,5,9,40"/><line x1="1001.60" y1="1340.10" x2="1001.60" y2="1380.60" stroke="#111" stroke-width="1.3" stroke-dasharray="10,6,10,6,10,40"/><polygon points="1451.8,1281.7 1497.3,1285.1 1512.7,1285.6 1527.4,1285.4 1541.3,1284.7 1554.5,1283.3 1591.9,1277.3 1604.4,1275.8 1616.9,1275 1629.4,1275.4 1636.7,1276.1 1644,1277.2 1651.4,1278.8 1659.4,1280.9 1673.4,1285.5 1710,1299 1730.6,1305.2 1750.4,1309.7 1772.4,1313.4 1792.2,1315.9 1817.1,1318.6 1831.8,1319.4 1869.2,1318.7 1911,1315 1911,1315 1867,1318.8 1834,1319.5 1821.5,1319 1704.2,1307.9 1628.6,1301.3 1531.1,1289.9 1460.6,1282.5 1451.8,1281.8" fill="url(#g17)" stroke="none"/><polyline points="1451.8,1281.7 1481.9,1284.1 1497.3,1285.1 1512.7,1285.6 1527.4,1285.4 1541.3,1284.7 1554.5,1283.3 1566.3,1281.6 1591.9,1277.3 1604.4,1275.8 1611,1275.2 1616.9,1275 1623.5,1275.1 1629.4,1275.4 1636.7,1276.1 1644,1277.2 1651.4,1278.8 1659.4,1280.9 1673.4,1285.5 1710,1299 1720.3,1302.3 1730.6,1305.2 1740.1,1307.6 1750.4,1309.7 1760.7,1311.6 1772.4,1313.4 1792.2,1315.9 1817.1,1318.6 1824.5,1319.2 1831.8,1319.4 1861.1,1319 1869.2,1318.7 1877.3,1318.1 1903.7,1315.5 1911,1315" fill="none" stroke="#f04848" stroke-width="1.2" stroke-linejoin="round"/><polyline points="1451.8,1281.8 1460.6,1282.5 1531.1,1289.9 1628.6,1301.3 1704.2,1307.9 1821.5,1319 1828.1,1319.4 1834,1319.5 1867,1318.8 1876.6,1318.1 1903,1315.5 1911,1315" fill="none" stroke="#f04848" stroke-width="1.0" stroke-linejoin="round"/><polyline points="1450,1278.2 1453.7,1275.5 1457.3,1285.8 1461,1274.7 1464.7,1271.2 1468.3,1283 1472,1283.6 1475.7,1274.2 1479.3,1275.8 1483,1292.1 1486.7,1272.8 1490.3,1275 1494,1283 1497.7,1280.5 1501.4,1284.5 1505,1280.9 1508.7,1275.2 1512.4,1278.2 1516,1275.2 1519.7,1282.4 1523.4,1281.3 1527,1273 1530.7,1281.9 1534.4,1275.8 1538,1279 1541.7,1274.7 1545.4,1276 1549,1259.6 1552.7,1272.8 1556.4,1261.5 1560,1273.7 1563.7,1261.6 1567.4,1264.6 1571,1263.4 1574.7,1267.9 1578.4,1271.7 1582,1267.2 1585.7,1266.6 1589.4,1268.5 1593,1268.2 1596.7,1270 1600.4,1267 1604,1271 1607.7,1280.1 1611.4,1278.7 1615,1264.8 1618.7,1272.4 1622.4,1274.6 1626.1,1271.2 1629.7,1270.7 1633.4,1273.9 1637.1,1279.4 1640.7,1279.9 1644.4,1275.1 1648.1,1280.1 1651.7,1276.4 1655.4,1279.8 1659.1,1277.8 1662.7,1272.2 1666.4,1277.4 1670.1,1283.7 1673.7,1288.7 1677.4,1285.5 1681.1,1295.2 1684.7,1290.5 1688.4,1287.1 1692.1,1285.6 1695.7,1300.2 1699.4,1288.7 1703.1,1285.2 1706.7,1293.8 1710.4,1290 1714.1,1296.8 1717.7,1287 1721.4,1300.2 1725.1,1301.5 1728.7,1295.6 1732.4,1293.4 1739.7,1306 1743.4,1298 1747.1,1301 1750.8,1308.7 1754.4,1306.5 1758.1,1303.4 1761.8,1306.3 1765.4,1306.1 1769.1,1303.7 1772.8,1305.6 1776.4,1293.5 1780.1,1308 1783.8,1312.3 1787.4,1311.8 1791.1,1306.7 1794.8,1317.8 1798.4,1316.8 1802.1,1306.2 1805.8,1310.8 1809.4,1309.2 1813.1,1307.3 1816.8,1316.6 1820.4,1316.4 1824.1,1307.8 1831.4,1313.1 1835.1,1309.4 1838.8,1315.8 1842.4,1312.5 1846.1,1312.5 1849.8,1303 1853.4,1316.6 1857.1,1298.9 1860.8,1309.5 1864.4,1315 1868.1,1309.6 1871.8,1304.8 1875.5,1306.1 1879.1,1301.7 1882.8,1313.8 1886.5,1309.3 1890.1,1302.2 1893.8,1315.5 1897.5,1303.4 1901.1,1308 1904.8,1297 1908.5,1306 1912.1,1309.7 1915.8,1307.1 1919.5,1302.7 1923.1,1312.1 1926.8,1301.6 1930.5,1313 1934.1,1304.1 1937.8,1303.5 1941.5,1304.6 1945.1,1303.6 1948.8,1310.4 1956.1,1290.3 1959.8,1298.7 1963.5,1290.9 1967.1,1292.6 1970.8,1292 1974.5,1294.1 1978.1,1299 1981.8,1292.6 1985.5,1289.4 1989.1,1286.6 1992.8,1286.2 1996.5,1287.2 2000.2,1289.9 2003.8,1288.7 2007.5,1290.7 2011.2,1274.4 2014.8,1287.3 2018.5,1285.3 2022.2,1268.7 2025.8,1284.3 2029.5,1277.1 2033.2,1268.3 2036.8,1276.8 2040.5,1269.5 2044.2,1275 2047.8,1279.3 2051.5,1282.4" fill="none" stroke="#000" stroke-width="1.3" stroke-linejoin="round"/><polygon points="1453.3,1480.2 1476.8,1482 1490,1482.6 1503.2,1482.6 1515.7,1482 1527.4,1480.7 1539.1,1478.8 1575.1,1470.7 1586.8,1468.6 1599.3,1467.3 1611,1467.3 1619.1,1468 1626.4,1469.2 1633.8,1470.9 1641.8,1473.3 1655.8,1478.6 1693.2,1494.8 1704.9,1499.2 1715.9,1502.6 1726.9,1505.5 1737.9,1507.9 1750.4,1510.1 1764.3,1512 1802.5,1515.8 1818.6,1516.3 1880.2,1514.8 1955,1509.2 1955,1509.2 1878,1515 1817.9,1516.3 1805.4,1516.1 1615.4,1500.6 1462.1,1481.4 1453.3,1480.6" fill="url(#g18)" stroke="none"/><polyline points="1453.3,1480.2 1476.8,1482 1490,1482.6 1503.2,1482.6 1515.7,1482 1527.4,1480.7 1539.1,1478.8 1550.9,1476.4 1575.1,1470.7 1586.8,1468.6 1593.4,1467.7 1599.3,1467.3 1605.1,1467.1 1611,1467.3 1619.1,1468 1626.4,1469.2 1633.8,1470.9 1641.8,1473.3 1648.4,1475.7 1655.8,1478.6 1682.2,1490.2 1693.2,1494.8 1704.9,1499.2 1715.9,1502.6 1726.9,1505.5 1737.9,1507.9 1750.4,1510.1 1764.3,1512 1781.2,1513.8 1802.5,1515.8 1810.5,1516.2 1818.6,1516.3 1871.4,1515.2 1880.2,1514.8 1947,1509.7 1955,1509.2" fill="none" stroke="#f04848" stroke-width="1.2" stroke-linejoin="round"/><polyline points="1453.3,1480.6 1462.1,1481.4 1615.4,1500.6 1805.4,1516.1 1817.9,1516.3 1878,1515 1887.6,1514.4 1946.2,1509.7 1955,1509.2" fill="none" stroke="#f04848" stroke-width="1.0" stroke-linejoin="round"/><polyline points="1450,1464.9 1453.7,1466.1 1457.3,1476.2 1461,1477.6 1464.7,1474.7 1468.3,1477.5 1472,1477.3 1475.7,1467.8 1483,1473.9 1486.7,1467.9 1490.3,1469.5 1494,1476.3 1497.7,1463.5 1501.4,1468.8 1505,1471.9 1508.7,1468 1512.4,1469.8 1516,1473.3 1519.7,1467.4 1523.4,1485.6 1527,1469.8 1530.7,1470 1534.4,1466.8 1538,1456.9 1541.7,1468.4 1545.4,1464 1549,1472 1552.7,1470.7 1556.4,1471.4 1560,1466 1567.4,1470.1 1571,1472.4 1574.7,1472.2 1578.4,1477.3 1582,1469.3 1585.7,1472.5 1589.4,1478 1593,1468.9 1596.7,1480.7 1600.4,1469.5 1604,1472.3 1607.7,1467.1 1611.4,1473.2 1615,1473.5 1618.7,1471.3 1622.4,1460.1 1626.1,1469.2 1629.7,1465.2 1633.4,1468.2 1637.1,1460.5 1640.7,1468.4 1644.4,1475.1 1648.1,1473.8 1651.7,1475.8 1655.4,1481.6 1659.1,1483.8 1662.7,1481.7 1670.1,1485.4 1673.7,1474.9 1677.4,1471 1681.1,1478 1684.7,1487.9 1688.4,1491 1692.1,1479.3 1695.7,1494 1699.4,1498 1703.1,1487.1 1706.7,1490.4 1710.4,1492.8 1714.1,1498.4 1717.7,1496.2 1721.4,1496.2 1725.1,1493.4 1728.7,1489.5 1732.4,1501.6 1736.1,1496.4 1739.7,1495.7 1743.4,1496.1 1747.1,1494.8 1750.8,1501.5 1754.4,1499.4 1758.1,1498.1 1761.8,1509 1765.4,1510.2 1769.1,1510.4 1772.8,1503.8 1776.4,1508.8 1780.1,1516.5 1783.8,1509.5 1787.4,1510.7 1791.1,1513.4 1794.8,1515.5 1798.4,1504.8 1802.1,1512.3 1805.8,1508.1 1809.4,1513.8 1813.1,1511.8 1816.8,1511.2 1820.4,1509.3 1824.1,1510.1 1831.4,1511.2 1835.1,1508.3 1838.8,1512.5 1842.4,1518.2 1846.1,1506.8 1849.8,1510.4 1853.4,1507.8 1857.1,1516.1 1860.8,1513.4 1864.4,1512.2 1868.1,1507.8 1871.8,1510.2 1875.5,1512.2 1879.1,1503.1 1882.8,1502.5 1886.5,1510.9 1890.1,1506.3 1893.8,1508.5 1897.5,1506.5 1901.1,1503.5 1904.8,1501.8 1908.5,1510.2 1912.1,1506.5 1915.8,1505.9 1919.5,1506.6 1923.1,1504.3 1926.8,1503.1 1930.5,1493.6 1934.1,1487.1 1937.8,1501.6 1941.5,1491.6 1945.1,1497.7 1948.8,1495.1 1952.5,1495.6 1956.1,1505.4 1959.8,1494.5 1963.5,1501.9 1967.1,1499.3 1970.8,1501.4 1974.5,1499.4 1981.8,1493.6 1985.5,1492 1989.1,1494.4 1992.8,1491.3 1996.5,1500.9 2000.2,1484.9 2003.8,1491.2 2007.5,1492.7 2011.2,1485.5 2014.8,1492.5 2018.5,1491.3 2022.2,1482.8 2025.8,1479.3 2029.5,1486.6 2033.2,1480.5 2036.8,1471.9 2040.5,1470 2044.2,1474 2047.8,1483 2051.5,1476" fill="none" stroke="#000" stroke-width="1.3" stroke-linejoin="round"/><rect x="1429.10" y="1115.30" width="623.50" height="435.00" fill="none" stroke="#1a1a1a" stroke-width="1.6"/><line x1="1429.10" y1="1332.60" x2="2052.60" y2="1332.60" stroke="#1a1a1a" stroke-width="1.6"/><line x1="1429.10" y1="1550.30" x2="1429.10" y2="1554.80" stroke="#1a1a1a" stroke-width="1.5"/><line x1="1502.45" y1="1550.30" x2="1502.45" y2="1554.80" stroke="#1a1a1a" stroke-width="1.5"/><line x1="1575.81" y1="1550.30" x2="1575.81" y2="1554.80" stroke="#1a1a1a" stroke-width="1.5"/><line x1="1649.16" y1="1550.30" x2="1649.16" y2="1554.80" stroke="#1a1a1a" stroke-width="1.5"/><line x1="1722.51" y1="1550.30" x2="1722.51" y2="1554.80" stroke="#1a1a1a" stroke-width="1.5"/><line x1="1795.86" y1="1550.30" x2="1795.86" y2="1554.80" stroke="#1a1a1a" stroke-width="1.5"/><line x1="1869.22" y1="1550.30" x2="1869.22" y2="1554.80" stroke="#1a1a1a" stroke-width="1.5"/><line x1="1942.57" y1="1550.30" x2="1942.57" y2="1554.80" stroke="#1a1a1a" stroke-width="1.5"/><line x1="2015.92" y1="1550.30" x2="2015.92" y2="1554.80" stroke="#1a1a1a" stroke-width="1.5"/><line x1="1465.78" y1="1550.30" x2="1465.78" y2="1558.30" stroke="#1a1a1a" stroke-width="1.5"/><text transform="translate(1465.78,1584.10)" font-size="24" font-weight="bold" text-anchor="middle" fill="#000">152</text><line x1="1539.13" y1="1550.30" x2="1539.13" y2="1558.30" stroke="#1a1a1a" stroke-width="1.5"/><text transform="translate(1539.13,1584.10)" font-size="24" font-weight="bold" text-anchor="middle" fill="#000">154</text><line x1="1612.48" y1="1550.30" x2="1612.48" y2="1558.30" stroke="#1a1a1a" stroke-width="1.5"/><text transform="translate(1612.48,1584.10)" font-size="24" font-weight="bold" text-anchor="middle" fill="#000">156</text><line x1="1685.84" y1="1550.30" x2="1685.84" y2="1558.30" stroke="#1a1a1a" stroke-width="1.5"/><text transform="translate(1685.84,1584.10)" font-size="24" font-weight="bold" text-anchor="middle" fill="#000">158</text><line x1="1759.19" y1="1550.30" x2="1759.19" y2="1558.30" stroke="#1a1a1a" stroke-width="1.5"/><text transform="translate(1759.19,1584.10)" font-size="24" font-weight="bold" text-anchor="middle" fill="#000">160</text><line x1="1832.54" y1="1550.30" x2="1832.54" y2="1558.30" stroke="#1a1a1a" stroke-width="1.5"/><text transform="translate(1832.54,1584.10)" font-size="24" font-weight="bold" text-anchor="middle" fill="#000">162</text><line x1="1905.89" y1="1550.30" x2="1905.89" y2="1558.30" stroke="#1a1a1a" stroke-width="1.5"/><text transform="translate(1905.89,1584.10)" font-size="24" font-weight="bold" text-anchor="middle" fill="#000">164</text><line x1="1979.25" y1="1550.30" x2="1979.25" y2="1558.30" stroke="#1a1a1a" stroke-width="1.5"/><text transform="translate(1979.25,1584.10)" font-size="24" font-weight="bold" text-anchor="middle" fill="#000">166</text><line x1="2052.60" y1="1550.30" x2="2052.60" y2="1558.30" stroke="#1a1a1a" stroke-width="1.5"/><text transform="translate(2052.60,1584.10)" font-size="24" font-weight="bold" text-anchor="middle" fill="#000">168</text><text transform="translate(1738.60,1614.30) scale(0.975,1)" font-size="24.8" font-weight="bold" text-anchor="middle" fill="#000">Binding Energy (eV)</text><text transform="translate(1411.40,1330.80) rotate(-90) scale(0.93,1)" font-size="26" font-weight="bold" text-anchor="middle" fill="#000">Intensity (a.u.)</text><text transform="translate(1385.20,1132.50)" font-size="33.5" font-weight="bold" text-anchor="start" fill="#000">(g)</text><text transform="translate(2006.30,1135.60) scale(1.04,1)" font-size="21.5" font-weight="bold" text-anchor="start" fill="#000">Y 3d</text><text transform="translate(1458.20,1225.20)" font-size="24" font-weight="bold" text-anchor="start" fill="#000">500</text><line x1="1448.00" y1="1198.10" x2="1448.00" y2="1235.30" stroke="#1a1a1a" stroke-width="2.0"/><line x1="1444.80" y1="1198.10" x2="1451.20" y2="1198.10" stroke="#1a1a1a" stroke-width="2.0"/><line x1="1444.80" y1="1235.30" x2="1451.20" y2="1235.30" stroke="#1a1a1a" stroke-width="2.0"/><text transform="translate(1530.50,1250.50)" font-size="22.3" font-weight="bold" text-anchor="start" fill="#e8141c"><tspan dy="-0.00">Y</tspan><tspan dy="6.69" font-size="13.8">2</tspan><tspan dy="-6.69">O</tspan><tspan dy="6.69" font-size="13.8">3</tspan></text><text transform="translate(1647.40,1258.00)" font-size="24" font-weight="bold" text-anchor="start" fill="#000">156.6 eV</text><text transform="translate(1908.30,1276.90)" font-size="21.5" font-weight="bold" text-anchor="start" fill="#000">SW33</text><text transform="translate(1459.50,1432.00)" font-size="24" font-weight="bold" text-anchor="start" fill="#000">500</text><line x1="1449.70" y1="1404.30" x2="1449.70" y2="1441.50" stroke="#1a1a1a" stroke-width="2.0"/><line x1="1446.50" y1="1404.30" x2="1452.90" y2="1404.30" stroke="#1a1a1a" stroke-width="2.0"/><line x1="1446.50" y1="1441.50" x2="1452.90" y2="1441.50" stroke="#1a1a1a" stroke-width="2.0"/><text transform="translate(1525.80,1449.20)" font-size="22.3" font-weight="bold" text-anchor="start" fill="#e8141c"><tspan dy="-0.00">Y</tspan><tspan dy="6.69" font-size="13.8">2</tspan><tspan dy="-6.69">O</tspan><tspan dy="6.69" font-size="13.8">3</tspan></text><text transform="translate(1915.80,1475.30)" font-size="21.5" font-weight="bold" text-anchor="start" fill="#000">SW35</text><line x1="1628.50" y1="1262.40" x2="1628.50" y2="1311.40" stroke="#222" stroke-width="1.3" stroke-dasharray="9,5"/><line x1="1615.00" y1="1455.70" x2="1615.00" y2="1510.70" stroke="#222" stroke-width="1.3" stroke-dasharray="9,5"/></svg></body></html>
